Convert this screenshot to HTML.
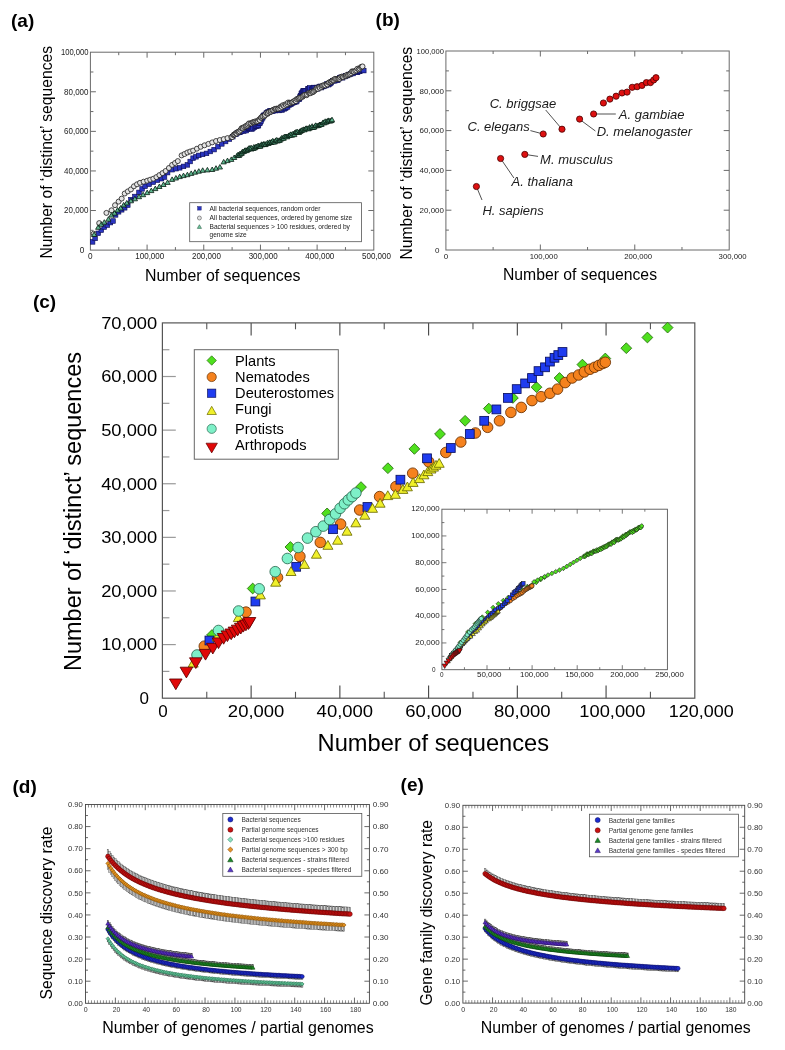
<!DOCTYPE html>
<html><head><meta charset="utf-8"><style>
html,body{margin:0;padding:0;background:#fff;}
body{width:785px;height:1050px;overflow:hidden;}
svg{display:block;font-family:"Liberation Sans",sans-serif;will-change:transform;}
</style></head><body>
<svg width="785" height="1050" viewBox="0 0 785 1050">
<rect x="0" y="0" width="785" height="1050" fill="#fff"/>
<text x="11" y="26.9" font-size="19" font-weight="bold">(a)</text>
<text x="375.6" y="25.7" font-size="19" font-weight="bold">(b)</text>
<text x="32.9" y="307.5" font-size="19" font-weight="bold">(c)</text>
<text x="12.5" y="792.6" font-size="19" font-weight="bold">(d)</text>
<text x="400.6" y="791.4" font-size="19" font-weight="bold">(e)</text>
<rect x="90.4" y="52.2" width="283.4" height="197.9" fill="none" stroke="#6a6a6a" stroke-width="1"/>
<line x1="147.08" y1="250.1" x2="147.08" y2="244.6" stroke="#6a6a6a" stroke-width="1"/>
<line x1="147.08" y1="52.2" x2="147.08" y2="57.7" stroke="#6a6a6a" stroke-width="1"/>
<line x1="203.76" y1="250.1" x2="203.76" y2="244.6" stroke="#6a6a6a" stroke-width="1"/>
<line x1="203.76" y1="52.2" x2="203.76" y2="57.7" stroke="#6a6a6a" stroke-width="1"/>
<line x1="260.44" y1="250.1" x2="260.44" y2="244.6" stroke="#6a6a6a" stroke-width="1"/>
<line x1="260.44" y1="52.2" x2="260.44" y2="57.7" stroke="#6a6a6a" stroke-width="1"/>
<line x1="317.12" y1="250.1" x2="317.12" y2="244.6" stroke="#6a6a6a" stroke-width="1"/>
<line x1="317.12" y1="52.2" x2="317.12" y2="57.7" stroke="#6a6a6a" stroke-width="1"/>
<line x1="118.74" y1="250.1" x2="118.74" y2="247.1" stroke="#6a6a6a" stroke-width="1"/>
<line x1="118.74" y1="52.2" x2="118.74" y2="55.2" stroke="#6a6a6a" stroke-width="1"/>
<line x1="175.42" y1="250.1" x2="175.42" y2="247.1" stroke="#6a6a6a" stroke-width="1"/>
<line x1="175.42" y1="52.2" x2="175.42" y2="55.2" stroke="#6a6a6a" stroke-width="1"/>
<line x1="232.1" y1="250.1" x2="232.1" y2="247.1" stroke="#6a6a6a" stroke-width="1"/>
<line x1="232.1" y1="52.2" x2="232.1" y2="55.2" stroke="#6a6a6a" stroke-width="1"/>
<line x1="288.78" y1="250.1" x2="288.78" y2="247.1" stroke="#6a6a6a" stroke-width="1"/>
<line x1="288.78" y1="52.2" x2="288.78" y2="55.2" stroke="#6a6a6a" stroke-width="1"/>
<line x1="345.46" y1="250.1" x2="345.46" y2="247.1" stroke="#6a6a6a" stroke-width="1"/>
<line x1="345.46" y1="52.2" x2="345.46" y2="55.2" stroke="#6a6a6a" stroke-width="1"/>
<line x1="90.4" y1="210.52" x2="95.9" y2="210.52" stroke="#6a6a6a" stroke-width="1"/>
<line x1="373.8" y1="210.52" x2="368.3" y2="210.52" stroke="#6a6a6a" stroke-width="1"/>
<line x1="90.4" y1="170.94" x2="95.9" y2="170.94" stroke="#6a6a6a" stroke-width="1"/>
<line x1="373.8" y1="170.94" x2="368.3" y2="170.94" stroke="#6a6a6a" stroke-width="1"/>
<line x1="90.4" y1="131.36" x2="95.9" y2="131.36" stroke="#6a6a6a" stroke-width="1"/>
<line x1="373.8" y1="131.36" x2="368.3" y2="131.36" stroke="#6a6a6a" stroke-width="1"/>
<line x1="90.4" y1="91.78" x2="95.9" y2="91.78" stroke="#6a6a6a" stroke-width="1"/>
<line x1="373.8" y1="91.78" x2="368.3" y2="91.78" stroke="#6a6a6a" stroke-width="1"/>
<line x1="90.4" y1="230.31" x2="93.4" y2="230.31" stroke="#6a6a6a" stroke-width="1"/>
<line x1="373.8" y1="230.31" x2="370.8" y2="230.31" stroke="#6a6a6a" stroke-width="1"/>
<line x1="90.4" y1="190.73" x2="93.4" y2="190.73" stroke="#6a6a6a" stroke-width="1"/>
<line x1="373.8" y1="190.73" x2="370.8" y2="190.73" stroke="#6a6a6a" stroke-width="1"/>
<line x1="90.4" y1="151.15" x2="93.4" y2="151.15" stroke="#6a6a6a" stroke-width="1"/>
<line x1="373.8" y1="151.15" x2="370.8" y2="151.15" stroke="#6a6a6a" stroke-width="1"/>
<line x1="90.4" y1="111.57" x2="93.4" y2="111.57" stroke="#6a6a6a" stroke-width="1"/>
<line x1="373.8" y1="111.57" x2="370.8" y2="111.57" stroke="#6a6a6a" stroke-width="1"/>
<line x1="90.4" y1="71.99" x2="93.4" y2="71.99" stroke="#6a6a6a" stroke-width="1"/>
<line x1="373.8" y1="71.99" x2="370.8" y2="71.99" stroke="#6a6a6a" stroke-width="1"/>
<text x="88.5" y="213.32" font-size="8.2" text-anchor="end" textLength="24.4" lengthAdjust="spacingAndGlyphs" fill="#222">20,000</text>
<text x="88.5" y="173.74" font-size="8.2" text-anchor="end" textLength="24.4" lengthAdjust="spacingAndGlyphs" fill="#222">40,000</text>
<text x="88.5" y="134.16" font-size="8.2" text-anchor="end" textLength="24.4" lengthAdjust="spacingAndGlyphs" fill="#222">60,000</text>
<text x="88.5" y="94.58" font-size="8.2" text-anchor="end" textLength="24.4" lengthAdjust="spacingAndGlyphs" fill="#222">80,000</text>
<text x="88.5" y="55" font-size="8.2" text-anchor="end" textLength="27.6" lengthAdjust="spacingAndGlyphs" fill="#222">100,000</text>
<text x="84.2" y="252.9" font-size="8.2" text-anchor="end" fill="#222">0</text>
<text x="90.4" y="259.4" font-size="8.2" text-anchor="middle" fill="#222">0</text>
<text x="149.78" y="259.4" font-size="8.2" text-anchor="middle" textLength="29" lengthAdjust="spacingAndGlyphs" fill="#222">100,000</text>
<text x="206.46" y="259.4" font-size="8.2" text-anchor="middle" textLength="29" lengthAdjust="spacingAndGlyphs" fill="#222">200,000</text>
<text x="263.14" y="259.4" font-size="8.2" text-anchor="middle" textLength="29" lengthAdjust="spacingAndGlyphs" fill="#222">300,000</text>
<text x="319.82" y="259.4" font-size="8.2" text-anchor="middle" textLength="29" lengthAdjust="spacingAndGlyphs" fill="#222">400,000</text>
<text x="376.5" y="259.4" font-size="8.2" text-anchor="middle" textLength="29" lengthAdjust="spacingAndGlyphs" fill="#222">500,000</text>
<text x="145" y="280.8" font-size="16" textLength="155.5" lengthAdjust="spacingAndGlyphs">Number of sequences</text>
<text x="52" y="258.6" font-size="15.8" textLength="212.6" lengthAdjust="spacingAndGlyphs" transform="rotate(-90 52 258.6)">Number of ‘distinct’ sequences</text>
<rect x="189.7" y="202.7" width="171.8" height="39" fill="#fff" stroke="#555" stroke-width="0.8"/>
<text x="209.5" y="210.6" font-size="6.6" textLength="110.9" lengthAdjust="spacingAndGlyphs" fill="#222">All bacterial sequences, random order</text>
<text x="209.5" y="220.3" font-size="6.6" textLength="142.8" lengthAdjust="spacingAndGlyphs" fill="#222">All bacterial sequences, ordered by genome size</text>
<text x="209.5" y="228.8" font-size="6.6" textLength="140.4" lengthAdjust="spacingAndGlyphs" fill="#222">Bacterial sequences &gt; 100 residues, ordered by</text>
<text x="209.5" y="236.5" font-size="6.6" textLength="37.1" lengthAdjust="spacingAndGlyphs" fill="#222">genome size</text>
<rect x="445.9" y="51" width="283.3" height="199" fill="none" stroke="#6a6a6a" stroke-width="1"/>
<line x1="540.33" y1="250" x2="540.33" y2="244.5" stroke="#6a6a6a" stroke-width="1"/>
<line x1="540.33" y1="51" x2="540.33" y2="56.5" stroke="#6a6a6a" stroke-width="1"/>
<line x1="634.77" y1="250" x2="634.77" y2="244.5" stroke="#6a6a6a" stroke-width="1"/>
<line x1="634.77" y1="51" x2="634.77" y2="56.5" stroke="#6a6a6a" stroke-width="1"/>
<line x1="493.12" y1="250" x2="493.12" y2="247" stroke="#6a6a6a" stroke-width="1"/>
<line x1="493.12" y1="51" x2="493.12" y2="54" stroke="#6a6a6a" stroke-width="1"/>
<line x1="587.55" y1="250" x2="587.55" y2="247" stroke="#6a6a6a" stroke-width="1"/>
<line x1="587.55" y1="51" x2="587.55" y2="54" stroke="#6a6a6a" stroke-width="1"/>
<line x1="681.98" y1="250" x2="681.98" y2="247" stroke="#6a6a6a" stroke-width="1"/>
<line x1="681.98" y1="51" x2="681.98" y2="54" stroke="#6a6a6a" stroke-width="1"/>
<line x1="445.9" y1="210.2" x2="451.4" y2="210.2" stroke="#6a6a6a" stroke-width="1"/>
<line x1="729.2" y1="210.2" x2="723.7" y2="210.2" stroke="#6a6a6a" stroke-width="1"/>
<line x1="445.9" y1="170.4" x2="451.4" y2="170.4" stroke="#6a6a6a" stroke-width="1"/>
<line x1="729.2" y1="170.4" x2="723.7" y2="170.4" stroke="#6a6a6a" stroke-width="1"/>
<line x1="445.9" y1="130.6" x2="451.4" y2="130.6" stroke="#6a6a6a" stroke-width="1"/>
<line x1="729.2" y1="130.6" x2="723.7" y2="130.6" stroke="#6a6a6a" stroke-width="1"/>
<line x1="445.9" y1="90.8" x2="451.4" y2="90.8" stroke="#6a6a6a" stroke-width="1"/>
<line x1="729.2" y1="90.8" x2="723.7" y2="90.8" stroke="#6a6a6a" stroke-width="1"/>
<line x1="445.9" y1="230.1" x2="448.9" y2="230.1" stroke="#6a6a6a" stroke-width="1"/>
<line x1="729.2" y1="230.1" x2="726.2" y2="230.1" stroke="#6a6a6a" stroke-width="1"/>
<line x1="445.9" y1="190.3" x2="448.9" y2="190.3" stroke="#6a6a6a" stroke-width="1"/>
<line x1="729.2" y1="190.3" x2="726.2" y2="190.3" stroke="#6a6a6a" stroke-width="1"/>
<line x1="445.9" y1="150.5" x2="448.9" y2="150.5" stroke="#6a6a6a" stroke-width="1"/>
<line x1="729.2" y1="150.5" x2="726.2" y2="150.5" stroke="#6a6a6a" stroke-width="1"/>
<line x1="445.9" y1="110.7" x2="448.9" y2="110.7" stroke="#6a6a6a" stroke-width="1"/>
<line x1="729.2" y1="110.7" x2="726.2" y2="110.7" stroke="#6a6a6a" stroke-width="1"/>
<line x1="445.9" y1="70.9" x2="448.9" y2="70.9" stroke="#6a6a6a" stroke-width="1"/>
<line x1="729.2" y1="70.9" x2="726.2" y2="70.9" stroke="#6a6a6a" stroke-width="1"/>
<text x="443.9" y="213" font-size="8" text-anchor="end" textLength="24.3" lengthAdjust="spacingAndGlyphs" fill="#222">20,000</text>
<text x="443.9" y="173.2" font-size="8" text-anchor="end" textLength="24.3" lengthAdjust="spacingAndGlyphs" fill="#222">40,000</text>
<text x="443.9" y="133.4" font-size="8" text-anchor="end" textLength="24.3" lengthAdjust="spacingAndGlyphs" fill="#222">60,000</text>
<text x="443.9" y="93.6" font-size="8" text-anchor="end" textLength="24.3" lengthAdjust="spacingAndGlyphs" fill="#222">80,000</text>
<text x="443.9" y="53.8" font-size="8" text-anchor="end" textLength="27.3" lengthAdjust="spacingAndGlyphs" fill="#222">100,000</text>
<text x="439.5" y="252.8" font-size="8" text-anchor="end" fill="#222">0</text>
<text x="445.9" y="259" font-size="8" text-anchor="middle" fill="#222">0</text>
<text x="543.73" y="259" font-size="8" text-anchor="middle" textLength="28" lengthAdjust="spacingAndGlyphs" fill="#222">100,000</text>
<text x="638.17" y="259" font-size="8" text-anchor="middle" textLength="28" lengthAdjust="spacingAndGlyphs" fill="#222">200,000</text>
<text x="732.6" y="259" font-size="8" text-anchor="middle" textLength="28" lengthAdjust="spacingAndGlyphs" fill="#222">300,000</text>
<text x="503" y="280.3" font-size="16" textLength="154" lengthAdjust="spacingAndGlyphs">Number of sequences</text>
<text x="411.8" y="259.6" font-size="15.8" textLength="212.8" lengthAdjust="spacingAndGlyphs" transform="rotate(-90 411.8 259.6)">Number of ‘distinct’ sequences</text>
<line x1="251.13" y1="698.2" x2="251.13" y2="685.5" stroke="#444" stroke-width="1.1"/>
<line x1="251.13" y1="322.9" x2="251.13" y2="335.6" stroke="#444" stroke-width="1.1"/>
<line x1="339.87" y1="698.2" x2="339.87" y2="685.5" stroke="#444" stroke-width="1.1"/>
<line x1="339.87" y1="322.9" x2="339.87" y2="335.6" stroke="#444" stroke-width="1.1"/>
<line x1="428.6" y1="698.2" x2="428.6" y2="685.5" stroke="#444" stroke-width="1.1"/>
<line x1="428.6" y1="322.9" x2="428.6" y2="335.6" stroke="#444" stroke-width="1.1"/>
<line x1="517.33" y1="698.2" x2="517.33" y2="685.5" stroke="#444" stroke-width="1.1"/>
<line x1="517.33" y1="322.9" x2="517.33" y2="335.6" stroke="#444" stroke-width="1.1"/>
<line x1="606.07" y1="698.2" x2="606.07" y2="685.5" stroke="#444" stroke-width="1.1"/>
<line x1="606.07" y1="322.9" x2="606.07" y2="335.6" stroke="#444" stroke-width="1.1"/>
<line x1="206.77" y1="698.2" x2="206.77" y2="691.8" stroke="#555" stroke-width="1.1"/>
<line x1="206.77" y1="322.9" x2="206.77" y2="329.3" stroke="#555" stroke-width="1.1"/>
<line x1="295.5" y1="698.2" x2="295.5" y2="691.8" stroke="#555" stroke-width="1.1"/>
<line x1="295.5" y1="322.9" x2="295.5" y2="329.3" stroke="#555" stroke-width="1.1"/>
<line x1="384.23" y1="698.2" x2="384.23" y2="691.8" stroke="#555" stroke-width="1.1"/>
<line x1="384.23" y1="322.9" x2="384.23" y2="329.3" stroke="#555" stroke-width="1.1"/>
<line x1="472.97" y1="698.2" x2="472.97" y2="691.8" stroke="#555" stroke-width="1.1"/>
<line x1="472.97" y1="322.9" x2="472.97" y2="329.3" stroke="#555" stroke-width="1.1"/>
<line x1="561.7" y1="698.2" x2="561.7" y2="691.8" stroke="#555" stroke-width="1.1"/>
<line x1="561.7" y1="322.9" x2="561.7" y2="329.3" stroke="#555" stroke-width="1.1"/>
<line x1="650.43" y1="698.2" x2="650.43" y2="691.8" stroke="#555" stroke-width="1.1"/>
<line x1="650.43" y1="322.9" x2="650.43" y2="329.3" stroke="#555" stroke-width="1.1"/>
<line x1="162.4" y1="644.59" x2="175.8" y2="644.59" stroke="#999" stroke-width="1.2"/>
<line x1="162.4" y1="590.97" x2="175.8" y2="590.97" stroke="#999" stroke-width="1.2"/>
<line x1="162.4" y1="537.36" x2="175.8" y2="537.36" stroke="#999" stroke-width="1.2"/>
<line x1="162.4" y1="483.74" x2="175.8" y2="483.74" stroke="#999" stroke-width="1.2"/>
<line x1="162.4" y1="430.13" x2="175.8" y2="430.13" stroke="#999" stroke-width="1.2"/>
<line x1="162.4" y1="376.51" x2="175.8" y2="376.51" stroke="#999" stroke-width="1.2"/>
<line x1="162.4" y1="671.39" x2="169.4" y2="671.39" stroke="#999" stroke-width="1.2"/>
<line x1="162.4" y1="617.78" x2="169.4" y2="617.78" stroke="#999" stroke-width="1.2"/>
<line x1="162.4" y1="564.16" x2="169.4" y2="564.16" stroke="#999" stroke-width="1.2"/>
<line x1="162.4" y1="510.55" x2="169.4" y2="510.55" stroke="#999" stroke-width="1.2"/>
<line x1="162.4" y1="456.94" x2="169.4" y2="456.94" stroke="#999" stroke-width="1.2"/>
<line x1="162.4" y1="403.32" x2="169.4" y2="403.32" stroke="#999" stroke-width="1.2"/>
<line x1="162.4" y1="349.71" x2="169.4" y2="349.71" stroke="#999" stroke-width="1.2"/>
<rect x="162.4" y="322.9" width="532.4" height="375.3" fill="none" stroke="#555" stroke-width="1.2"/>
<text x="157.2" y="650.49" font-size="17" text-anchor="end" textLength="56" lengthAdjust="spacingAndGlyphs">10,000</text>
<text x="157.2" y="596.87" font-size="17" text-anchor="end" textLength="56" lengthAdjust="spacingAndGlyphs">20,000</text>
<text x="157.2" y="543.26" font-size="17" text-anchor="end" textLength="56" lengthAdjust="spacingAndGlyphs">30,000</text>
<text x="157.2" y="489.64" font-size="17" text-anchor="end" textLength="56" lengthAdjust="spacingAndGlyphs">40,000</text>
<text x="157.2" y="436.03" font-size="17" text-anchor="end" textLength="56" lengthAdjust="spacingAndGlyphs">50,000</text>
<text x="157.2" y="382.41" font-size="17" text-anchor="end" textLength="56" lengthAdjust="spacingAndGlyphs">60,000</text>
<text x="157.2" y="328.8" font-size="17" text-anchor="end" textLength="56" lengthAdjust="spacingAndGlyphs">70,000</text>
<text x="148.9" y="704.1" font-size="17" text-anchor="end">0</text>
<text x="163" y="716.8" font-size="17" text-anchor="middle">0</text>
<text x="256.13" y="716.8" font-size="17" text-anchor="middle" textLength="56.5" lengthAdjust="spacingAndGlyphs">20,000</text>
<text x="344.87" y="716.8" font-size="17" text-anchor="middle" textLength="56.5" lengthAdjust="spacingAndGlyphs">40,000</text>
<text x="433.6" y="716.8" font-size="17" text-anchor="middle" textLength="56.5" lengthAdjust="spacingAndGlyphs">60,000</text>
<text x="522.33" y="716.8" font-size="17" text-anchor="middle" textLength="56.5" lengthAdjust="spacingAndGlyphs">80,000</text>
<text x="612.37" y="716.8" font-size="17" text-anchor="middle" textLength="66" lengthAdjust="spacingAndGlyphs">100,000</text>
<text x="701.3" y="716.8" font-size="17" text-anchor="middle" textLength="65" lengthAdjust="spacingAndGlyphs">120,000</text>
<text x="317.6" y="751" font-size="23.8" textLength="231.5" lengthAdjust="spacingAndGlyphs">Number of sequences</text>
<text x="81.2" y="671" font-size="23.5" textLength="319" lengthAdjust="spacingAndGlyphs" transform="rotate(-90 81.2 671)">Number of ‘distinct’ sequences</text>
<rect x="194.3" y="349.7" width="144" height="109.5" fill="#fff" stroke="#666" stroke-width="1"/>
<text x="235.1" y="366" font-size="14.6">Plants</text>
<text x="235.1" y="382" font-size="14.6">Nematodes</text>
<text x="235.1" y="398.1" font-size="14.6">Deuterostomes</text>
<text x="235.1" y="414.4" font-size="14.6">Fungi</text>
<text x="235.1" y="433.8" font-size="14.6">Protists</text>
<text x="235.1" y="450" font-size="14.6">Arthropods</text>
<rect x="85.5" y="804.5" width="283.9" height="198.8" fill="none" stroke="#444" stroke-width="0.9"/>
<line x1="115.38" y1="1003.3" x2="115.38" y2="997.6" stroke="#444" stroke-width="0.8"/>
<line x1="115.38" y1="804.5" x2="115.38" y2="810.2" stroke="#444" stroke-width="0.8"/>
<line x1="145.27" y1="1003.3" x2="145.27" y2="997.6" stroke="#444" stroke-width="0.8"/>
<line x1="145.27" y1="804.5" x2="145.27" y2="810.2" stroke="#444" stroke-width="0.8"/>
<line x1="175.15" y1="1003.3" x2="175.15" y2="997.6" stroke="#444" stroke-width="0.8"/>
<line x1="175.15" y1="804.5" x2="175.15" y2="810.2" stroke="#444" stroke-width="0.8"/>
<line x1="205.04" y1="1003.3" x2="205.04" y2="997.6" stroke="#444" stroke-width="0.8"/>
<line x1="205.04" y1="804.5" x2="205.04" y2="810.2" stroke="#444" stroke-width="0.8"/>
<line x1="234.92" y1="1003.3" x2="234.92" y2="997.6" stroke="#444" stroke-width="0.8"/>
<line x1="234.92" y1="804.5" x2="234.92" y2="810.2" stroke="#444" stroke-width="0.8"/>
<line x1="264.81" y1="1003.3" x2="264.81" y2="997.6" stroke="#444" stroke-width="0.8"/>
<line x1="264.81" y1="804.5" x2="264.81" y2="810.2" stroke="#444" stroke-width="0.8"/>
<line x1="294.69" y1="1003.3" x2="294.69" y2="997.6" stroke="#444" stroke-width="0.8"/>
<line x1="294.69" y1="804.5" x2="294.69" y2="810.2" stroke="#444" stroke-width="0.8"/>
<line x1="324.57" y1="1003.3" x2="324.57" y2="997.6" stroke="#444" stroke-width="0.8"/>
<line x1="324.57" y1="804.5" x2="324.57" y2="810.2" stroke="#444" stroke-width="0.8"/>
<line x1="354.46" y1="1003.3" x2="354.46" y2="997.6" stroke="#444" stroke-width="0.8"/>
<line x1="354.46" y1="804.5" x2="354.46" y2="810.2" stroke="#444" stroke-width="0.8"/>
<line x1="88.49" y1="1003.3" x2="88.49" y2="1000.3" stroke="#444" stroke-width="0.6"/>
<line x1="88.49" y1="804.5" x2="88.49" y2="807.5" stroke="#444" stroke-width="0.6"/>
<line x1="91.48" y1="1003.3" x2="91.48" y2="1000.3" stroke="#444" stroke-width="0.6"/>
<line x1="91.48" y1="804.5" x2="91.48" y2="807.5" stroke="#444" stroke-width="0.6"/>
<line x1="94.47" y1="1003.3" x2="94.47" y2="1000.3" stroke="#444" stroke-width="0.6"/>
<line x1="94.47" y1="804.5" x2="94.47" y2="807.5" stroke="#444" stroke-width="0.6"/>
<line x1="97.45" y1="1003.3" x2="97.45" y2="1000.3" stroke="#444" stroke-width="0.6"/>
<line x1="97.45" y1="804.5" x2="97.45" y2="807.5" stroke="#444" stroke-width="0.6"/>
<line x1="100.44" y1="1003.3" x2="100.44" y2="1000.3" stroke="#444" stroke-width="0.6"/>
<line x1="100.44" y1="804.5" x2="100.44" y2="807.5" stroke="#444" stroke-width="0.6"/>
<line x1="103.43" y1="1003.3" x2="103.43" y2="1000.3" stroke="#444" stroke-width="0.6"/>
<line x1="103.43" y1="804.5" x2="103.43" y2="807.5" stroke="#444" stroke-width="0.6"/>
<line x1="106.42" y1="1003.3" x2="106.42" y2="1000.3" stroke="#444" stroke-width="0.6"/>
<line x1="106.42" y1="804.5" x2="106.42" y2="807.5" stroke="#444" stroke-width="0.6"/>
<line x1="109.41" y1="1003.3" x2="109.41" y2="1000.3" stroke="#444" stroke-width="0.6"/>
<line x1="109.41" y1="804.5" x2="109.41" y2="807.5" stroke="#444" stroke-width="0.6"/>
<line x1="112.4" y1="1003.3" x2="112.4" y2="1000.3" stroke="#444" stroke-width="0.6"/>
<line x1="112.4" y1="804.5" x2="112.4" y2="807.5" stroke="#444" stroke-width="0.6"/>
<line x1="118.37" y1="1003.3" x2="118.37" y2="1000.3" stroke="#444" stroke-width="0.6"/>
<line x1="118.37" y1="804.5" x2="118.37" y2="807.5" stroke="#444" stroke-width="0.6"/>
<line x1="121.36" y1="1003.3" x2="121.36" y2="1000.3" stroke="#444" stroke-width="0.6"/>
<line x1="121.36" y1="804.5" x2="121.36" y2="807.5" stroke="#444" stroke-width="0.6"/>
<line x1="124.35" y1="1003.3" x2="124.35" y2="1000.3" stroke="#444" stroke-width="0.6"/>
<line x1="124.35" y1="804.5" x2="124.35" y2="807.5" stroke="#444" stroke-width="0.6"/>
<line x1="127.34" y1="1003.3" x2="127.34" y2="1000.3" stroke="#444" stroke-width="0.6"/>
<line x1="127.34" y1="804.5" x2="127.34" y2="807.5" stroke="#444" stroke-width="0.6"/>
<line x1="130.33" y1="1003.3" x2="130.33" y2="1000.3" stroke="#444" stroke-width="0.6"/>
<line x1="130.33" y1="804.5" x2="130.33" y2="807.5" stroke="#444" stroke-width="0.6"/>
<line x1="133.31" y1="1003.3" x2="133.31" y2="1000.3" stroke="#444" stroke-width="0.6"/>
<line x1="133.31" y1="804.5" x2="133.31" y2="807.5" stroke="#444" stroke-width="0.6"/>
<line x1="136.3" y1="1003.3" x2="136.3" y2="1000.3" stroke="#444" stroke-width="0.6"/>
<line x1="136.3" y1="804.5" x2="136.3" y2="807.5" stroke="#444" stroke-width="0.6"/>
<line x1="139.29" y1="1003.3" x2="139.29" y2="1000.3" stroke="#444" stroke-width="0.6"/>
<line x1="139.29" y1="804.5" x2="139.29" y2="807.5" stroke="#444" stroke-width="0.6"/>
<line x1="142.28" y1="1003.3" x2="142.28" y2="1000.3" stroke="#444" stroke-width="0.6"/>
<line x1="142.28" y1="804.5" x2="142.28" y2="807.5" stroke="#444" stroke-width="0.6"/>
<line x1="148.26" y1="1003.3" x2="148.26" y2="1000.3" stroke="#444" stroke-width="0.6"/>
<line x1="148.26" y1="804.5" x2="148.26" y2="807.5" stroke="#444" stroke-width="0.6"/>
<line x1="151.25" y1="1003.3" x2="151.25" y2="1000.3" stroke="#444" stroke-width="0.6"/>
<line x1="151.25" y1="804.5" x2="151.25" y2="807.5" stroke="#444" stroke-width="0.6"/>
<line x1="154.23" y1="1003.3" x2="154.23" y2="1000.3" stroke="#444" stroke-width="0.6"/>
<line x1="154.23" y1="804.5" x2="154.23" y2="807.5" stroke="#444" stroke-width="0.6"/>
<line x1="157.22" y1="1003.3" x2="157.22" y2="1000.3" stroke="#444" stroke-width="0.6"/>
<line x1="157.22" y1="804.5" x2="157.22" y2="807.5" stroke="#444" stroke-width="0.6"/>
<line x1="160.21" y1="1003.3" x2="160.21" y2="1000.3" stroke="#444" stroke-width="0.6"/>
<line x1="160.21" y1="804.5" x2="160.21" y2="807.5" stroke="#444" stroke-width="0.6"/>
<line x1="163.2" y1="1003.3" x2="163.2" y2="1000.3" stroke="#444" stroke-width="0.6"/>
<line x1="163.2" y1="804.5" x2="163.2" y2="807.5" stroke="#444" stroke-width="0.6"/>
<line x1="166.19" y1="1003.3" x2="166.19" y2="1000.3" stroke="#444" stroke-width="0.6"/>
<line x1="166.19" y1="804.5" x2="166.19" y2="807.5" stroke="#444" stroke-width="0.6"/>
<line x1="169.18" y1="1003.3" x2="169.18" y2="1000.3" stroke="#444" stroke-width="0.6"/>
<line x1="169.18" y1="804.5" x2="169.18" y2="807.5" stroke="#444" stroke-width="0.6"/>
<line x1="172.16" y1="1003.3" x2="172.16" y2="1000.3" stroke="#444" stroke-width="0.6"/>
<line x1="172.16" y1="804.5" x2="172.16" y2="807.5" stroke="#444" stroke-width="0.6"/>
<line x1="178.14" y1="1003.3" x2="178.14" y2="1000.3" stroke="#444" stroke-width="0.6"/>
<line x1="178.14" y1="804.5" x2="178.14" y2="807.5" stroke="#444" stroke-width="0.6"/>
<line x1="181.13" y1="1003.3" x2="181.13" y2="1000.3" stroke="#444" stroke-width="0.6"/>
<line x1="181.13" y1="804.5" x2="181.13" y2="807.5" stroke="#444" stroke-width="0.6"/>
<line x1="184.12" y1="1003.3" x2="184.12" y2="1000.3" stroke="#444" stroke-width="0.6"/>
<line x1="184.12" y1="804.5" x2="184.12" y2="807.5" stroke="#444" stroke-width="0.6"/>
<line x1="187.11" y1="1003.3" x2="187.11" y2="1000.3" stroke="#444" stroke-width="0.6"/>
<line x1="187.11" y1="804.5" x2="187.11" y2="807.5" stroke="#444" stroke-width="0.6"/>
<line x1="190.09" y1="1003.3" x2="190.09" y2="1000.3" stroke="#444" stroke-width="0.6"/>
<line x1="190.09" y1="804.5" x2="190.09" y2="807.5" stroke="#444" stroke-width="0.6"/>
<line x1="193.08" y1="1003.3" x2="193.08" y2="1000.3" stroke="#444" stroke-width="0.6"/>
<line x1="193.08" y1="804.5" x2="193.08" y2="807.5" stroke="#444" stroke-width="0.6"/>
<line x1="196.07" y1="1003.3" x2="196.07" y2="1000.3" stroke="#444" stroke-width="0.6"/>
<line x1="196.07" y1="804.5" x2="196.07" y2="807.5" stroke="#444" stroke-width="0.6"/>
<line x1="199.06" y1="1003.3" x2="199.06" y2="1000.3" stroke="#444" stroke-width="0.6"/>
<line x1="199.06" y1="804.5" x2="199.06" y2="807.5" stroke="#444" stroke-width="0.6"/>
<line x1="202.05" y1="1003.3" x2="202.05" y2="1000.3" stroke="#444" stroke-width="0.6"/>
<line x1="202.05" y1="804.5" x2="202.05" y2="807.5" stroke="#444" stroke-width="0.6"/>
<line x1="208.03" y1="1003.3" x2="208.03" y2="1000.3" stroke="#444" stroke-width="0.6"/>
<line x1="208.03" y1="804.5" x2="208.03" y2="807.5" stroke="#444" stroke-width="0.6"/>
<line x1="211.01" y1="1003.3" x2="211.01" y2="1000.3" stroke="#444" stroke-width="0.6"/>
<line x1="211.01" y1="804.5" x2="211.01" y2="807.5" stroke="#444" stroke-width="0.6"/>
<line x1="214" y1="1003.3" x2="214" y2="1000.3" stroke="#444" stroke-width="0.6"/>
<line x1="214" y1="804.5" x2="214" y2="807.5" stroke="#444" stroke-width="0.6"/>
<line x1="216.99" y1="1003.3" x2="216.99" y2="1000.3" stroke="#444" stroke-width="0.6"/>
<line x1="216.99" y1="804.5" x2="216.99" y2="807.5" stroke="#444" stroke-width="0.6"/>
<line x1="219.98" y1="1003.3" x2="219.98" y2="1000.3" stroke="#444" stroke-width="0.6"/>
<line x1="219.98" y1="804.5" x2="219.98" y2="807.5" stroke="#444" stroke-width="0.6"/>
<line x1="222.97" y1="1003.3" x2="222.97" y2="1000.3" stroke="#444" stroke-width="0.6"/>
<line x1="222.97" y1="804.5" x2="222.97" y2="807.5" stroke="#444" stroke-width="0.6"/>
<line x1="225.96" y1="1003.3" x2="225.96" y2="1000.3" stroke="#444" stroke-width="0.6"/>
<line x1="225.96" y1="804.5" x2="225.96" y2="807.5" stroke="#444" stroke-width="0.6"/>
<line x1="228.94" y1="1003.3" x2="228.94" y2="1000.3" stroke="#444" stroke-width="0.6"/>
<line x1="228.94" y1="804.5" x2="228.94" y2="807.5" stroke="#444" stroke-width="0.6"/>
<line x1="231.93" y1="1003.3" x2="231.93" y2="1000.3" stroke="#444" stroke-width="0.6"/>
<line x1="231.93" y1="804.5" x2="231.93" y2="807.5" stroke="#444" stroke-width="0.6"/>
<line x1="237.91" y1="1003.3" x2="237.91" y2="1000.3" stroke="#444" stroke-width="0.6"/>
<line x1="237.91" y1="804.5" x2="237.91" y2="807.5" stroke="#444" stroke-width="0.6"/>
<line x1="240.9" y1="1003.3" x2="240.9" y2="1000.3" stroke="#444" stroke-width="0.6"/>
<line x1="240.9" y1="804.5" x2="240.9" y2="807.5" stroke="#444" stroke-width="0.6"/>
<line x1="243.89" y1="1003.3" x2="243.89" y2="1000.3" stroke="#444" stroke-width="0.6"/>
<line x1="243.89" y1="804.5" x2="243.89" y2="807.5" stroke="#444" stroke-width="0.6"/>
<line x1="246.87" y1="1003.3" x2="246.87" y2="1000.3" stroke="#444" stroke-width="0.6"/>
<line x1="246.87" y1="804.5" x2="246.87" y2="807.5" stroke="#444" stroke-width="0.6"/>
<line x1="249.86" y1="1003.3" x2="249.86" y2="1000.3" stroke="#444" stroke-width="0.6"/>
<line x1="249.86" y1="804.5" x2="249.86" y2="807.5" stroke="#444" stroke-width="0.6"/>
<line x1="252.85" y1="1003.3" x2="252.85" y2="1000.3" stroke="#444" stroke-width="0.6"/>
<line x1="252.85" y1="804.5" x2="252.85" y2="807.5" stroke="#444" stroke-width="0.6"/>
<line x1="255.84" y1="1003.3" x2="255.84" y2="1000.3" stroke="#444" stroke-width="0.6"/>
<line x1="255.84" y1="804.5" x2="255.84" y2="807.5" stroke="#444" stroke-width="0.6"/>
<line x1="258.83" y1="1003.3" x2="258.83" y2="1000.3" stroke="#444" stroke-width="0.6"/>
<line x1="258.83" y1="804.5" x2="258.83" y2="807.5" stroke="#444" stroke-width="0.6"/>
<line x1="261.82" y1="1003.3" x2="261.82" y2="1000.3" stroke="#444" stroke-width="0.6"/>
<line x1="261.82" y1="804.5" x2="261.82" y2="807.5" stroke="#444" stroke-width="0.6"/>
<line x1="267.79" y1="1003.3" x2="267.79" y2="1000.3" stroke="#444" stroke-width="0.6"/>
<line x1="267.79" y1="804.5" x2="267.79" y2="807.5" stroke="#444" stroke-width="0.6"/>
<line x1="270.78" y1="1003.3" x2="270.78" y2="1000.3" stroke="#444" stroke-width="0.6"/>
<line x1="270.78" y1="804.5" x2="270.78" y2="807.5" stroke="#444" stroke-width="0.6"/>
<line x1="273.77" y1="1003.3" x2="273.77" y2="1000.3" stroke="#444" stroke-width="0.6"/>
<line x1="273.77" y1="804.5" x2="273.77" y2="807.5" stroke="#444" stroke-width="0.6"/>
<line x1="276.76" y1="1003.3" x2="276.76" y2="1000.3" stroke="#444" stroke-width="0.6"/>
<line x1="276.76" y1="804.5" x2="276.76" y2="807.5" stroke="#444" stroke-width="0.6"/>
<line x1="279.75" y1="1003.3" x2="279.75" y2="1000.3" stroke="#444" stroke-width="0.6"/>
<line x1="279.75" y1="804.5" x2="279.75" y2="807.5" stroke="#444" stroke-width="0.6"/>
<line x1="282.74" y1="1003.3" x2="282.74" y2="1000.3" stroke="#444" stroke-width="0.6"/>
<line x1="282.74" y1="804.5" x2="282.74" y2="807.5" stroke="#444" stroke-width="0.6"/>
<line x1="285.72" y1="1003.3" x2="285.72" y2="1000.3" stroke="#444" stroke-width="0.6"/>
<line x1="285.72" y1="804.5" x2="285.72" y2="807.5" stroke="#444" stroke-width="0.6"/>
<line x1="288.71" y1="1003.3" x2="288.71" y2="1000.3" stroke="#444" stroke-width="0.6"/>
<line x1="288.71" y1="804.5" x2="288.71" y2="807.5" stroke="#444" stroke-width="0.6"/>
<line x1="291.7" y1="1003.3" x2="291.7" y2="1000.3" stroke="#444" stroke-width="0.6"/>
<line x1="291.7" y1="804.5" x2="291.7" y2="807.5" stroke="#444" stroke-width="0.6"/>
<line x1="297.68" y1="1003.3" x2="297.68" y2="1000.3" stroke="#444" stroke-width="0.6"/>
<line x1="297.68" y1="804.5" x2="297.68" y2="807.5" stroke="#444" stroke-width="0.6"/>
<line x1="300.67" y1="1003.3" x2="300.67" y2="1000.3" stroke="#444" stroke-width="0.6"/>
<line x1="300.67" y1="804.5" x2="300.67" y2="807.5" stroke="#444" stroke-width="0.6"/>
<line x1="303.65" y1="1003.3" x2="303.65" y2="1000.3" stroke="#444" stroke-width="0.6"/>
<line x1="303.65" y1="804.5" x2="303.65" y2="807.5" stroke="#444" stroke-width="0.6"/>
<line x1="306.64" y1="1003.3" x2="306.64" y2="1000.3" stroke="#444" stroke-width="0.6"/>
<line x1="306.64" y1="804.5" x2="306.64" y2="807.5" stroke="#444" stroke-width="0.6"/>
<line x1="309.63" y1="1003.3" x2="309.63" y2="1000.3" stroke="#444" stroke-width="0.6"/>
<line x1="309.63" y1="804.5" x2="309.63" y2="807.5" stroke="#444" stroke-width="0.6"/>
<line x1="312.62" y1="1003.3" x2="312.62" y2="1000.3" stroke="#444" stroke-width="0.6"/>
<line x1="312.62" y1="804.5" x2="312.62" y2="807.5" stroke="#444" stroke-width="0.6"/>
<line x1="315.61" y1="1003.3" x2="315.61" y2="1000.3" stroke="#444" stroke-width="0.6"/>
<line x1="315.61" y1="804.5" x2="315.61" y2="807.5" stroke="#444" stroke-width="0.6"/>
<line x1="318.6" y1="1003.3" x2="318.6" y2="1000.3" stroke="#444" stroke-width="0.6"/>
<line x1="318.6" y1="804.5" x2="318.6" y2="807.5" stroke="#444" stroke-width="0.6"/>
<line x1="321.59" y1="1003.3" x2="321.59" y2="1000.3" stroke="#444" stroke-width="0.6"/>
<line x1="321.59" y1="804.5" x2="321.59" y2="807.5" stroke="#444" stroke-width="0.6"/>
<line x1="327.56" y1="1003.3" x2="327.56" y2="1000.3" stroke="#444" stroke-width="0.6"/>
<line x1="327.56" y1="804.5" x2="327.56" y2="807.5" stroke="#444" stroke-width="0.6"/>
<line x1="330.55" y1="1003.3" x2="330.55" y2="1000.3" stroke="#444" stroke-width="0.6"/>
<line x1="330.55" y1="804.5" x2="330.55" y2="807.5" stroke="#444" stroke-width="0.6"/>
<line x1="333.54" y1="1003.3" x2="333.54" y2="1000.3" stroke="#444" stroke-width="0.6"/>
<line x1="333.54" y1="804.5" x2="333.54" y2="807.5" stroke="#444" stroke-width="0.6"/>
<line x1="336.53" y1="1003.3" x2="336.53" y2="1000.3" stroke="#444" stroke-width="0.6"/>
<line x1="336.53" y1="804.5" x2="336.53" y2="807.5" stroke="#444" stroke-width="0.6"/>
<line x1="339.52" y1="1003.3" x2="339.52" y2="1000.3" stroke="#444" stroke-width="0.6"/>
<line x1="339.52" y1="804.5" x2="339.52" y2="807.5" stroke="#444" stroke-width="0.6"/>
<line x1="342.5" y1="1003.3" x2="342.5" y2="1000.3" stroke="#444" stroke-width="0.6"/>
<line x1="342.5" y1="804.5" x2="342.5" y2="807.5" stroke="#444" stroke-width="0.6"/>
<line x1="345.49" y1="1003.3" x2="345.49" y2="1000.3" stroke="#444" stroke-width="0.6"/>
<line x1="345.49" y1="804.5" x2="345.49" y2="807.5" stroke="#444" stroke-width="0.6"/>
<line x1="348.48" y1="1003.3" x2="348.48" y2="1000.3" stroke="#444" stroke-width="0.6"/>
<line x1="348.48" y1="804.5" x2="348.48" y2="807.5" stroke="#444" stroke-width="0.6"/>
<line x1="351.47" y1="1003.3" x2="351.47" y2="1000.3" stroke="#444" stroke-width="0.6"/>
<line x1="351.47" y1="804.5" x2="351.47" y2="807.5" stroke="#444" stroke-width="0.6"/>
<line x1="357.45" y1="1003.3" x2="357.45" y2="1000.3" stroke="#444" stroke-width="0.6"/>
<line x1="357.45" y1="804.5" x2="357.45" y2="807.5" stroke="#444" stroke-width="0.6"/>
<line x1="360.43" y1="1003.3" x2="360.43" y2="1000.3" stroke="#444" stroke-width="0.6"/>
<line x1="360.43" y1="804.5" x2="360.43" y2="807.5" stroke="#444" stroke-width="0.6"/>
<line x1="363.42" y1="1003.3" x2="363.42" y2="1000.3" stroke="#444" stroke-width="0.6"/>
<line x1="363.42" y1="804.5" x2="363.42" y2="807.5" stroke="#444" stroke-width="0.6"/>
<line x1="366.41" y1="1003.3" x2="366.41" y2="1000.3" stroke="#444" stroke-width="0.6"/>
<line x1="366.41" y1="804.5" x2="366.41" y2="807.5" stroke="#444" stroke-width="0.6"/>
<line x1="85.5" y1="981.21" x2="90.5" y2="981.21" stroke="#444" stroke-width="0.8"/>
<line x1="369.4" y1="981.21" x2="364.4" y2="981.21" stroke="#444" stroke-width="0.8"/>
<line x1="85.5" y1="959.12" x2="90.5" y2="959.12" stroke="#444" stroke-width="0.8"/>
<line x1="369.4" y1="959.12" x2="364.4" y2="959.12" stroke="#444" stroke-width="0.8"/>
<line x1="85.5" y1="937.03" x2="90.5" y2="937.03" stroke="#444" stroke-width="0.8"/>
<line x1="369.4" y1="937.03" x2="364.4" y2="937.03" stroke="#444" stroke-width="0.8"/>
<line x1="85.5" y1="914.94" x2="90.5" y2="914.94" stroke="#444" stroke-width="0.8"/>
<line x1="369.4" y1="914.94" x2="364.4" y2="914.94" stroke="#444" stroke-width="0.8"/>
<line x1="85.5" y1="892.86" x2="90.5" y2="892.86" stroke="#444" stroke-width="0.8"/>
<line x1="369.4" y1="892.86" x2="364.4" y2="892.86" stroke="#444" stroke-width="0.8"/>
<line x1="85.5" y1="870.77" x2="90.5" y2="870.77" stroke="#444" stroke-width="0.8"/>
<line x1="369.4" y1="870.77" x2="364.4" y2="870.77" stroke="#444" stroke-width="0.8"/>
<line x1="85.5" y1="848.68" x2="90.5" y2="848.68" stroke="#444" stroke-width="0.8"/>
<line x1="369.4" y1="848.68" x2="364.4" y2="848.68" stroke="#444" stroke-width="0.8"/>
<line x1="85.5" y1="826.59" x2="90.5" y2="826.59" stroke="#444" stroke-width="0.8"/>
<line x1="369.4" y1="826.59" x2="364.4" y2="826.59" stroke="#444" stroke-width="0.8"/>
<line x1="85.5" y1="992.26" x2="88" y2="992.26" stroke="#444" stroke-width="0.8"/>
<line x1="369.4" y1="992.26" x2="366.9" y2="992.26" stroke="#444" stroke-width="0.8"/>
<line x1="85.5" y1="970.17" x2="88" y2="970.17" stroke="#444" stroke-width="0.8"/>
<line x1="369.4" y1="970.17" x2="366.9" y2="970.17" stroke="#444" stroke-width="0.8"/>
<line x1="85.5" y1="948.08" x2="88" y2="948.08" stroke="#444" stroke-width="0.8"/>
<line x1="369.4" y1="948.08" x2="366.9" y2="948.08" stroke="#444" stroke-width="0.8"/>
<line x1="85.5" y1="925.99" x2="88" y2="925.99" stroke="#444" stroke-width="0.8"/>
<line x1="369.4" y1="925.99" x2="366.9" y2="925.99" stroke="#444" stroke-width="0.8"/>
<line x1="85.5" y1="903.9" x2="88" y2="903.9" stroke="#444" stroke-width="0.8"/>
<line x1="369.4" y1="903.9" x2="366.9" y2="903.9" stroke="#444" stroke-width="0.8"/>
<line x1="85.5" y1="881.81" x2="88" y2="881.81" stroke="#444" stroke-width="0.8"/>
<line x1="369.4" y1="881.81" x2="366.9" y2="881.81" stroke="#444" stroke-width="0.8"/>
<line x1="85.5" y1="859.72" x2="88" y2="859.72" stroke="#444" stroke-width="0.8"/>
<line x1="369.4" y1="859.72" x2="366.9" y2="859.72" stroke="#444" stroke-width="0.8"/>
<line x1="85.5" y1="837.63" x2="88" y2="837.63" stroke="#444" stroke-width="0.8"/>
<line x1="369.4" y1="837.63" x2="366.9" y2="837.63" stroke="#444" stroke-width="0.8"/>
<line x1="85.5" y1="815.54" x2="88" y2="815.54" stroke="#444" stroke-width="0.8"/>
<line x1="369.4" y1="815.54" x2="366.9" y2="815.54" stroke="#444" stroke-width="0.8"/>
<text x="82.9" y="1006" font-size="7.5" text-anchor="end" textLength="15" lengthAdjust="spacingAndGlyphs" fill="#333">0.00</text>
<text x="372.7" y="1006.2" font-size="8" textLength="15.8" lengthAdjust="spacingAndGlyphs" fill="#333">0.00</text>
<text x="82.9" y="983.91" font-size="7.5" text-anchor="end" textLength="15" lengthAdjust="spacingAndGlyphs" fill="#333">0.10</text>
<text x="372.7" y="984.11" font-size="8" textLength="15.8" lengthAdjust="spacingAndGlyphs" fill="#333">0.10</text>
<text x="82.9" y="961.82" font-size="7.5" text-anchor="end" textLength="15" lengthAdjust="spacingAndGlyphs" fill="#333">0.20</text>
<text x="372.7" y="962.02" font-size="8" textLength="15.8" lengthAdjust="spacingAndGlyphs" fill="#333">0.20</text>
<text x="82.9" y="939.73" font-size="7.5" text-anchor="end" textLength="15" lengthAdjust="spacingAndGlyphs" fill="#333">0.30</text>
<text x="372.7" y="939.93" font-size="8" textLength="15.8" lengthAdjust="spacingAndGlyphs" fill="#333">0.30</text>
<text x="82.9" y="917.64" font-size="7.5" text-anchor="end" textLength="15" lengthAdjust="spacingAndGlyphs" fill="#333">0.40</text>
<text x="372.7" y="917.84" font-size="8" textLength="15.8" lengthAdjust="spacingAndGlyphs" fill="#333">0.40</text>
<text x="82.9" y="895.56" font-size="7.5" text-anchor="end" textLength="15" lengthAdjust="spacingAndGlyphs" fill="#333">0.50</text>
<text x="372.7" y="895.76" font-size="8" textLength="15.8" lengthAdjust="spacingAndGlyphs" fill="#333">0.50</text>
<text x="82.9" y="873.47" font-size="7.5" text-anchor="end" textLength="15" lengthAdjust="spacingAndGlyphs" fill="#333">0.60</text>
<text x="372.7" y="873.67" font-size="8" textLength="15.8" lengthAdjust="spacingAndGlyphs" fill="#333">0.60</text>
<text x="82.9" y="851.38" font-size="7.5" text-anchor="end" textLength="15" lengthAdjust="spacingAndGlyphs" fill="#333">0.70</text>
<text x="372.7" y="851.58" font-size="8" textLength="15.8" lengthAdjust="spacingAndGlyphs" fill="#333">0.70</text>
<text x="82.9" y="829.29" font-size="7.5" text-anchor="end" textLength="15" lengthAdjust="spacingAndGlyphs" fill="#333">0.80</text>
<text x="372.7" y="829.49" font-size="8" textLength="15.8" lengthAdjust="spacingAndGlyphs" fill="#333">0.80</text>
<text x="82.9" y="807.2" font-size="7.5" text-anchor="end" textLength="15" lengthAdjust="spacingAndGlyphs" fill="#333">0.90</text>
<text x="372.7" y="807.4" font-size="8" textLength="15.8" lengthAdjust="spacingAndGlyphs" fill="#333">0.90</text>
<text x="85.8" y="1012.3" font-size="7.4" text-anchor="middle" textLength="3.9" lengthAdjust="spacingAndGlyphs" fill="#333">0</text>
<text x="116.48" y="1012.3" font-size="7.4" text-anchor="middle" textLength="7.6" lengthAdjust="spacingAndGlyphs" fill="#333">20</text>
<text x="146.37" y="1012.3" font-size="7.4" text-anchor="middle" textLength="7.6" lengthAdjust="spacingAndGlyphs" fill="#333">40</text>
<text x="176.25" y="1012.3" font-size="7.4" text-anchor="middle" textLength="7.6" lengthAdjust="spacingAndGlyphs" fill="#333">60</text>
<text x="206.14" y="1012.3" font-size="7.4" text-anchor="middle" textLength="7.6" lengthAdjust="spacingAndGlyphs" fill="#333">80</text>
<text x="236.02" y="1012.3" font-size="7.4" text-anchor="middle" textLength="11.2" lengthAdjust="spacingAndGlyphs" fill="#333">100</text>
<text x="265.91" y="1012.3" font-size="7.4" text-anchor="middle" textLength="11.2" lengthAdjust="spacingAndGlyphs" fill="#333">120</text>
<text x="295.79" y="1012.3" font-size="7.4" text-anchor="middle" textLength="11.2" lengthAdjust="spacingAndGlyphs" fill="#333">140</text>
<text x="325.67" y="1012.3" font-size="7.4" text-anchor="middle" textLength="11.2" lengthAdjust="spacingAndGlyphs" fill="#333">160</text>
<text x="355.56" y="1012.3" font-size="7.4" text-anchor="middle" textLength="11.2" lengthAdjust="spacingAndGlyphs" fill="#333">180</text>
<text x="102.2" y="1033.4" font-size="15.8" textLength="271.5" lengthAdjust="spacingAndGlyphs">Number of genomes / partial genomes</text>
<text x="52" y="999.5" font-size="15.6" textLength="173" lengthAdjust="spacingAndGlyphs" transform="rotate(-90 52 999.5)">Sequence discovery rate</text>
<rect x="462.9" y="805.3" width="281.8" height="197.8" fill="none" stroke="#444" stroke-width="0.9"/>
<line x1="492.56" y1="1003.1" x2="492.56" y2="997.4" stroke="#444" stroke-width="0.8"/>
<line x1="492.56" y1="805.3" x2="492.56" y2="811" stroke="#444" stroke-width="0.8"/>
<line x1="522.23" y1="1003.1" x2="522.23" y2="997.4" stroke="#444" stroke-width="0.8"/>
<line x1="522.23" y1="805.3" x2="522.23" y2="811" stroke="#444" stroke-width="0.8"/>
<line x1="551.89" y1="1003.1" x2="551.89" y2="997.4" stroke="#444" stroke-width="0.8"/>
<line x1="551.89" y1="805.3" x2="551.89" y2="811" stroke="#444" stroke-width="0.8"/>
<line x1="581.55" y1="1003.1" x2="581.55" y2="997.4" stroke="#444" stroke-width="0.8"/>
<line x1="581.55" y1="805.3" x2="581.55" y2="811" stroke="#444" stroke-width="0.8"/>
<line x1="611.22" y1="1003.1" x2="611.22" y2="997.4" stroke="#444" stroke-width="0.8"/>
<line x1="611.22" y1="805.3" x2="611.22" y2="811" stroke="#444" stroke-width="0.8"/>
<line x1="640.88" y1="1003.1" x2="640.88" y2="997.4" stroke="#444" stroke-width="0.8"/>
<line x1="640.88" y1="805.3" x2="640.88" y2="811" stroke="#444" stroke-width="0.8"/>
<line x1="670.54" y1="1003.1" x2="670.54" y2="997.4" stroke="#444" stroke-width="0.8"/>
<line x1="670.54" y1="805.3" x2="670.54" y2="811" stroke="#444" stroke-width="0.8"/>
<line x1="700.21" y1="1003.1" x2="700.21" y2="997.4" stroke="#444" stroke-width="0.8"/>
<line x1="700.21" y1="805.3" x2="700.21" y2="811" stroke="#444" stroke-width="0.8"/>
<line x1="729.87" y1="1003.1" x2="729.87" y2="997.4" stroke="#444" stroke-width="0.8"/>
<line x1="729.87" y1="805.3" x2="729.87" y2="811" stroke="#444" stroke-width="0.8"/>
<line x1="465.87" y1="1003.1" x2="465.87" y2="1000.1" stroke="#444" stroke-width="0.6"/>
<line x1="465.87" y1="805.3" x2="465.87" y2="808.3" stroke="#444" stroke-width="0.6"/>
<line x1="468.83" y1="1003.1" x2="468.83" y2="1000.1" stroke="#444" stroke-width="0.6"/>
<line x1="468.83" y1="805.3" x2="468.83" y2="808.3" stroke="#444" stroke-width="0.6"/>
<line x1="471.8" y1="1003.1" x2="471.8" y2="1000.1" stroke="#444" stroke-width="0.6"/>
<line x1="471.8" y1="805.3" x2="471.8" y2="808.3" stroke="#444" stroke-width="0.6"/>
<line x1="474.77" y1="1003.1" x2="474.77" y2="1000.1" stroke="#444" stroke-width="0.6"/>
<line x1="474.77" y1="805.3" x2="474.77" y2="808.3" stroke="#444" stroke-width="0.6"/>
<line x1="477.73" y1="1003.1" x2="477.73" y2="1000.1" stroke="#444" stroke-width="0.6"/>
<line x1="477.73" y1="805.3" x2="477.73" y2="808.3" stroke="#444" stroke-width="0.6"/>
<line x1="480.7" y1="1003.1" x2="480.7" y2="1000.1" stroke="#444" stroke-width="0.6"/>
<line x1="480.7" y1="805.3" x2="480.7" y2="808.3" stroke="#444" stroke-width="0.6"/>
<line x1="483.66" y1="1003.1" x2="483.66" y2="1000.1" stroke="#444" stroke-width="0.6"/>
<line x1="483.66" y1="805.3" x2="483.66" y2="808.3" stroke="#444" stroke-width="0.6"/>
<line x1="486.63" y1="1003.1" x2="486.63" y2="1000.1" stroke="#444" stroke-width="0.6"/>
<line x1="486.63" y1="805.3" x2="486.63" y2="808.3" stroke="#444" stroke-width="0.6"/>
<line x1="489.6" y1="1003.1" x2="489.6" y2="1000.1" stroke="#444" stroke-width="0.6"/>
<line x1="489.6" y1="805.3" x2="489.6" y2="808.3" stroke="#444" stroke-width="0.6"/>
<line x1="495.53" y1="1003.1" x2="495.53" y2="1000.1" stroke="#444" stroke-width="0.6"/>
<line x1="495.53" y1="805.3" x2="495.53" y2="808.3" stroke="#444" stroke-width="0.6"/>
<line x1="498.5" y1="1003.1" x2="498.5" y2="1000.1" stroke="#444" stroke-width="0.6"/>
<line x1="498.5" y1="805.3" x2="498.5" y2="808.3" stroke="#444" stroke-width="0.6"/>
<line x1="501.46" y1="1003.1" x2="501.46" y2="1000.1" stroke="#444" stroke-width="0.6"/>
<line x1="501.46" y1="805.3" x2="501.46" y2="808.3" stroke="#444" stroke-width="0.6"/>
<line x1="504.43" y1="1003.1" x2="504.43" y2="1000.1" stroke="#444" stroke-width="0.6"/>
<line x1="504.43" y1="805.3" x2="504.43" y2="808.3" stroke="#444" stroke-width="0.6"/>
<line x1="507.39" y1="1003.1" x2="507.39" y2="1000.1" stroke="#444" stroke-width="0.6"/>
<line x1="507.39" y1="805.3" x2="507.39" y2="808.3" stroke="#444" stroke-width="0.6"/>
<line x1="510.36" y1="1003.1" x2="510.36" y2="1000.1" stroke="#444" stroke-width="0.6"/>
<line x1="510.36" y1="805.3" x2="510.36" y2="808.3" stroke="#444" stroke-width="0.6"/>
<line x1="513.33" y1="1003.1" x2="513.33" y2="1000.1" stroke="#444" stroke-width="0.6"/>
<line x1="513.33" y1="805.3" x2="513.33" y2="808.3" stroke="#444" stroke-width="0.6"/>
<line x1="516.29" y1="1003.1" x2="516.29" y2="1000.1" stroke="#444" stroke-width="0.6"/>
<line x1="516.29" y1="805.3" x2="516.29" y2="808.3" stroke="#444" stroke-width="0.6"/>
<line x1="519.26" y1="1003.1" x2="519.26" y2="1000.1" stroke="#444" stroke-width="0.6"/>
<line x1="519.26" y1="805.3" x2="519.26" y2="808.3" stroke="#444" stroke-width="0.6"/>
<line x1="525.19" y1="1003.1" x2="525.19" y2="1000.1" stroke="#444" stroke-width="0.6"/>
<line x1="525.19" y1="805.3" x2="525.19" y2="808.3" stroke="#444" stroke-width="0.6"/>
<line x1="528.16" y1="1003.1" x2="528.16" y2="1000.1" stroke="#444" stroke-width="0.6"/>
<line x1="528.16" y1="805.3" x2="528.16" y2="808.3" stroke="#444" stroke-width="0.6"/>
<line x1="531.13" y1="1003.1" x2="531.13" y2="1000.1" stroke="#444" stroke-width="0.6"/>
<line x1="531.13" y1="805.3" x2="531.13" y2="808.3" stroke="#444" stroke-width="0.6"/>
<line x1="534.09" y1="1003.1" x2="534.09" y2="1000.1" stroke="#444" stroke-width="0.6"/>
<line x1="534.09" y1="805.3" x2="534.09" y2="808.3" stroke="#444" stroke-width="0.6"/>
<line x1="537.06" y1="1003.1" x2="537.06" y2="1000.1" stroke="#444" stroke-width="0.6"/>
<line x1="537.06" y1="805.3" x2="537.06" y2="808.3" stroke="#444" stroke-width="0.6"/>
<line x1="540.02" y1="1003.1" x2="540.02" y2="1000.1" stroke="#444" stroke-width="0.6"/>
<line x1="540.02" y1="805.3" x2="540.02" y2="808.3" stroke="#444" stroke-width="0.6"/>
<line x1="542.99" y1="1003.1" x2="542.99" y2="1000.1" stroke="#444" stroke-width="0.6"/>
<line x1="542.99" y1="805.3" x2="542.99" y2="808.3" stroke="#444" stroke-width="0.6"/>
<line x1="545.96" y1="1003.1" x2="545.96" y2="1000.1" stroke="#444" stroke-width="0.6"/>
<line x1="545.96" y1="805.3" x2="545.96" y2="808.3" stroke="#444" stroke-width="0.6"/>
<line x1="548.92" y1="1003.1" x2="548.92" y2="1000.1" stroke="#444" stroke-width="0.6"/>
<line x1="548.92" y1="805.3" x2="548.92" y2="808.3" stroke="#444" stroke-width="0.6"/>
<line x1="554.86" y1="1003.1" x2="554.86" y2="1000.1" stroke="#444" stroke-width="0.6"/>
<line x1="554.86" y1="805.3" x2="554.86" y2="808.3" stroke="#444" stroke-width="0.6"/>
<line x1="557.82" y1="1003.1" x2="557.82" y2="1000.1" stroke="#444" stroke-width="0.6"/>
<line x1="557.82" y1="805.3" x2="557.82" y2="808.3" stroke="#444" stroke-width="0.6"/>
<line x1="560.79" y1="1003.1" x2="560.79" y2="1000.1" stroke="#444" stroke-width="0.6"/>
<line x1="560.79" y1="805.3" x2="560.79" y2="808.3" stroke="#444" stroke-width="0.6"/>
<line x1="563.75" y1="1003.1" x2="563.75" y2="1000.1" stroke="#444" stroke-width="0.6"/>
<line x1="563.75" y1="805.3" x2="563.75" y2="808.3" stroke="#444" stroke-width="0.6"/>
<line x1="566.72" y1="1003.1" x2="566.72" y2="1000.1" stroke="#444" stroke-width="0.6"/>
<line x1="566.72" y1="805.3" x2="566.72" y2="808.3" stroke="#444" stroke-width="0.6"/>
<line x1="569.69" y1="1003.1" x2="569.69" y2="1000.1" stroke="#444" stroke-width="0.6"/>
<line x1="569.69" y1="805.3" x2="569.69" y2="808.3" stroke="#444" stroke-width="0.6"/>
<line x1="572.65" y1="1003.1" x2="572.65" y2="1000.1" stroke="#444" stroke-width="0.6"/>
<line x1="572.65" y1="805.3" x2="572.65" y2="808.3" stroke="#444" stroke-width="0.6"/>
<line x1="575.62" y1="1003.1" x2="575.62" y2="1000.1" stroke="#444" stroke-width="0.6"/>
<line x1="575.62" y1="805.3" x2="575.62" y2="808.3" stroke="#444" stroke-width="0.6"/>
<line x1="578.59" y1="1003.1" x2="578.59" y2="1000.1" stroke="#444" stroke-width="0.6"/>
<line x1="578.59" y1="805.3" x2="578.59" y2="808.3" stroke="#444" stroke-width="0.6"/>
<line x1="584.52" y1="1003.1" x2="584.52" y2="1000.1" stroke="#444" stroke-width="0.6"/>
<line x1="584.52" y1="805.3" x2="584.52" y2="808.3" stroke="#444" stroke-width="0.6"/>
<line x1="587.49" y1="1003.1" x2="587.49" y2="1000.1" stroke="#444" stroke-width="0.6"/>
<line x1="587.49" y1="805.3" x2="587.49" y2="808.3" stroke="#444" stroke-width="0.6"/>
<line x1="590.45" y1="1003.1" x2="590.45" y2="1000.1" stroke="#444" stroke-width="0.6"/>
<line x1="590.45" y1="805.3" x2="590.45" y2="808.3" stroke="#444" stroke-width="0.6"/>
<line x1="593.42" y1="1003.1" x2="593.42" y2="1000.1" stroke="#444" stroke-width="0.6"/>
<line x1="593.42" y1="805.3" x2="593.42" y2="808.3" stroke="#444" stroke-width="0.6"/>
<line x1="596.38" y1="1003.1" x2="596.38" y2="1000.1" stroke="#444" stroke-width="0.6"/>
<line x1="596.38" y1="805.3" x2="596.38" y2="808.3" stroke="#444" stroke-width="0.6"/>
<line x1="599.35" y1="1003.1" x2="599.35" y2="1000.1" stroke="#444" stroke-width="0.6"/>
<line x1="599.35" y1="805.3" x2="599.35" y2="808.3" stroke="#444" stroke-width="0.6"/>
<line x1="602.32" y1="1003.1" x2="602.32" y2="1000.1" stroke="#444" stroke-width="0.6"/>
<line x1="602.32" y1="805.3" x2="602.32" y2="808.3" stroke="#444" stroke-width="0.6"/>
<line x1="605.28" y1="1003.1" x2="605.28" y2="1000.1" stroke="#444" stroke-width="0.6"/>
<line x1="605.28" y1="805.3" x2="605.28" y2="808.3" stroke="#444" stroke-width="0.6"/>
<line x1="608.25" y1="1003.1" x2="608.25" y2="1000.1" stroke="#444" stroke-width="0.6"/>
<line x1="608.25" y1="805.3" x2="608.25" y2="808.3" stroke="#444" stroke-width="0.6"/>
<line x1="614.18" y1="1003.1" x2="614.18" y2="1000.1" stroke="#444" stroke-width="0.6"/>
<line x1="614.18" y1="805.3" x2="614.18" y2="808.3" stroke="#444" stroke-width="0.6"/>
<line x1="617.15" y1="1003.1" x2="617.15" y2="1000.1" stroke="#444" stroke-width="0.6"/>
<line x1="617.15" y1="805.3" x2="617.15" y2="808.3" stroke="#444" stroke-width="0.6"/>
<line x1="620.11" y1="1003.1" x2="620.11" y2="1000.1" stroke="#444" stroke-width="0.6"/>
<line x1="620.11" y1="805.3" x2="620.11" y2="808.3" stroke="#444" stroke-width="0.6"/>
<line x1="623.08" y1="1003.1" x2="623.08" y2="1000.1" stroke="#444" stroke-width="0.6"/>
<line x1="623.08" y1="805.3" x2="623.08" y2="808.3" stroke="#444" stroke-width="0.6"/>
<line x1="626.05" y1="1003.1" x2="626.05" y2="1000.1" stroke="#444" stroke-width="0.6"/>
<line x1="626.05" y1="805.3" x2="626.05" y2="808.3" stroke="#444" stroke-width="0.6"/>
<line x1="629.01" y1="1003.1" x2="629.01" y2="1000.1" stroke="#444" stroke-width="0.6"/>
<line x1="629.01" y1="805.3" x2="629.01" y2="808.3" stroke="#444" stroke-width="0.6"/>
<line x1="631.98" y1="1003.1" x2="631.98" y2="1000.1" stroke="#444" stroke-width="0.6"/>
<line x1="631.98" y1="805.3" x2="631.98" y2="808.3" stroke="#444" stroke-width="0.6"/>
<line x1="634.95" y1="1003.1" x2="634.95" y2="1000.1" stroke="#444" stroke-width="0.6"/>
<line x1="634.95" y1="805.3" x2="634.95" y2="808.3" stroke="#444" stroke-width="0.6"/>
<line x1="637.91" y1="1003.1" x2="637.91" y2="1000.1" stroke="#444" stroke-width="0.6"/>
<line x1="637.91" y1="805.3" x2="637.91" y2="808.3" stroke="#444" stroke-width="0.6"/>
<line x1="643.85" y1="1003.1" x2="643.85" y2="1000.1" stroke="#444" stroke-width="0.6"/>
<line x1="643.85" y1="805.3" x2="643.85" y2="808.3" stroke="#444" stroke-width="0.6"/>
<line x1="646.81" y1="1003.1" x2="646.81" y2="1000.1" stroke="#444" stroke-width="0.6"/>
<line x1="646.81" y1="805.3" x2="646.81" y2="808.3" stroke="#444" stroke-width="0.6"/>
<line x1="649.78" y1="1003.1" x2="649.78" y2="1000.1" stroke="#444" stroke-width="0.6"/>
<line x1="649.78" y1="805.3" x2="649.78" y2="808.3" stroke="#444" stroke-width="0.6"/>
<line x1="652.74" y1="1003.1" x2="652.74" y2="1000.1" stroke="#444" stroke-width="0.6"/>
<line x1="652.74" y1="805.3" x2="652.74" y2="808.3" stroke="#444" stroke-width="0.6"/>
<line x1="655.71" y1="1003.1" x2="655.71" y2="1000.1" stroke="#444" stroke-width="0.6"/>
<line x1="655.71" y1="805.3" x2="655.71" y2="808.3" stroke="#444" stroke-width="0.6"/>
<line x1="658.68" y1="1003.1" x2="658.68" y2="1000.1" stroke="#444" stroke-width="0.6"/>
<line x1="658.68" y1="805.3" x2="658.68" y2="808.3" stroke="#444" stroke-width="0.6"/>
<line x1="661.64" y1="1003.1" x2="661.64" y2="1000.1" stroke="#444" stroke-width="0.6"/>
<line x1="661.64" y1="805.3" x2="661.64" y2="808.3" stroke="#444" stroke-width="0.6"/>
<line x1="664.61" y1="1003.1" x2="664.61" y2="1000.1" stroke="#444" stroke-width="0.6"/>
<line x1="664.61" y1="805.3" x2="664.61" y2="808.3" stroke="#444" stroke-width="0.6"/>
<line x1="667.58" y1="1003.1" x2="667.58" y2="1000.1" stroke="#444" stroke-width="0.6"/>
<line x1="667.58" y1="805.3" x2="667.58" y2="808.3" stroke="#444" stroke-width="0.6"/>
<line x1="673.51" y1="1003.1" x2="673.51" y2="1000.1" stroke="#444" stroke-width="0.6"/>
<line x1="673.51" y1="805.3" x2="673.51" y2="808.3" stroke="#444" stroke-width="0.6"/>
<line x1="676.47" y1="1003.1" x2="676.47" y2="1000.1" stroke="#444" stroke-width="0.6"/>
<line x1="676.47" y1="805.3" x2="676.47" y2="808.3" stroke="#444" stroke-width="0.6"/>
<line x1="679.44" y1="1003.1" x2="679.44" y2="1000.1" stroke="#444" stroke-width="0.6"/>
<line x1="679.44" y1="805.3" x2="679.44" y2="808.3" stroke="#444" stroke-width="0.6"/>
<line x1="682.41" y1="1003.1" x2="682.41" y2="1000.1" stroke="#444" stroke-width="0.6"/>
<line x1="682.41" y1="805.3" x2="682.41" y2="808.3" stroke="#444" stroke-width="0.6"/>
<line x1="685.37" y1="1003.1" x2="685.37" y2="1000.1" stroke="#444" stroke-width="0.6"/>
<line x1="685.37" y1="805.3" x2="685.37" y2="808.3" stroke="#444" stroke-width="0.6"/>
<line x1="688.34" y1="1003.1" x2="688.34" y2="1000.1" stroke="#444" stroke-width="0.6"/>
<line x1="688.34" y1="805.3" x2="688.34" y2="808.3" stroke="#444" stroke-width="0.6"/>
<line x1="691.31" y1="1003.1" x2="691.31" y2="1000.1" stroke="#444" stroke-width="0.6"/>
<line x1="691.31" y1="805.3" x2="691.31" y2="808.3" stroke="#444" stroke-width="0.6"/>
<line x1="694.27" y1="1003.1" x2="694.27" y2="1000.1" stroke="#444" stroke-width="0.6"/>
<line x1="694.27" y1="805.3" x2="694.27" y2="808.3" stroke="#444" stroke-width="0.6"/>
<line x1="697.24" y1="1003.1" x2="697.24" y2="1000.1" stroke="#444" stroke-width="0.6"/>
<line x1="697.24" y1="805.3" x2="697.24" y2="808.3" stroke="#444" stroke-width="0.6"/>
<line x1="703.17" y1="1003.1" x2="703.17" y2="1000.1" stroke="#444" stroke-width="0.6"/>
<line x1="703.17" y1="805.3" x2="703.17" y2="808.3" stroke="#444" stroke-width="0.6"/>
<line x1="706.14" y1="1003.1" x2="706.14" y2="1000.1" stroke="#444" stroke-width="0.6"/>
<line x1="706.14" y1="805.3" x2="706.14" y2="808.3" stroke="#444" stroke-width="0.6"/>
<line x1="709.1" y1="1003.1" x2="709.1" y2="1000.1" stroke="#444" stroke-width="0.6"/>
<line x1="709.1" y1="805.3" x2="709.1" y2="808.3" stroke="#444" stroke-width="0.6"/>
<line x1="712.07" y1="1003.1" x2="712.07" y2="1000.1" stroke="#444" stroke-width="0.6"/>
<line x1="712.07" y1="805.3" x2="712.07" y2="808.3" stroke="#444" stroke-width="0.6"/>
<line x1="715.04" y1="1003.1" x2="715.04" y2="1000.1" stroke="#444" stroke-width="0.6"/>
<line x1="715.04" y1="805.3" x2="715.04" y2="808.3" stroke="#444" stroke-width="0.6"/>
<line x1="718" y1="1003.1" x2="718" y2="1000.1" stroke="#444" stroke-width="0.6"/>
<line x1="718" y1="805.3" x2="718" y2="808.3" stroke="#444" stroke-width="0.6"/>
<line x1="720.97" y1="1003.1" x2="720.97" y2="1000.1" stroke="#444" stroke-width="0.6"/>
<line x1="720.97" y1="805.3" x2="720.97" y2="808.3" stroke="#444" stroke-width="0.6"/>
<line x1="723.94" y1="1003.1" x2="723.94" y2="1000.1" stroke="#444" stroke-width="0.6"/>
<line x1="723.94" y1="805.3" x2="723.94" y2="808.3" stroke="#444" stroke-width="0.6"/>
<line x1="726.9" y1="1003.1" x2="726.9" y2="1000.1" stroke="#444" stroke-width="0.6"/>
<line x1="726.9" y1="805.3" x2="726.9" y2="808.3" stroke="#444" stroke-width="0.6"/>
<line x1="732.83" y1="1003.1" x2="732.83" y2="1000.1" stroke="#444" stroke-width="0.6"/>
<line x1="732.83" y1="805.3" x2="732.83" y2="808.3" stroke="#444" stroke-width="0.6"/>
<line x1="735.8" y1="1003.1" x2="735.8" y2="1000.1" stroke="#444" stroke-width="0.6"/>
<line x1="735.8" y1="805.3" x2="735.8" y2="808.3" stroke="#444" stroke-width="0.6"/>
<line x1="738.77" y1="1003.1" x2="738.77" y2="1000.1" stroke="#444" stroke-width="0.6"/>
<line x1="738.77" y1="805.3" x2="738.77" y2="808.3" stroke="#444" stroke-width="0.6"/>
<line x1="741.73" y1="1003.1" x2="741.73" y2="1000.1" stroke="#444" stroke-width="0.6"/>
<line x1="741.73" y1="805.3" x2="741.73" y2="808.3" stroke="#444" stroke-width="0.6"/>
<line x1="462.9" y1="981.12" x2="467.9" y2="981.12" stroke="#444" stroke-width="0.8"/>
<line x1="744.7" y1="981.12" x2="739.7" y2="981.12" stroke="#444" stroke-width="0.8"/>
<line x1="462.9" y1="959.14" x2="467.9" y2="959.14" stroke="#444" stroke-width="0.8"/>
<line x1="744.7" y1="959.14" x2="739.7" y2="959.14" stroke="#444" stroke-width="0.8"/>
<line x1="462.9" y1="937.17" x2="467.9" y2="937.17" stroke="#444" stroke-width="0.8"/>
<line x1="744.7" y1="937.17" x2="739.7" y2="937.17" stroke="#444" stroke-width="0.8"/>
<line x1="462.9" y1="915.19" x2="467.9" y2="915.19" stroke="#444" stroke-width="0.8"/>
<line x1="744.7" y1="915.19" x2="739.7" y2="915.19" stroke="#444" stroke-width="0.8"/>
<line x1="462.9" y1="893.21" x2="467.9" y2="893.21" stroke="#444" stroke-width="0.8"/>
<line x1="744.7" y1="893.21" x2="739.7" y2="893.21" stroke="#444" stroke-width="0.8"/>
<line x1="462.9" y1="871.23" x2="467.9" y2="871.23" stroke="#444" stroke-width="0.8"/>
<line x1="744.7" y1="871.23" x2="739.7" y2="871.23" stroke="#444" stroke-width="0.8"/>
<line x1="462.9" y1="849.26" x2="467.9" y2="849.26" stroke="#444" stroke-width="0.8"/>
<line x1="744.7" y1="849.26" x2="739.7" y2="849.26" stroke="#444" stroke-width="0.8"/>
<line x1="462.9" y1="827.28" x2="467.9" y2="827.28" stroke="#444" stroke-width="0.8"/>
<line x1="744.7" y1="827.28" x2="739.7" y2="827.28" stroke="#444" stroke-width="0.8"/>
<line x1="462.9" y1="992.11" x2="465.4" y2="992.11" stroke="#444" stroke-width="0.8"/>
<line x1="744.7" y1="992.11" x2="742.2" y2="992.11" stroke="#444" stroke-width="0.8"/>
<line x1="462.9" y1="970.13" x2="465.4" y2="970.13" stroke="#444" stroke-width="0.8"/>
<line x1="744.7" y1="970.13" x2="742.2" y2="970.13" stroke="#444" stroke-width="0.8"/>
<line x1="462.9" y1="948.16" x2="465.4" y2="948.16" stroke="#444" stroke-width="0.8"/>
<line x1="744.7" y1="948.16" x2="742.2" y2="948.16" stroke="#444" stroke-width="0.8"/>
<line x1="462.9" y1="926.18" x2="465.4" y2="926.18" stroke="#444" stroke-width="0.8"/>
<line x1="744.7" y1="926.18" x2="742.2" y2="926.18" stroke="#444" stroke-width="0.8"/>
<line x1="462.9" y1="904.2" x2="465.4" y2="904.2" stroke="#444" stroke-width="0.8"/>
<line x1="744.7" y1="904.2" x2="742.2" y2="904.2" stroke="#444" stroke-width="0.8"/>
<line x1="462.9" y1="882.22" x2="465.4" y2="882.22" stroke="#444" stroke-width="0.8"/>
<line x1="744.7" y1="882.22" x2="742.2" y2="882.22" stroke="#444" stroke-width="0.8"/>
<line x1="462.9" y1="860.24" x2="465.4" y2="860.24" stroke="#444" stroke-width="0.8"/>
<line x1="744.7" y1="860.24" x2="742.2" y2="860.24" stroke="#444" stroke-width="0.8"/>
<line x1="462.9" y1="838.27" x2="465.4" y2="838.27" stroke="#444" stroke-width="0.8"/>
<line x1="744.7" y1="838.27" x2="742.2" y2="838.27" stroke="#444" stroke-width="0.8"/>
<line x1="462.9" y1="816.29" x2="465.4" y2="816.29" stroke="#444" stroke-width="0.8"/>
<line x1="744.7" y1="816.29" x2="742.2" y2="816.29" stroke="#444" stroke-width="0.8"/>
<text x="460.1" y="1005.8" font-size="7.5" text-anchor="end" textLength="15.3" lengthAdjust="spacingAndGlyphs" fill="#333">0.00</text>
<text x="747.3" y="1006" font-size="8" textLength="15.5" lengthAdjust="spacingAndGlyphs" fill="#333">0.00</text>
<text x="460.1" y="983.82" font-size="7.5" text-anchor="end" textLength="15.3" lengthAdjust="spacingAndGlyphs" fill="#333">0.10</text>
<text x="747.3" y="984.02" font-size="8" textLength="15.5" lengthAdjust="spacingAndGlyphs" fill="#333">0.10</text>
<text x="460.1" y="961.84" font-size="7.5" text-anchor="end" textLength="15.3" lengthAdjust="spacingAndGlyphs" fill="#333">0.20</text>
<text x="747.3" y="962.04" font-size="8" textLength="15.5" lengthAdjust="spacingAndGlyphs" fill="#333">0.20</text>
<text x="460.1" y="939.87" font-size="7.5" text-anchor="end" textLength="15.3" lengthAdjust="spacingAndGlyphs" fill="#333">0.30</text>
<text x="747.3" y="940.07" font-size="8" textLength="15.5" lengthAdjust="spacingAndGlyphs" fill="#333">0.30</text>
<text x="460.1" y="917.89" font-size="7.5" text-anchor="end" textLength="15.3" lengthAdjust="spacingAndGlyphs" fill="#333">0.40</text>
<text x="747.3" y="918.09" font-size="8" textLength="15.5" lengthAdjust="spacingAndGlyphs" fill="#333">0.40</text>
<text x="460.1" y="895.91" font-size="7.5" text-anchor="end" textLength="15.3" lengthAdjust="spacingAndGlyphs" fill="#333">0.50</text>
<text x="747.3" y="896.11" font-size="8" textLength="15.5" lengthAdjust="spacingAndGlyphs" fill="#333">0.50</text>
<text x="460.1" y="873.93" font-size="7.5" text-anchor="end" textLength="15.3" lengthAdjust="spacingAndGlyphs" fill="#333">0.60</text>
<text x="747.3" y="874.13" font-size="8" textLength="15.5" lengthAdjust="spacingAndGlyphs" fill="#333">0.60</text>
<text x="460.1" y="851.96" font-size="7.5" text-anchor="end" textLength="15.3" lengthAdjust="spacingAndGlyphs" fill="#333">0.70</text>
<text x="747.3" y="852.16" font-size="8" textLength="15.5" lengthAdjust="spacingAndGlyphs" fill="#333">0.70</text>
<text x="460.1" y="829.98" font-size="7.5" text-anchor="end" textLength="15.3" lengthAdjust="spacingAndGlyphs" fill="#333">0.80</text>
<text x="747.3" y="830.18" font-size="8" textLength="15.5" lengthAdjust="spacingAndGlyphs" fill="#333">0.80</text>
<text x="460.1" y="808" font-size="7.5" text-anchor="end" textLength="15.3" lengthAdjust="spacingAndGlyphs" fill="#333">0.90</text>
<text x="747.3" y="808.2" font-size="8" textLength="15.5" lengthAdjust="spacingAndGlyphs" fill="#333">0.90</text>
<text x="463.2" y="1012.1" font-size="7.4" text-anchor="middle" textLength="3.9" lengthAdjust="spacingAndGlyphs" fill="#333">0</text>
<text x="493.66" y="1012.1" font-size="7.4" text-anchor="middle" textLength="7.6" lengthAdjust="spacingAndGlyphs" fill="#333">20</text>
<text x="523.33" y="1012.1" font-size="7.4" text-anchor="middle" textLength="7.6" lengthAdjust="spacingAndGlyphs" fill="#333">40</text>
<text x="552.99" y="1012.1" font-size="7.4" text-anchor="middle" textLength="7.6" lengthAdjust="spacingAndGlyphs" fill="#333">60</text>
<text x="582.65" y="1012.1" font-size="7.4" text-anchor="middle" textLength="7.6" lengthAdjust="spacingAndGlyphs" fill="#333">80</text>
<text x="612.32" y="1012.1" font-size="7.4" text-anchor="middle" textLength="11.2" lengthAdjust="spacingAndGlyphs" fill="#333">100</text>
<text x="641.98" y="1012.1" font-size="7.4" text-anchor="middle" textLength="11.2" lengthAdjust="spacingAndGlyphs" fill="#333">120</text>
<text x="671.64" y="1012.1" font-size="7.4" text-anchor="middle" textLength="11.2" lengthAdjust="spacingAndGlyphs" fill="#333">140</text>
<text x="701.31" y="1012.1" font-size="7.4" text-anchor="middle" textLength="11.2" lengthAdjust="spacingAndGlyphs" fill="#333">160</text>
<text x="730.97" y="1012.1" font-size="7.4" text-anchor="middle" textLength="11.2" lengthAdjust="spacingAndGlyphs" fill="#333">180</text>
<text x="480.8" y="1033.4" font-size="15.8" textLength="270" lengthAdjust="spacingAndGlyphs">Number of genomes / partial genomes</text>
<text x="432.2" y="1005.6" font-size="15.6" textLength="185.6" lengthAdjust="spacingAndGlyphs" transform="rotate(-90 432.2 1005.6)">Gene family discovery rate</text>
<g fill="#2a35c0" stroke="#0c0c50" stroke-width="0.6">
<rect x="90.3" y="239.6" width="4.6" height="4.6"/>
<rect x="92.8" y="236.1" width="4.6" height="4.6"/>
<rect x="95.9" y="231" width="4.6" height="4.6"/>
<rect x="99" y="227.9" width="4.6" height="4.6"/>
<rect x="102" y="224.8" width="4.6" height="4.6"/>
<rect x="105.1" y="222.8" width="4.6" height="4.6"/>
<rect x="108.1" y="220.3" width="4.6" height="4.6"/>
<rect x="110.7" y="218.7" width="4.6" height="4.6"/>
<rect x="113.3" y="212.6" width="4.6" height="4.6"/>
<rect x="116.3" y="209.5" width="4.6" height="4.6"/>
<rect x="119.4" y="207.5" width="4.6" height="4.6"/>
<rect x="122.4" y="205.5" width="4.6" height="4.6"/>
<rect x="125.5" y="202.9" width="4.6" height="4.6"/>
<rect x="128.6" y="197.3" width="4.6" height="4.6"/>
<rect x="132.6" y="194.2" width="4.6" height="4.6"/>
<rect x="136.7" y="190.1" width="4.6" height="4.6"/>
<rect x="139.8" y="186.6" width="4.6" height="4.6"/>
<rect x="142.8" y="184" width="4.6" height="4.6"/>
<rect x="146.9" y="182" width="4.6" height="4.6"/>
<rect x="151" y="179.9" width="4.6" height="4.6"/>
<rect x="155.1" y="177.9" width="4.6" height="4.6"/>
<rect x="159.2" y="176.4" width="4.6" height="4.6"/>
<rect x="162.2" y="174.8" width="4.6" height="4.6"/>
<rect x="165.3" y="170.3" width="4.6" height="4.6"/>
<rect x="169.8" y="167.4" width="4.6" height="4.6"/>
<rect x="173.7" y="166.4" width="4.6" height="4.6"/>
<rect x="177.4" y="165.5" width="4.6" height="4.6"/>
<rect x="181.2" y="164.1" width="4.6" height="4.6"/>
<rect x="185.1" y="162.6" width="4.6" height="4.6"/>
<rect x="187.9" y="159.2" width="4.6" height="4.6"/>
<rect x="190.8" y="155.9" width="4.6" height="4.6"/>
<rect x="193.7" y="154.5" width="4.6" height="4.6"/>
<rect x="196.5" y="153.1" width="4.6" height="4.6"/>
<rect x="200.3" y="152.1" width="4.6" height="4.6"/>
<rect x="204.2" y="151.1" width="4.6" height="4.6"/>
<rect x="208" y="149.2" width="4.6" height="4.6"/>
<rect x="211.8" y="147.3" width="4.6" height="4.6"/>
<rect x="215.7" y="144.4" width="4.6" height="4.6"/>
<rect x="219.5" y="141.6" width="4.6" height="4.6"/>
<rect x="223.3" y="139.2" width="4.6" height="4.6"/>
<rect x="227.1" y="136.8" width="4.6" height="4.6"/>
<rect x="230.5" y="134.4" width="4.6" height="4.6"/>
<rect x="233.8" y="132" width="4.6" height="4.6"/>
<rect x="234.8" y="130.8" width="4.6" height="4.6"/>
<rect x="236.1" y="130.2" width="4.6" height="4.6"/>
<rect x="237.2" y="130.1" width="4.6" height="4.6"/>
<rect x="237.9" y="129.9" width="4.6" height="4.6"/>
<rect x="239" y="129.2" width="4.6" height="4.6"/>
<rect x="240.2" y="128" width="4.6" height="4.6"/>
<rect x="241.5" y="128.8" width="4.6" height="4.6"/>
<rect x="242.4" y="127.2" width="4.6" height="4.6"/>
<rect x="244" y="128.3" width="4.6" height="4.6"/>
<rect x="245.1" y="127" width="4.6" height="4.6"/>
<rect x="246.5" y="126.1" width="4.6" height="4.6"/>
<rect x="247.6" y="126.3" width="4.6" height="4.6"/>
<rect x="248.3" y="125.8" width="4.6" height="4.6"/>
<rect x="249.6" y="126.8" width="4.6" height="4.6"/>
<rect x="250.7" y="125.8" width="4.6" height="4.6"/>
<rect x="252.2" y="125" width="4.6" height="4.6"/>
<rect x="253.3" y="123.9" width="4.6" height="4.6"/>
<rect x="254.2" y="123.7" width="4.6" height="4.6"/>
<rect x="255.8" y="123.6" width="4.6" height="4.6"/>
<rect x="256.2" y="122.8" width="4.6" height="4.6"/>
<rect x="256.9" y="121.1" width="4.6" height="4.6"/>
<rect x="257.7" y="120.8" width="4.6" height="4.6"/>
<rect x="257.9" y="119.4" width="4.6" height="4.6"/>
<rect x="258.7" y="118.9" width="4.6" height="4.6"/>
<rect x="259.5" y="116.7" width="4.6" height="4.6"/>
<rect x="260.2" y="115.3" width="4.6" height="4.6"/>
<rect x="260.4" y="115.4" width="4.6" height="4.6"/>
<rect x="260.8" y="113.8" width="4.6" height="4.6"/>
<rect x="261.4" y="113" width="4.6" height="4.6"/>
<rect x="262.9" y="112.1" width="4.6" height="4.6"/>
<rect x="264" y="110.9" width="4.6" height="4.6"/>
<rect x="264.8" y="110.6" width="4.6" height="4.6"/>
<rect x="265.8" y="109.6" width="4.6" height="4.6"/>
<rect x="266.9" y="109.8" width="4.6" height="4.6"/>
<rect x="267.7" y="108.5" width="4.6" height="4.6"/>
<rect x="268.8" y="108.5" width="4.6" height="4.6"/>
<rect x="270.6" y="109" width="4.6" height="4.6"/>
<rect x="272.1" y="107.6" width="4.6" height="4.6"/>
<rect x="273.1" y="108.3" width="4.6" height="4.6"/>
<rect x="274.2" y="107.8" width="4.6" height="4.6"/>
<rect x="275.7" y="107.1" width="4.6" height="4.6"/>
<rect x="277" y="108.2" width="4.6" height="4.6"/>
<rect x="278.4" y="107.2" width="4.6" height="4.6"/>
<rect x="279.7" y="107.7" width="4.6" height="4.6"/>
<rect x="280.6" y="106.4" width="4.6" height="4.6"/>
<rect x="282.1" y="106.5" width="4.6" height="4.6"/>
<rect x="283.4" y="105.9" width="4.6" height="4.6"/>
<rect x="284.2" y="104.4" width="4.6" height="4.6"/>
<rect x="285.3" y="104.6" width="4.6" height="4.6"/>
<rect x="286.9" y="102.7" width="4.6" height="4.6"/>
<rect x="287.5" y="102.2" width="4.6" height="4.6"/>
<rect x="288.7" y="102" width="4.6" height="4.6"/>
<rect x="290" y="100.8" width="4.6" height="4.6"/>
<rect x="290.8" y="100.4" width="4.6" height="4.6"/>
<rect x="292.2" y="100" width="4.6" height="4.6"/>
<rect x="293.7" y="99.5" width="4.6" height="4.6"/>
<rect x="294.6" y="98.6" width="4.6" height="4.6"/>
<rect x="295.8" y="96.9" width="4.6" height="4.6"/>
<rect x="296.7" y="97.1" width="4.6" height="4.6"/>
<rect x="297.4" y="96" width="4.6" height="4.6"/>
<rect x="297.8" y="94.1" width="4.6" height="4.6"/>
<rect x="298.3" y="93.4" width="4.6" height="4.6"/>
<rect x="299" y="91.2" width="4.6" height="4.6"/>
<rect x="299.8" y="90.2" width="4.6" height="4.6"/>
<rect x="300.6" y="88.9" width="4.6" height="4.6"/>
<rect x="301.5" y="88.5" width="4.6" height="4.6"/>
<rect x="302.7" y="88.3" width="4.6" height="4.6"/>
<rect x="303.9" y="88.6" width="4.6" height="4.6"/>
<rect x="305.4" y="86.7" width="4.6" height="4.6"/>
<rect x="306.4" y="86.5" width="4.6" height="4.6"/>
<rect x="307.6" y="85.5" width="4.6" height="4.6"/>
<rect x="309.3" y="87" width="4.6" height="4.6"/>
<rect x="310.3" y="86" width="4.6" height="4.6"/>
<rect x="311.4" y="85.2" width="4.6" height="4.6"/>
<rect x="312.9" y="85.4" width="4.6" height="4.6"/>
<rect x="314.6" y="85.2" width="4.6" height="4.6"/>
<rect x="315.4" y="86.5" width="4.6" height="4.6"/>
<rect x="316.9" y="84.6" width="4.6" height="4.6"/>
<rect x="318" y="84" width="4.6" height="4.6"/>
<rect x="319.1" y="85.3" width="4.6" height="4.6"/>
<rect x="320.5" y="84.3" width="4.6" height="4.6"/>
<rect x="321.2" y="83.3" width="4.6" height="4.6"/>
<rect x="322.3" y="83.6" width="4.6" height="4.6"/>
<rect x="323.7" y="83.2" width="4.6" height="4.6"/>
<rect x="324.7" y="81.6" width="4.6" height="4.6"/>
<rect x="326.2" y="82.4" width="4.6" height="4.6"/>
<rect x="327.3" y="81.6" width="4.6" height="4.6"/>
<rect x="328.4" y="80.9" width="4.6" height="4.6"/>
<rect x="329.1" y="79.9" width="4.6" height="4.6"/>
<rect x="330.3" y="78.5" width="4.6" height="4.6"/>
<rect x="331.2" y="78.4" width="4.6" height="4.6"/>
<rect x="332.5" y="78.5" width="4.6" height="4.6"/>
<rect x="334.3" y="77.5" width="4.6" height="4.6"/>
<rect x="335.5" y="78" width="4.6" height="4.6"/>
<rect x="336.8" y="76.3" width="4.6" height="4.6"/>
<rect x="337.5" y="75.5" width="4.6" height="4.6"/>
<rect x="338.7" y="74.9" width="4.6" height="4.6"/>
<rect x="340.3" y="75.5" width="4.6" height="4.6"/>
<rect x="341.7" y="74.2" width="4.6" height="4.6"/>
<rect x="342.8" y="74.2" width="4.6" height="4.6"/>
<rect x="343.6" y="73.5" width="4.6" height="4.6"/>
<rect x="345.3" y="73.2" width="4.6" height="4.6"/>
<rect x="346.4" y="72.2" width="4.6" height="4.6"/>
<rect x="347.1" y="72.2" width="4.6" height="4.6"/>
<rect x="348.4" y="71.7" width="4.6" height="4.6"/>
<rect x="350" y="70.5" width="4.6" height="4.6"/>
<rect x="350.8" y="71.2" width="4.6" height="4.6"/>
<rect x="352.3" y="69.5" width="4.6" height="4.6"/>
<rect x="353" y="69.2" width="4.6" height="4.6"/>
<rect x="354.8" y="70.1" width="4.6" height="4.6"/>
<rect x="355.4" y="69.8" width="4.6" height="4.6"/>
<rect x="357.2" y="69.1" width="4.6" height="4.6"/>
<rect x="357.9" y="68.6" width="4.6" height="4.6"/>
<rect x="358.9" y="67.3" width="4.6" height="4.6"/>
<rect x="360.7" y="68.1" width="4.6" height="4.6"/>
<rect x="361.5" y="68.3" width="4.6" height="4.6"/>
</g>
<g fill="#e4e4e4" stroke="#111" stroke-width="0.75">
<circle cx="93.7" cy="233.7" r="2.5"/>
<circle cx="99.2" cy="223.1" r="2.5"/>
<circle cx="106.4" cy="212.9" r="2.5"/>
<circle cx="111.5" cy="210.3" r="2.5"/>
<circle cx="115" cy="205.2" r="2.5"/>
<circle cx="118.6" cy="201.6" r="2.5"/>
<circle cx="121.7" cy="198.6" r="2.5"/>
<circle cx="124.7" cy="193.5" r="2.5"/>
<circle cx="127.8" cy="191.4" r="2.5"/>
<circle cx="130.9" cy="189.4" r="2.5"/>
<circle cx="133.9" cy="186.3" r="2.5"/>
<circle cx="137" cy="184.3" r="2.5"/>
<circle cx="140" cy="182.8" r="2.5"/>
<circle cx="143.6" cy="181.7" r="2.5"/>
<circle cx="147.2" cy="180.7" r="2.5"/>
<circle cx="150.2" cy="179.7" r="2.5"/>
<circle cx="153.3" cy="178.7" r="2.5"/>
<circle cx="156.4" cy="177.1" r="2.5"/>
<circle cx="159.4" cy="175.1" r="2.5"/>
<circle cx="162.5" cy="173.1" r="2.5"/>
<circle cx="165.6" cy="171" r="2.5"/>
<circle cx="168.9" cy="168" r="2.5"/>
<circle cx="172.1" cy="164.9" r="2.5"/>
<circle cx="175" cy="163" r="2.5"/>
<circle cx="177.8" cy="161.1" r="2.5"/>
<circle cx="181.6" cy="155.4" r="2.5"/>
<circle cx="184.5" cy="154" r="2.5"/>
<circle cx="187.4" cy="152.5" r="2.5"/>
<circle cx="190.2" cy="151.5" r="2.5"/>
<circle cx="193.1" cy="150.6" r="2.5"/>
<circle cx="196.9" cy="148.7" r="2.5"/>
<circle cx="200.7" cy="146.8" r="2.5"/>
<circle cx="204.5" cy="145.3" r="2.5"/>
<circle cx="208.4" cy="143.9" r="2.5"/>
<circle cx="212.2" cy="142.4" r="2.5"/>
<circle cx="216" cy="141" r="2.5"/>
<circle cx="219.8" cy="140" r="2.5"/>
<circle cx="223.7" cy="139.1" r="2.5"/>
<circle cx="227.5" cy="138.1" r="2.5"/>
<circle cx="231.3" cy="137.2" r="2.5"/>
<circle cx="232.2" cy="137.1" r="2.5"/>
<circle cx="233.4" cy="135.2" r="2.5"/>
<circle cx="233.9" cy="134.6" r="2.5"/>
<circle cx="234.8" cy="134.4" r="2.5"/>
<circle cx="235.7" cy="133.3" r="2.5"/>
<circle cx="236.6" cy="133.5" r="2.5"/>
<circle cx="237.7" cy="131.9" r="2.5"/>
<circle cx="238.7" cy="132" r="2.5"/>
<circle cx="239.5" cy="131.3" r="2.5"/>
<circle cx="240.6" cy="129.9" r="2.5"/>
<circle cx="241.5" cy="128.3" r="2.5"/>
<circle cx="242.4" cy="127.9" r="2.5"/>
<circle cx="243" cy="128.4" r="2.5"/>
<circle cx="244.1" cy="127.1" r="2.5"/>
<circle cx="245.5" cy="126.6" r="2.5"/>
<circle cx="246.1" cy="125.8" r="2.5"/>
<circle cx="247.2" cy="125.7" r="2.5"/>
<circle cx="247.9" cy="124.6" r="2.5"/>
<circle cx="248.9" cy="123.4" r="2.5"/>
<circle cx="250.4" cy="123.4" r="2.5"/>
<circle cx="251.3" cy="123.4" r="2.5"/>
<circle cx="252.6" cy="122.4" r="2.5"/>
<circle cx="253.4" cy="122.1" r="2.5"/>
<circle cx="254.4" cy="122" r="2.5"/>
<circle cx="255.5" cy="121.3" r="2.5"/>
<circle cx="256.6" cy="121.6" r="2.5"/>
<circle cx="257.8" cy="121.1" r="2.5"/>
<circle cx="259" cy="119.6" r="2.5"/>
<circle cx="259.7" cy="120" r="2.5"/>
<circle cx="260.8" cy="117.8" r="2.5"/>
<circle cx="261.3" cy="117.6" r="2.5"/>
<circle cx="262.2" cy="116.5" r="2.5"/>
<circle cx="263.1" cy="116.5" r="2.5"/>
<circle cx="264.6" cy="116.1" r="2.5"/>
<circle cx="265.1" cy="115" r="2.5"/>
<circle cx="266.4" cy="113.2" r="2.5"/>
<circle cx="267.5" cy="113.9" r="2.5"/>
<circle cx="268" cy="113.1" r="2.5"/>
<circle cx="269.2" cy="111.9" r="2.5"/>
<circle cx="270.7" cy="112.1" r="2.5"/>
<circle cx="271.2" cy="110.9" r="2.5"/>
<circle cx="272.5" cy="110.3" r="2.5"/>
<circle cx="273.3" cy="109.9" r="2.5"/>
<circle cx="274.8" cy="108.9" r="2.5"/>
<circle cx="275.7" cy="109.2" r="2.5"/>
<circle cx="276.4" cy="108.6" r="2.5"/>
<circle cx="277.9" cy="108.5" r="2.5"/>
<circle cx="278.5" cy="108.8" r="2.5"/>
<circle cx="280.1" cy="108.3" r="2.5"/>
<circle cx="280.7" cy="106.5" r="2.5"/>
<circle cx="281.7" cy="106.9" r="2.5"/>
<circle cx="282.9" cy="105.2" r="2.5"/>
<circle cx="284.1" cy="106" r="2.5"/>
<circle cx="285.4" cy="104.3" r="2.5"/>
<circle cx="286" cy="105" r="2.5"/>
<circle cx="287.4" cy="104.1" r="2.5"/>
<circle cx="288.1" cy="102.5" r="2.5"/>
<circle cx="289.6" cy="102.7" r="2.5"/>
<circle cx="290.2" cy="103.2" r="2.5"/>
<circle cx="291.7" cy="102.6" r="2.5"/>
<circle cx="292.3" cy="102.2" r="2.5"/>
<circle cx="293.4" cy="101.8" r="2.5"/>
<circle cx="294.7" cy="100.5" r="2.5"/>
<circle cx="295.9" cy="101.1" r="2.5"/>
<circle cx="296.7" cy="99.2" r="2.5"/>
<circle cx="298" cy="98.9" r="2.5"/>
<circle cx="298.7" cy="98.2" r="2.5"/>
<circle cx="299.7" cy="97.8" r="2.5"/>
<circle cx="301" cy="97.4" r="2.5"/>
<circle cx="302.4" cy="96.9" r="2.5"/>
<circle cx="303.2" cy="96.1" r="2.5"/>
<circle cx="304.2" cy="95.3" r="2.5"/>
<circle cx="305.2" cy="94.8" r="2.5"/>
<circle cx="306.6" cy="95.2" r="2.5"/>
<circle cx="307.2" cy="94.4" r="2.5"/>
<circle cx="308.8" cy="93.1" r="2.5"/>
<circle cx="309.8" cy="93.1" r="2.5"/>
<circle cx="310.7" cy="93.2" r="2.5"/>
<circle cx="311.7" cy="91.9" r="2.5"/>
<circle cx="312.9" cy="92.2" r="2.5"/>
<circle cx="313.8" cy="91.3" r="2.5"/>
<circle cx="315.1" cy="90.3" r="2.5"/>
<circle cx="315.9" cy="89.1" r="2.5"/>
<circle cx="316.7" cy="88.2" r="2.5"/>
<circle cx="317.8" cy="88.8" r="2.5"/>
<circle cx="319" cy="87.2" r="2.5"/>
<circle cx="319.9" cy="87.9" r="2.5"/>
<circle cx="321.5" cy="87" r="2.5"/>
<circle cx="322.2" cy="85.7" r="2.5"/>
<circle cx="323.2" cy="85.6" r="2.5"/>
<circle cx="324.2" cy="85" r="2.5"/>
<circle cx="325.3" cy="85.4" r="2.5"/>
<circle cx="326.9" cy="84.2" r="2.5"/>
<circle cx="327.4" cy="84.4" r="2.5"/>
<circle cx="328.6" cy="82.7" r="2.5"/>
<circle cx="329.4" cy="82.3" r="2.5"/>
<circle cx="330.8" cy="81.9" r="2.5"/>
<circle cx="331.7" cy="81.4" r="2.5"/>
<circle cx="332.6" cy="80.4" r="2.5"/>
<circle cx="333.7" cy="80.2" r="2.5"/>
<circle cx="334.8" cy="78.9" r="2.5"/>
<circle cx="336" cy="78.9" r="2.5"/>
<circle cx="337.3" cy="79" r="2.5"/>
<circle cx="338.5" cy="78.8" r="2.5"/>
<circle cx="339.5" cy="78.8" r="2.5"/>
<circle cx="340.4" cy="77.4" r="2.5"/>
<circle cx="341.8" cy="76.6" r="2.5"/>
<circle cx="342.7" cy="77.1" r="2.5"/>
<circle cx="343.3" cy="77" r="2.5"/>
<circle cx="345" cy="76.2" r="2.5"/>
<circle cx="345.9" cy="76" r="2.5"/>
<circle cx="346.6" cy="75" r="2.5"/>
<circle cx="347.9" cy="75" r="2.5"/>
<circle cx="349.1" cy="74.5" r="2.5"/>
<circle cx="350" cy="74" r="2.5"/>
<circle cx="351.2" cy="73.1" r="2.5"/>
<circle cx="351.9" cy="71.4" r="2.5"/>
<circle cx="352.9" cy="71.5" r="2.5"/>
<circle cx="353.9" cy="71.8" r="2.5"/>
<circle cx="355.3" cy="70.9" r="2.5"/>
<circle cx="356.4" cy="70.4" r="2.5"/>
<circle cx="357.4" cy="68.7" r="2.5"/>
<circle cx="358.7" cy="69.4" r="2.5"/>
<circle cx="359.6" cy="68.5" r="2.5"/>
<circle cx="360.8" cy="67.1" r="2.5"/>
<circle cx="361.9" cy="66.9" r="2.5"/>
<circle cx="362.5" cy="66.4" r="2.5"/>
</g>
<g fill="#5fb890" stroke="#061a10" stroke-width="0.8">
<path d="M94.1 232l2.6 4.5 -5.2 0z"/>
<path d="M98.2 224.8l2.6 4.5 -5.2 0z"/>
<path d="M101.3 221.8l2.6 4.5 -5.2 0z"/>
<path d="M104.3 219.7l2.6 4.5 -5.2 0z"/>
<path d="M108.4 216.7l2.6 4.5 -5.2 0z"/>
<path d="M111.5 212.6l2.6 4.5 -5.2 0z"/>
<path d="M114.5 210.6l2.6 4.5 -5.2 0z"/>
<path d="M117.6 207.5l2.6 4.5 -5.2 0z"/>
<path d="M120.7 205.5l2.6 4.5 -5.2 0z"/>
<path d="M123.7 202.4l2.6 4.5 -5.2 0z"/>
<path d="M126.8 200.4l2.6 4.5 -5.2 0z"/>
<path d="M130.9 198.3l2.6 4.5 -5.2 0z"/>
<path d="M134.9 196.3l2.6 4.5 -5.2 0z"/>
<path d="M139 194.2l2.6 4.5 -5.2 0z"/>
<path d="M143.1 192.2l2.6 4.5 -5.2 0z"/>
<path d="M147.2 190.1l2.6 4.5 -5.2 0z"/>
<path d="M151.3 188.1l2.6 4.5 -5.2 0z"/>
<path d="M155.3 186.1l2.6 4.5 -5.2 0z"/>
<path d="M159.4 184l2.6 4.5 -5.2 0z"/>
<path d="M163.5 182l2.6 4.5 -5.2 0z"/>
<path d="M167.6 179.9l2.6 4.5 -5.2 0z"/>
<path d="M172.1 176.9l2.6 4.5 -5.2 0z"/>
<path d="M175.9 175.5l2.6 4.5 -5.2 0z"/>
<path d="M179.7 174.1l2.6 4.5 -5.2 0z"/>
<path d="M183.5 173.1l2.6 4.5 -5.2 0z"/>
<path d="M187.4 172.2l2.6 4.5 -5.2 0z"/>
<path d="M191.2 170.9l2.6 4.5 -5.2 0z"/>
<path d="M195 169.7l2.6 4.5 -5.2 0z"/>
<path d="M198.8 168.7l2.6 4.5 -5.2 0z"/>
<path d="M202.7 167.8l2.6 4.5 -5.2 0z"/>
<path d="M207.4 167.4l2.6 4.5 -5.2 0z"/>
<path d="M212.2 167l2.6 4.5 -5.2 0z"/>
<path d="M216 165.7l2.6 4.5 -5.2 0z"/>
<path d="M219.9 164.5l2.6 4.5 -5.2 0z"/>
<path d="M223.7 159.4l2.6 4.5 -5.2 0z"/>
<path d="M227.5 158.1l2.6 4.5 -5.2 0z"/>
<path d="M231.3 156.9l2.6 4.5 -5.2 0z"/>
<path d="M234.2 155l2.6 4.5 -5.2 0z"/>
<path d="M237.1 153.1l2.6 4.5 -5.2 0z"/>
<path d="M238.1 152.1l2.6 4.5 -5.2 0z"/>
<path d="M239 153l2.6 4.5 -5.2 0z"/>
<path d="M239.7 151.4l2.6 4.5 -5.2 0z"/>
<path d="M240.5 151.5l2.6 4.5 -5.2 0z"/>
<path d="M241.6 150.9l2.6 4.5 -5.2 0z"/>
<path d="M242.3 149.4l2.6 4.5 -5.2 0z"/>
<path d="M242.8 149.3l2.6 4.5 -5.2 0z"/>
<path d="M244.1 148.9l2.6 4.5 -5.2 0z"/>
<path d="M244.9 147.9l2.6 4.5 -5.2 0z"/>
<path d="M245.4 147.8l2.6 4.5 -5.2 0z"/>
<path d="M246.7 148.1l2.6 4.5 -5.2 0z"/>
<path d="M247.5 146.9l2.6 4.5 -5.2 0z"/>
<path d="M248.3 146.7l2.6 4.5 -5.2 0z"/>
<path d="M249.1 145.6l2.6 4.5 -5.2 0z"/>
<path d="M250.3 145.5l2.6 4.5 -5.2 0z"/>
<path d="M251.4 146.5l2.6 4.5 -5.2 0z"/>
<path d="M251.6 145.4l2.6 4.5 -5.2 0z"/>
<path d="M253.2 146l2.6 4.5 -5.2 0z"/>
<path d="M253.9 144.5l2.6 4.5 -5.2 0z"/>
<path d="M254.7 145.4l2.6 4.5 -5.2 0z"/>
<path d="M255.6 144.5l2.6 4.5 -5.2 0z"/>
<path d="M256.5 144.1l2.6 4.5 -5.2 0z"/>
<path d="M258.1 143.1l2.6 4.5 -5.2 0z"/>
<path d="M258.9 143.5l2.6 4.5 -5.2 0z"/>
<path d="M259.9 143.6l2.6 4.5 -5.2 0z"/>
<path d="M260.4 143.6l2.6 4.5 -5.2 0z"/>
<path d="M261.5 141.8l2.6 4.5 -5.2 0z"/>
<path d="M262.1 142.3l2.6 4.5 -5.2 0z"/>
<path d="M263.4 141.7l2.6 4.5 -5.2 0z"/>
<path d="M264.1 141.5l2.6 4.5 -5.2 0z"/>
<path d="M265.2 142.1l2.6 4.5 -5.2 0z"/>
<path d="M265.9 141.6l2.6 4.5 -5.2 0z"/>
<path d="M267.5 140.2l2.6 4.5 -5.2 0z"/>
<path d="M268.5 141l2.6 4.5 -5.2 0z"/>
<path d="M269.4 139.9l2.6 4.5 -5.2 0z"/>
<path d="M270 139.8l2.6 4.5 -5.2 0z"/>
<path d="M271.4 139.9l2.6 4.5 -5.2 0z"/>
<path d="M271.9 139.3l2.6 4.5 -5.2 0z"/>
<path d="M272.8 138.3l2.6 4.5 -5.2 0z"/>
<path d="M273.7 139.5l2.6 4.5 -5.2 0z"/>
<path d="M274.8 139.4l2.6 4.5 -5.2 0z"/>
<path d="M275.7 137.9l2.6 4.5 -5.2 0z"/>
<path d="M276.8 137.4l2.6 4.5 -5.2 0z"/>
<path d="M277.7 138.5l2.6 4.5 -5.2 0z"/>
<path d="M279 137.9l2.6 4.5 -5.2 0z"/>
<path d="M279.8 137.7l2.6 4.5 -5.2 0z"/>
<path d="M281 136.6l2.6 4.5 -5.2 0z"/>
<path d="M281.8 135.4l2.6 4.5 -5.2 0z"/>
<path d="M282.7 135.7l2.6 4.5 -5.2 0z"/>
<path d="M283.7 135.7l2.6 4.5 -5.2 0z"/>
<path d="M284.3 134.2l2.6 4.5 -5.2 0z"/>
<path d="M285.7 134l2.6 4.5 -5.2 0z"/>
<path d="M286.3 134l2.6 4.5 -5.2 0z"/>
<path d="M287.2 134.3l2.6 4.5 -5.2 0z"/>
<path d="M288.6 133.1l2.6 4.5 -5.2 0z"/>
<path d="M289.3 132.8l2.6 4.5 -5.2 0z"/>
<path d="M290.2 132.6l2.6 4.5 -5.2 0z"/>
<path d="M290.9 131.8l2.6 4.5 -5.2 0z"/>
<path d="M291.9 132.7l2.6 4.5 -5.2 0z"/>
<path d="M293.1 131.1l2.6 4.5 -5.2 0z"/>
<path d="M294.3 132.1l2.6 4.5 -5.2 0z"/>
<path d="M294.9 130.2l2.6 4.5 -5.2 0z"/>
<path d="M295.7 129.7l2.6 4.5 -5.2 0z"/>
<path d="M296.8 129.4l2.6 4.5 -5.2 0z"/>
<path d="M297.7 129.3l2.6 4.5 -5.2 0z"/>
<path d="M298.9 130l2.6 4.5 -5.2 0z"/>
<path d="M299.9 128.8l2.6 4.5 -5.2 0z"/>
<path d="M300.6 128.6l2.6 4.5 -5.2 0z"/>
<path d="M301.6 127.9l2.6 4.5 -5.2 0z"/>
<path d="M302.3 127.4l2.6 4.5 -5.2 0z"/>
<path d="M303.9 126.8l2.6 4.5 -5.2 0z"/>
<path d="M304.5 127.3l2.6 4.5 -5.2 0z"/>
<path d="M305.7 126.2l2.6 4.5 -5.2 0z"/>
<path d="M306.2 125.8l2.6 4.5 -5.2 0z"/>
<path d="M307.3 125.9l2.6 4.5 -5.2 0z"/>
<path d="M308.6 126.3l2.6 4.5 -5.2 0z"/>
<path d="M309.5 124.6l2.6 4.5 -5.2 0z"/>
<path d="M309.9 125.5l2.6 4.5 -5.2 0z"/>
<path d="M311.5 124.8l2.6 4.5 -5.2 0z"/>
<path d="M312.2 123.7l2.6 4.5 -5.2 0z"/>
<path d="M313 125l2.6 4.5 -5.2 0z"/>
<path d="M314.3 124.6l2.6 4.5 -5.2 0z"/>
<path d="M315.4 123.2l2.6 4.5 -5.2 0z"/>
<path d="M315.7 122.8l2.6 4.5 -5.2 0z"/>
<path d="M317 123.3l2.6 4.5 -5.2 0z"/>
<path d="M318.2 123l2.6 4.5 -5.2 0z"/>
<path d="M319 122.7l2.6 4.5 -5.2 0z"/>
<path d="M319.8 122l2.6 4.5 -5.2 0z"/>
<path d="M320.4 122l2.6 4.5 -5.2 0z"/>
<path d="M321.5 121.9l2.6 4.5 -5.2 0z"/>
<path d="M322.8 120.4l2.6 4.5 -5.2 0z"/>
<path d="M323.3 119.9l2.6 4.5 -5.2 0z"/>
<path d="M324.6 120.3l2.6 4.5 -5.2 0z"/>
<path d="M325.2 118.8l2.6 4.5 -5.2 0z"/>
<path d="M326.5 119.5l2.6 4.5 -5.2 0z"/>
<path d="M327.3 118.6l2.6 4.5 -5.2 0z"/>
<path d="M328.4 117.9l2.6 4.5 -5.2 0z"/>
<path d="M329.2 118.4l2.6 4.5 -5.2 0z"/>
<path d="M330.6 118.5l2.6 4.5 -5.2 0z"/>
<path d="M331.5 117.9l2.6 4.5 -5.2 0z"/>
<path d="M332 117.2l2.6 4.5 -5.2 0z"/>
</g>
<rect x="197.6" y="206.5" width="3.6" height="3.6" fill="#2a35c0" stroke="#10105a" stroke-width="0.4"/>
<circle cx="199.4" cy="218" r="2" fill="#e2e2e2" stroke="#333" stroke-width="0.5"/>
<path d="M199.4 224.7l2.1 3.7 -4.2 0z" fill="#6fc7a0" stroke="#1d4d35" stroke-width="0.5"/>
<line x1="545.7" y1="110" x2="562" y2="129.2" stroke="#333" stroke-width="0.85"/>
<line x1="530.4" y1="130.6" x2="543.2" y2="134" stroke="#333" stroke-width="0.85"/>
<line x1="579.4" y1="119.2" x2="595.4" y2="131" stroke="#333" stroke-width="0.85"/>
<line x1="593.6" y1="114" x2="615.8" y2="114" stroke="#333" stroke-width="0.85"/>
<line x1="524.8" y1="154.4" x2="538" y2="156.4" stroke="#333" stroke-width="0.85"/>
<line x1="500.6" y1="158.5" x2="513.9" y2="178" stroke="#333" stroke-width="0.85"/>
<line x1="476.4" y1="186.5" x2="482" y2="200" stroke="#333" stroke-width="0.85"/>
<circle cx="543.2" cy="134" r="3.1" fill="#dd1010" stroke="#4a0000" stroke-width="0.8"/>
<circle cx="562" cy="129.2" r="3.1" fill="#dd1010" stroke="#4a0000" stroke-width="0.8"/>
<circle cx="579.6" cy="119.1" r="3.1" fill="#dd1010" stroke="#4a0000" stroke-width="0.8"/>
<circle cx="593.6" cy="114" r="3.1" fill="#dd1010" stroke="#4a0000" stroke-width="0.8"/>
<circle cx="524.8" cy="154.4" r="3.1" fill="#dd1010" stroke="#4a0000" stroke-width="0.8"/>
<circle cx="500.6" cy="158.5" r="3.1" fill="#dd1010" stroke="#4a0000" stroke-width="0.8"/>
<circle cx="476.4" cy="186.5" r="3.1" fill="#dd1010" stroke="#4a0000" stroke-width="0.8"/>
<circle cx="603.4" cy="103" r="3.1" fill="#dd1010" stroke="#4a0000" stroke-width="0.8"/>
<circle cx="609.9" cy="99.1" r="3.1" fill="#dd1010" stroke="#4a0000" stroke-width="0.8"/>
<circle cx="616.1" cy="96.2" r="3.1" fill="#dd1010" stroke="#4a0000" stroke-width="0.8"/>
<circle cx="622" cy="93" r="3.1" fill="#dd1010" stroke="#4a0000" stroke-width="0.8"/>
<circle cx="627.1" cy="92.1" r="3.1" fill="#dd1010" stroke="#4a0000" stroke-width="0.8"/>
<circle cx="632.2" cy="87.3" r="3.1" fill="#dd1010" stroke="#4a0000" stroke-width="0.8"/>
<circle cx="637.1" cy="86.7" r="3.1" fill="#dd1010" stroke="#4a0000" stroke-width="0.8"/>
<circle cx="642" cy="85.4" r="3.1" fill="#dd1010" stroke="#4a0000" stroke-width="0.8"/>
<circle cx="646.4" cy="82.6" r="3.1" fill="#dd1010" stroke="#4a0000" stroke-width="0.8"/>
<circle cx="650.5" cy="82.6" r="3.1" fill="#dd1010" stroke="#4a0000" stroke-width="0.8"/>
<circle cx="653.7" cy="80" r="3.1" fill="#dd1010" stroke="#4a0000" stroke-width="0.8"/>
<circle cx="656" cy="77.7" r="3.1" fill="#dd1010" stroke="#4a0000" stroke-width="0.8"/>
<text x="489.7" y="108" font-size="13" font-style="italic" fill="#1a1a1a">C. briggsae</text>
<text x="467.5" y="131" font-size="13" font-style="italic" fill="#1a1a1a">C. elegans</text>
<text x="540.1" y="163.6" font-size="13" font-style="italic" fill="#1a1a1a">M. musculus</text>
<text x="511.6" y="185.7" font-size="13" font-style="italic" fill="#1a1a1a">A. thaliana</text>
<text x="596.7" y="136" font-size="13" font-style="italic" fill="#1a1a1a">D. melanogaster</text>
<text x="618.8" y="118.6" font-size="13" font-style="italic" fill="#1a1a1a">A. gambiae</text>
<text x="482.4" y="214.8" font-size="13" font-style="italic" fill="#1a1a1a">H. sapiens</text>
<g fill="#4fe01e" stroke="#2a6a10" stroke-width="0.85">
<path d="M212 629.6l5.4 5.4 -5.4 5.4 -5.4 -5.4z"/>
<path d="M252.7 583.1l5.4 5.4 -5.4 5.4 -5.4 -5.4z"/>
<path d="M290.4 541.6l5.4 5.4 -5.4 5.4 -5.4 -5.4z"/>
<path d="M327.1 508l5.4 5.4 -5.4 5.4 -5.4 -5.4z"/>
<path d="M361 481.7l5.4 5.4 -5.4 5.4 -5.4 -5.4z"/>
<path d="M387.9 462.8l5.4 5.4 -5.4 5.4 -5.4 -5.4z"/>
<path d="M414.4 443.5l5.4 5.4 -5.4 5.4 -5.4 -5.4z"/>
<path d="M440 428.6l5.4 5.4 -5.4 5.4 -5.4 -5.4z"/>
<path d="M465.1 415.4l5.4 5.4 -5.4 5.4 -5.4 -5.4z"/>
<path d="M488.8 403.2l5.4 5.4 -5.4 5.4 -5.4 -5.4z"/>
<path d="M512.9 392.5l5.4 5.4 -5.4 5.4 -5.4 -5.4z"/>
<path d="M536.5 381.8l5.4 5.4 -5.4 5.4 -5.4 -5.4z"/>
<path d="M559.5 372.6l5.4 5.4 -5.4 5.4 -5.4 -5.4z"/>
<path d="M582.4 359.2l5.4 5.4 -5.4 5.4 -5.4 -5.4z"/>
<path d="M605.3 353.1l5.4 5.4 -5.4 5.4 -5.4 -5.4z"/>
<path d="M626.3 342.8l5.4 5.4 -5.4 5.4 -5.4 -5.4z"/>
<path d="M647.4 332.1l5.4 5.4 -5.4 5.4 -5.4 -5.4z"/>
<path d="M667.6 322.2l5.4 5.4 -5.4 5.4 -5.4 -5.4z"/>
</g>
<g fill="#f5821e" stroke="#6a3000" stroke-width="0.85">
<circle cx="204.3" cy="646.2" r="5.3"/>
<circle cx="246" cy="612.1" r="5.3"/>
<circle cx="277.5" cy="577.5" r="5.3"/>
<circle cx="299.9" cy="556.4" r="5.3"/>
<circle cx="320.3" cy="542.4" r="5.3"/>
<circle cx="340.6" cy="524.1" r="5.3"/>
<circle cx="359.7" cy="510" r="5.3"/>
<circle cx="379.6" cy="496.6" r="5.3"/>
<circle cx="395.9" cy="486.6" r="5.3"/>
<circle cx="412.7" cy="473.2" r="5.3"/>
<circle cx="428.8" cy="461.8" r="5.3"/>
<circle cx="445.8" cy="452.5" r="5.3"/>
<circle cx="460.8" cy="442" r="5.3"/>
<circle cx="475.4" cy="433" r="5.3"/>
<circle cx="487.6" cy="427.3" r="5.3"/>
<circle cx="499.5" cy="420.8" r="5.3"/>
<circle cx="510.9" cy="412.4" r="5.3"/>
<circle cx="521.3" cy="407.4" r="5.3"/>
<circle cx="532" cy="400.6" r="5.3"/>
<circle cx="541.1" cy="396.7" r="5.3"/>
<circle cx="549.9" cy="393.3" r="5.3"/>
<circle cx="557.6" cy="389.1" r="5.3"/>
<circle cx="565.2" cy="382.6" r="5.3"/>
<circle cx="572.1" cy="378" r="5.3"/>
<circle cx="578.6" cy="375" r="5.3"/>
<circle cx="584.3" cy="371.9" r="5.3"/>
<circle cx="590" cy="369.2" r="5.3"/>
<circle cx="594.6" cy="367.3" r="5.3"/>
<circle cx="598.8" cy="365.4" r="5.3"/>
<circle cx="602.7" cy="363.5" r="5.3"/>
<circle cx="605.3" cy="362.3" r="5.3"/>
</g>
<g fill="#1f3cf0" stroke="#0a1060" stroke-width="0.85">
<rect x="205" y="636.1" width="8.8" height="8.8"/>
<rect x="251" y="597.1" width="8.8" height="8.8"/>
<rect x="291.8" y="562.4" width="8.8" height="8.8"/>
<rect x="328.6" y="524.8" width="8.8" height="8.8"/>
<rect x="363" y="502.6" width="8.8" height="8.8"/>
<rect x="396" y="475.3" width="8.8" height="8.8"/>
<rect x="422.6" y="453.9" width="8.8" height="8.8"/>
<rect x="446.4" y="443.6" width="8.8" height="8.8"/>
<rect x="465.4" y="429.6" width="8.8" height="8.8"/>
<rect x="479.8" y="416.4" width="8.8" height="8.8"/>
<rect x="492" y="405" width="8.8" height="8.8"/>
<rect x="503.5" y="393.5" width="8.8" height="8.8"/>
<rect x="512.3" y="384.7" width="8.8" height="8.8"/>
<rect x="520.7" y="379" width="8.8" height="8.8"/>
<rect x="527.6" y="373.6" width="8.8" height="8.8"/>
<rect x="534.1" y="366.7" width="8.8" height="8.8"/>
<rect x="540.6" y="362.9" width="8.8" height="8.8"/>
<rect x="545.5" y="357.2" width="8.8" height="8.8"/>
<rect x="550.1" y="353.4" width="8.8" height="8.8"/>
<rect x="553.9" y="350.7" width="8.8" height="8.8"/>
<rect x="558.1" y="347.6" width="8.8" height="8.8"/>
</g>
<g fill="#f0f02a" stroke="#6a6a00" stroke-width="0.85">
<path d="M193.2 658.3l5 8.8 -10 0z"/>
<path d="M217.2 632.3l5 8.8 -10 0z"/>
<path d="M238.3 612.8l5 8.8 -10 0z"/>
<path d="M260.4 590.1l5 8.8 -10 0z"/>
<path d="M275.7 577.4l5 8.8 -10 0z"/>
<path d="M291 566.7l5 8.8 -10 0z"/>
<path d="M304.5 559.6l5 8.8 -10 0z"/>
<path d="M316.4 549.4l5 8.8 -10 0z"/>
<path d="M327.9 540.5l5 8.8 -10 0z"/>
<path d="M337.6 535.4l5 8.8 -10 0z"/>
<path d="M347 526.4l5 8.8 -10 0z"/>
<path d="M355.9 518l5 8.8 -10 0z"/>
<path d="M364.8 510.4l5 8.8 -10 0z"/>
<path d="M372.5 503.5l5 8.8 -10 0z"/>
<path d="M380.1 498.4l5 8.8 -10 0z"/>
<path d="M387.8 490.8l5 8.8 -10 0z"/>
<path d="M395.4 489.5l5 8.8 -10 0z"/>
<path d="M402.9 484.6l5 8.8 -10 0z"/>
<path d="M407.4 482l5 8.8 -10 0z"/>
<path d="M413.1 477.6l5 8.8 -10 0z"/>
<path d="M419.5 473.8l5 8.8 -10 0z"/>
<path d="M423.9 470l5 8.8 -10 0z"/>
<path d="M427.8 466.8l5 8.8 -10 0z"/>
<path d="M431 464.2l5 8.8 -10 0z"/>
<path d="M433.5 462.3l5 8.8 -10 0z"/>
<path d="M436 460.4l5 8.8 -10 0z"/>
<path d="M439.2 458.5l5 8.8 -10 0z"/>
</g>
<g fill="#7ef0c8" stroke="#2a6a50" stroke-width="0.85">
<circle cx="197" cy="655" r="5.3"/>
<circle cx="218.5" cy="630.5" r="5.3"/>
<circle cx="238.6" cy="611" r="5.3"/>
<circle cx="259.2" cy="588.8" r="5.3"/>
<circle cx="275.2" cy="571.7" r="5.3"/>
<circle cx="287.4" cy="558.5" r="5.3"/>
<circle cx="298.1" cy="547.5" r="5.3"/>
<circle cx="307.5" cy="538.1" r="5.3"/>
<circle cx="315.9" cy="531.7" r="5.3"/>
<circle cx="323.3" cy="526.1" r="5.3"/>
<circle cx="329.7" cy="519.5" r="5.3"/>
<circle cx="335.5" cy="513.9" r="5.3"/>
<circle cx="340.1" cy="508.3" r="5.3"/>
<circle cx="344.5" cy="503.7" r="5.3"/>
<circle cx="348.3" cy="499.9" r="5.3"/>
<circle cx="352.1" cy="496.6" r="5.3"/>
<circle cx="355.9" cy="493" r="5.3"/>
</g>
<g fill="#e00808" stroke="#600000" stroke-width="0.85">
<path d="M169.5 679h12.6l-6.3 10.7z"/>
<path d="M180.1 667.2h12.6l-6.3 10.7z"/>
<path d="M189.5 657.8h12.6l-6.3 10.7z"/>
<path d="M199.2 649.4h12.6l-6.3 10.7z"/>
<path d="M206.5 643.3h12.6l-6.3 10.7z"/>
<path d="M212.2 637.9h12.6l-6.3 10.7z"/>
<path d="M217.3 633.5h12.6l-6.3 10.7z"/>
<path d="M221.1 630.9h12.6l-6.3 10.7z"/>
<path d="M224.9 629h12.6l-6.3 10.7z"/>
<path d="M228.1 627.1h12.6l-6.3 10.7z"/>
<path d="M231.3 625.2h12.6l-6.3 10.7z"/>
<path d="M234.5 623.3h12.6l-6.3 10.7z"/>
<path d="M237 621.4h12.6l-6.3 10.7z"/>
<path d="M239.6 620.1h12.6l-6.3 10.7z"/>
<path d="M242.1 618.8h12.6l-6.3 10.7z"/>
<path d="M243.2 617.5h12.6l-6.3 10.7z"/>
</g>
<path d="M211.7 355.8l4.7 4.7 -4.7 4.7 -4.7 -4.7z" fill="#4fe01e" stroke="#2a6a10" stroke-width="0.7"/>
<circle cx="211.7" cy="377" r="4.6" fill="#f5821e" stroke="#6a3000" stroke-width="0.7"/>
<rect x="207.6" y="389.1" width="8.2" height="8.2" fill="#1f3cf0" stroke="#0a1060" stroke-width="0.7"/>
<path d="M211.7 406.3l4.7 8.2 -9.4 0z" fill="#f0f02a" stroke="#6a6a00" stroke-width="0.7"/>
<circle cx="211.7" cy="428.8" r="4.6" fill="#7ef0c8" stroke="#2a6a50" stroke-width="0.7"/>
<path d="M206 443.2h11.4l-5.7 9.7z" fill="#e00808" stroke="#600000" stroke-width="0.7"/>
<rect x="441.9" y="509.2" width="225.5" height="160.5" fill="none" stroke="#555" stroke-width="0.9"/>
<line x1="487" y1="669.7" x2="487" y2="665.2" stroke="#555" stroke-width="0.8"/>
<line x1="487" y1="509.2" x2="487" y2="513.7" stroke="#555" stroke-width="0.8"/>
<line x1="532.1" y1="669.7" x2="532.1" y2="665.2" stroke="#555" stroke-width="0.8"/>
<line x1="532.1" y1="509.2" x2="532.1" y2="513.7" stroke="#555" stroke-width="0.8"/>
<line x1="577.2" y1="669.7" x2="577.2" y2="665.2" stroke="#555" stroke-width="0.8"/>
<line x1="577.2" y1="509.2" x2="577.2" y2="513.7" stroke="#555" stroke-width="0.8"/>
<line x1="622.3" y1="669.7" x2="622.3" y2="665.2" stroke="#555" stroke-width="0.8"/>
<line x1="622.3" y1="509.2" x2="622.3" y2="513.7" stroke="#555" stroke-width="0.8"/>
<line x1="464.45" y1="669.7" x2="464.45" y2="667.2" stroke="#555" stroke-width="0.8"/>
<line x1="464.45" y1="509.2" x2="464.45" y2="511.7" stroke="#555" stroke-width="0.8"/>
<line x1="509.55" y1="669.7" x2="509.55" y2="667.2" stroke="#555" stroke-width="0.8"/>
<line x1="509.55" y1="509.2" x2="509.55" y2="511.7" stroke="#555" stroke-width="0.8"/>
<line x1="554.65" y1="669.7" x2="554.65" y2="667.2" stroke="#555" stroke-width="0.8"/>
<line x1="554.65" y1="509.2" x2="554.65" y2="511.7" stroke="#555" stroke-width="0.8"/>
<line x1="599.75" y1="669.7" x2="599.75" y2="667.2" stroke="#555" stroke-width="0.8"/>
<line x1="599.75" y1="509.2" x2="599.75" y2="511.7" stroke="#555" stroke-width="0.8"/>
<line x1="644.85" y1="669.7" x2="644.85" y2="667.2" stroke="#555" stroke-width="0.8"/>
<line x1="644.85" y1="509.2" x2="644.85" y2="511.7" stroke="#555" stroke-width="0.8"/>
<line x1="441.9" y1="642.95" x2="446.4" y2="642.95" stroke="#555" stroke-width="0.8"/>
<line x1="441.9" y1="616.2" x2="446.4" y2="616.2" stroke="#555" stroke-width="0.8"/>
<line x1="441.9" y1="589.45" x2="446.4" y2="589.45" stroke="#555" stroke-width="0.8"/>
<line x1="441.9" y1="562.7" x2="446.4" y2="562.7" stroke="#555" stroke-width="0.8"/>
<line x1="441.9" y1="535.95" x2="446.4" y2="535.95" stroke="#555" stroke-width="0.8"/>
<line x1="441.9" y1="656.33" x2="444.4" y2="656.33" stroke="#555" stroke-width="0.8"/>
<line x1="441.9" y1="629.58" x2="444.4" y2="629.58" stroke="#555" stroke-width="0.8"/>
<line x1="441.9" y1="602.83" x2="444.4" y2="602.83" stroke="#555" stroke-width="0.8"/>
<line x1="441.9" y1="576.08" x2="444.4" y2="576.08" stroke="#555" stroke-width="0.8"/>
<line x1="441.9" y1="549.33" x2="444.4" y2="549.33" stroke="#555" stroke-width="0.8"/>
<line x1="441.9" y1="522.58" x2="444.4" y2="522.58" stroke="#555" stroke-width="0.8"/>
<text x="439.7" y="645.15" font-size="6.4" text-anchor="end" textLength="24.5" lengthAdjust="spacingAndGlyphs" fill="#222">20,000</text>
<text x="439.7" y="618.4" font-size="6.4" text-anchor="end" textLength="24.5" lengthAdjust="spacingAndGlyphs" fill="#222">40,000</text>
<text x="439.7" y="591.65" font-size="6.4" text-anchor="end" textLength="24.5" lengthAdjust="spacingAndGlyphs" fill="#222">60,000</text>
<text x="439.7" y="564.9" font-size="6.4" text-anchor="end" textLength="24.5" lengthAdjust="spacingAndGlyphs" fill="#222">80,000</text>
<text x="439.7" y="538.15" font-size="6.4" text-anchor="end" textLength="28.5" lengthAdjust="spacingAndGlyphs" fill="#222">100,000</text>
<text x="439.7" y="511.4" font-size="6.4" text-anchor="end" textLength="28.5" lengthAdjust="spacingAndGlyphs" fill="#222">120,000</text>
<text x="435.5" y="671.9" font-size="6.4" text-anchor="end" fill="#222">0</text>
<text x="441.9" y="676.6" font-size="6.4" text-anchor="middle" fill="#222">0</text>
<text x="489.2" y="676.6" font-size="6.4" text-anchor="middle" textLength="24.5" lengthAdjust="spacingAndGlyphs" fill="#222">50,000</text>
<text x="534.3" y="676.6" font-size="6.4" text-anchor="middle" textLength="28.5" lengthAdjust="spacingAndGlyphs" fill="#222">100,000</text>
<text x="579.4" y="676.6" font-size="6.4" text-anchor="middle" textLength="28.5" lengthAdjust="spacingAndGlyphs" fill="#222">150,000</text>
<text x="624.5" y="676.6" font-size="6.4" text-anchor="middle" textLength="28.5" lengthAdjust="spacingAndGlyphs" fill="#222">200,000</text>
<text x="669.6" y="676.6" font-size="6.4" text-anchor="middle" textLength="28.5" lengthAdjust="spacingAndGlyphs" fill="#222">250,000</text>
<g fill="#4fe01e" stroke="#1a1a1a" stroke-width="0.6">
<path d="M452 651.7l2.3 2.3 -2.3 2.3 -2.3 -2.3z"/>
<path d="M460.3 640.1l2.3 2.3 -2.3 2.3 -2.3 -2.3z"/>
<path d="M467.9 629.7l2.3 2.3 -2.3 2.3 -2.3 -2.3z"/>
<path d="M475.4 621.3l2.3 2.3 -2.3 2.3 -2.3 -2.3z"/>
<path d="M482.3 614.8l2.3 2.3 -2.3 2.3 -2.3 -2.3z"/>
<path d="M487.7 610.1l2.3 2.3 -2.3 2.3 -2.3 -2.3z"/>
<path d="M493.1 605.2l2.3 2.3 -2.3 2.3 -2.3 -2.3z"/>
<path d="M498.3 601.5l2.3 2.3 -2.3 2.3 -2.3 -2.3z"/>
<path d="M503.4 598.2l2.3 2.3 -2.3 2.3 -2.3 -2.3z"/>
<path d="M508.3 595.2l2.3 2.3 -2.3 2.3 -2.3 -2.3z"/>
<path d="M513.2 592.5l2.3 2.3 -2.3 2.3 -2.3 -2.3z"/>
<path d="M518 589.8l2.3 2.3 -2.3 2.3 -2.3 -2.3z"/>
<path d="M522.6 587.6l2.3 2.3 -2.3 2.3 -2.3 -2.3z"/>
<path d="M527.3 584.2l2.3 2.3 -2.3 2.3 -2.3 -2.3z"/>
<path d="M531.9 582.7l2.3 2.3 -2.3 2.3 -2.3 -2.3z"/>
<path d="M536.2 580.1l2.3 2.3 -2.3 2.3 -2.3 -2.3z"/>
<path d="M540.5 577.4l2.3 2.3 -2.3 2.3 -2.3 -2.3z"/>
<path d="M544.6 575l2.3 2.3 -2.3 2.3 -2.3 -2.3z"/>
<path d="M534.1 579.5l2.3 2.3 -2.3 2.3 -2.3 -2.3z"/>
<path d="M537.6 577.8l2.3 2.3 -2.3 2.3 -2.3 -2.3z"/>
<path d="M541 576.1l2.3 2.3 -2.3 2.3 -2.3 -2.3z"/>
<path d="M544.5 574.4l2.3 2.3 -2.3 2.3 -2.3 -2.3z"/>
<path d="M548 572.7l2.3 2.3 -2.3 2.3 -2.3 -2.3z"/>
<path d="M551.9 571.1l2.3 2.3 -2.3 2.3 -2.3 -2.3z"/>
<path d="M555.7 569.4l2.3 2.3 -2.3 2.3 -2.3 -2.3z"/>
<path d="M559.5 567.8l2.3 2.3 -2.3 2.3 -2.3 -2.3z"/>
<path d="M563.4 566.1l2.3 2.3 -2.3 2.3 -2.3 -2.3z"/>
<path d="M566.8 564.1l2.3 2.3 -2.3 2.3 -2.3 -2.3z"/>
<path d="M570.2 562.1l2.3 2.3 -2.3 2.3 -2.3 -2.3z"/>
<path d="M573.6 560l2.3 2.3 -2.3 2.3 -2.3 -2.3z"/>
<path d="M577 558l2.3 2.3 -2.3 2.3 -2.3 -2.3z"/>
<path d="M580.4 556l2.3 2.3 -2.3 2.3 -2.3 -2.3z"/>
<path d="M583.8 553.9l2.3 2.3 -2.3 2.3 -2.3 -2.3z"/>
<path d="M584.6 554.4l2.3 2.3 -2.3 2.3 -2.3 -2.3z"/>
<path d="M585.4 553.6l2.3 2.3 -2.3 2.3 -2.3 -2.3z"/>
<path d="M586.2 552.5l2.3 2.3 -2.3 2.3 -2.3 -2.3z"/>
<path d="M587.1 551.6l2.3 2.3 -2.3 2.3 -2.3 -2.3z"/>
<path d="M587.9 552.1l2.3 2.3 -2.3 2.3 -2.3 -2.3z"/>
<path d="M588.7 552.1l2.3 2.3 -2.3 2.3 -2.3 -2.3z"/>
<path d="M589.5 551.3l2.3 2.3 -2.3 2.3 -2.3 -2.3z"/>
<path d="M590.3 550.6l2.3 2.3 -2.3 2.3 -2.3 -2.3z"/>
<path d="M591.1 551l2.3 2.3 -2.3 2.3 -2.3 -2.3z"/>
<path d="M592 551.1l2.3 2.3 -2.3 2.3 -2.3 -2.3z"/>
<path d="M592.8 549.5l2.3 2.3 -2.3 2.3 -2.3 -2.3z"/>
<path d="M593.6 548.8l2.3 2.3 -2.3 2.3 -2.3 -2.3z"/>
<path d="M594.4 549l2.3 2.3 -2.3 2.3 -2.3 -2.3z"/>
<path d="M595.2 548.7l2.3 2.3 -2.3 2.3 -2.3 -2.3z"/>
<path d="M596 548.9l2.3 2.3 -2.3 2.3 -2.3 -2.3z"/>
<path d="M596.9 547.6l2.3 2.3 -2.3 2.3 -2.3 -2.3z"/>
<path d="M597.7 548.3l2.3 2.3 -2.3 2.3 -2.3 -2.3z"/>
<path d="M598.5 547.9l2.3 2.3 -2.3 2.3 -2.3 -2.3z"/>
<path d="M599.3 547.1l2.3 2.3 -2.3 2.3 -2.3 -2.3z"/>
<path d="M600.1 546.2l2.3 2.3 -2.3 2.3 -2.3 -2.3z"/>
<path d="M600.9 547.2l2.3 2.3 -2.3 2.3 -2.3 -2.3z"/>
<path d="M601.8 545.7l2.3 2.3 -2.3 2.3 -2.3 -2.3z"/>
<path d="M602.6 546.2l2.3 2.3 -2.3 2.3 -2.3 -2.3z"/>
<path d="M603.4 544.8l2.3 2.3 -2.3 2.3 -2.3 -2.3z"/>
<path d="M604.2 544.4l2.3 2.3 -2.3 2.3 -2.3 -2.3z"/>
<path d="M605 545l2.3 2.3 -2.3 2.3 -2.3 -2.3z"/>
<path d="M605.8 543.7l2.3 2.3 -2.3 2.3 -2.3 -2.3z"/>
<path d="M606.6 544.4l2.3 2.3 -2.3 2.3 -2.3 -2.3z"/>
<path d="M607.3 543.2l2.3 2.3 -2.3 2.3 -2.3 -2.3z"/>
<path d="M608.1 542.2l2.3 2.3 -2.3 2.3 -2.3 -2.3z"/>
<path d="M608.9 541.8l2.3 2.3 -2.3 2.3 -2.3 -2.3z"/>
<path d="M609.7 541.7l2.3 2.3 -2.3 2.3 -2.3 -2.3z"/>
<path d="M610.5 541.7l2.3 2.3 -2.3 2.3 -2.3 -2.3z"/>
<path d="M611.3 541.8l2.3 2.3 -2.3 2.3 -2.3 -2.3z"/>
<path d="M612 539.9l2.3 2.3 -2.3 2.3 -2.3 -2.3z"/>
<path d="M612.8 539.9l2.3 2.3 -2.3 2.3 -2.3 -2.3z"/>
<path d="M613.6 539.2l2.3 2.3 -2.3 2.3 -2.3 -2.3z"/>
<path d="M614.4 540.1l2.3 2.3 -2.3 2.3 -2.3 -2.3z"/>
<path d="M615.2 538.1l2.3 2.3 -2.3 2.3 -2.3 -2.3z"/>
<path d="M616 537.5l2.3 2.3 -2.3 2.3 -2.3 -2.3z"/>
<path d="M616.8 537.1l2.3 2.3 -2.3 2.3 -2.3 -2.3z"/>
<path d="M617.5 537.3l2.3 2.3 -2.3 2.3 -2.3 -2.3z"/>
<path d="M618.3 537.8l2.3 2.3 -2.3 2.3 -2.3 -2.3z"/>
<path d="M619.1 537.3l2.3 2.3 -2.3 2.3 -2.3 -2.3z"/>
<path d="M619.9 536.6l2.3 2.3 -2.3 2.3 -2.3 -2.3z"/>
<path d="M620.7 536.6l2.3 2.3 -2.3 2.3 -2.3 -2.3z"/>
<path d="M621.5 536.1l2.3 2.3 -2.3 2.3 -2.3 -2.3z"/>
<path d="M622.2 534.5l2.3 2.3 -2.3 2.3 -2.3 -2.3z"/>
<path d="M623 533.8l2.3 2.3 -2.3 2.3 -2.3 -2.3z"/>
<path d="M623.8 534.8l2.3 2.3 -2.3 2.3 -2.3 -2.3z"/>
<path d="M624.6 534l2.3 2.3 -2.3 2.3 -2.3 -2.3z"/>
<path d="M625.4 532.3l2.3 2.3 -2.3 2.3 -2.3 -2.3z"/>
<path d="M626.2 533l2.3 2.3 -2.3 2.3 -2.3 -2.3z"/>
<path d="M626.9 532l2.3 2.3 -2.3 2.3 -2.3 -2.3z"/>
<path d="M627.7 531.6l2.3 2.3 -2.3 2.3 -2.3 -2.3z"/>
<path d="M628.5 531.1l2.3 2.3 -2.3 2.3 -2.3 -2.3z"/>
<path d="M629.3 530.4l2.3 2.3 -2.3 2.3 -2.3 -2.3z"/>
<path d="M630 529.6l2.3 2.3 -2.3 2.3 -2.3 -2.3z"/>
<path d="M630.8 529.7l2.3 2.3 -2.3 2.3 -2.3 -2.3z"/>
<path d="M631.6 529.4l2.3 2.3 -2.3 2.3 -2.3 -2.3z"/>
<path d="M632.4 530.1l2.3 2.3 -2.3 2.3 -2.3 -2.3z"/>
<path d="M633.2 528.2l2.3 2.3 -2.3 2.3 -2.3 -2.3z"/>
<path d="M633.9 529.2l2.3 2.3 -2.3 2.3 -2.3 -2.3z"/>
<path d="M634.7 527.5l2.3 2.3 -2.3 2.3 -2.3 -2.3z"/>
<path d="M635.5 527.3l2.3 2.3 -2.3 2.3 -2.3 -2.3z"/>
<path d="M636.3 527.7l2.3 2.3 -2.3 2.3 -2.3 -2.3z"/>
<path d="M637 527.3l2.3 2.3 -2.3 2.3 -2.3 -2.3z"/>
<path d="M637.8 526.1l2.3 2.3 -2.3 2.3 -2.3 -2.3z"/>
<path d="M638.6 525l2.3 2.3 -2.3 2.3 -2.3 -2.3z"/>
<path d="M639.4 525.4l2.3 2.3 -2.3 2.3 -2.3 -2.3z"/>
<path d="M640.1 524.8l2.3 2.3 -2.3 2.3 -2.3 -2.3z"/>
<path d="M640.9 525.3l2.3 2.3 -2.3 2.3 -2.3 -2.3z"/>
<path d="M641.7 523.6l2.3 2.3 -2.3 2.3 -2.3 -2.3z"/>
</g>
<g fill="#f5821e" stroke="#1a1a1a" stroke-width="0.6">
<circle cx="450.4" cy="656.7" r="2.2"/>
<circle cx="452.1" cy="655" r="2.2"/>
<circle cx="453.8" cy="653.3" r="2.2"/>
<circle cx="455.5" cy="651.6" r="2.2"/>
<circle cx="457.2" cy="649.9" r="2.2"/>
<circle cx="458.9" cy="648.2" r="2.2"/>
<circle cx="460.5" cy="646.1" r="2.2"/>
<circle cx="462.1" cy="643.9" r="2.2"/>
<circle cx="463.7" cy="641.7" r="2.2"/>
<circle cx="465.3" cy="639.6" r="2.2"/>
<circle cx="466.8" cy="637.8" r="2.2"/>
<circle cx="468.3" cy="636.1" r="2.2"/>
<circle cx="469.9" cy="634.3" r="2.2"/>
<circle cx="471.9" cy="632.6" r="2.2"/>
<circle cx="474" cy="630.8" r="2.2"/>
<circle cx="476.1" cy="628.6" r="2.2"/>
<circle cx="478.1" cy="626.3" r="2.2"/>
<circle cx="480.1" cy="624.5" r="2.2"/>
<circle cx="482" cy="622.8" r="2.2"/>
<circle cx="484" cy="621.1" r="2.2"/>
<circle cx="486.1" cy="619.4" r="2.2"/>
<circle cx="487.7" cy="618.2" r="2.2"/>
<circle cx="489.4" cy="616.9" r="2.2"/>
<circle cx="491.1" cy="615.2" r="2.2"/>
<circle cx="492.8" cy="613.6" r="2.2"/>
<circle cx="494.4" cy="612.1" r="2.2"/>
<circle cx="496.1" cy="610.7" r="2.2"/>
<circle cx="497.8" cy="609.6" r="2.2"/>
<circle cx="499.5" cy="608.4" r="2.2"/>
<circle cx="501" cy="607.1" r="2.2"/>
<circle cx="502.6" cy="605.8" r="2.2"/>
<circle cx="505.5" cy="603.5" r="2.2"/>
<circle cx="508" cy="602.1" r="2.2"/>
<circle cx="510.4" cy="600.5" r="2.2"/>
<circle cx="512.8" cy="598.4" r="2.2"/>
<circle cx="514.9" cy="597.2" r="2.2"/>
<circle cx="517" cy="595.5" r="2.2"/>
<circle cx="518.9" cy="594.5" r="2.2"/>
<circle cx="520.7" cy="593.6" r="2.2"/>
<circle cx="522.2" cy="592.6" r="2.2"/>
<circle cx="523.8" cy="591" r="2.2"/>
<circle cx="525.2" cy="589.8" r="2.2"/>
<circle cx="526.5" cy="589.1" r="2.2"/>
<circle cx="527.7" cy="588.3" r="2.2"/>
<circle cx="528.8" cy="587.6" r="2.2"/>
<circle cx="529.8" cy="587.2" r="2.2"/>
<circle cx="530.6" cy="586.7" r="2.2"/>
<circle cx="531.4" cy="586.2" r="2.2"/>
<circle cx="531.9" cy="585.9" r="2.2"/>
</g>
<g fill="#1f3cf0" stroke="#1a1a1a" stroke-width="0.6">
<rect x="449.6" y="653.5" width="3.7" height="3.7"/>
<rect x="451.5" y="651.5" width="3.7" height="3.7"/>
<rect x="453.3" y="649.6" width="3.7" height="3.7"/>
<rect x="455.2" y="647.6" width="3.7" height="3.7"/>
<rect x="457.1" y="645.7" width="3.7" height="3.7"/>
<rect x="459" y="643.7" width="3.7" height="3.7"/>
<rect x="460.6" y="642" width="3.7" height="3.7"/>
<rect x="462.3" y="640.3" width="3.7" height="3.7"/>
<rect x="463.9" y="638.5" width="3.7" height="3.7"/>
<rect x="465.6" y="636.8" width="3.7" height="3.7"/>
<rect x="467.3" y="635.1" width="3.7" height="3.7"/>
<rect x="468.8" y="633.2" width="3.7" height="3.7"/>
<rect x="470.2" y="631.3" width="3.7" height="3.7"/>
<rect x="471.7" y="629.4" width="3.7" height="3.7"/>
<rect x="473.2" y="627.6" width="3.7" height="3.7"/>
<rect x="474.7" y="625.7" width="3.7" height="3.7"/>
<rect x="477.1" y="623.8" width="3.7" height="3.7"/>
<rect x="479.4" y="622" width="3.7" height="3.7"/>
<rect x="481.7" y="620.2" width="3.7" height="3.7"/>
<rect x="483.4" y="618.5" width="3.7" height="3.7"/>
<rect x="485.1" y="616.7" width="3.7" height="3.7"/>
<rect x="486.8" y="615" width="3.7" height="3.7"/>
<rect x="488.4" y="613.3" width="3.7" height="3.7"/>
<rect x="490.2" y="611.6" width="3.7" height="3.7"/>
<rect x="492" y="609.8" width="3.7" height="3.7"/>
<rect x="493.8" y="608" width="3.7" height="3.7"/>
<rect x="496.3" y="606.7" width="3.7" height="3.7"/>
<rect x="498.7" y="605.4" width="3.7" height="3.7"/>
<rect x="500.6" y="603.7" width="3.7" height="3.7"/>
<rect x="502.5" y="601.9" width="3.7" height="3.7"/>
<rect x="504" y="600.3" width="3.7" height="3.7"/>
<rect x="505.5" y="598.6" width="3.7" height="3.7"/>
<rect x="508" y="595.8" width="3.7" height="3.7"/>
<rect x="510.3" y="592.9" width="3.7" height="3.7"/>
<rect x="512.1" y="590.7" width="3.7" height="3.7"/>
<rect x="513.8" y="589.3" width="3.7" height="3.7"/>
<rect x="515.2" y="588" width="3.7" height="3.7"/>
<rect x="516.5" y="586.3" width="3.7" height="3.7"/>
<rect x="517.8" y="585.3" width="3.7" height="3.7"/>
<rect x="518.8" y="583.9" width="3.7" height="3.7"/>
<rect x="519.8" y="582.9" width="3.7" height="3.7"/>
<rect x="520.5" y="582.3" width="3.7" height="3.7"/>
<rect x="521.4" y="581.5" width="3.7" height="3.7"/>
</g>
<g fill="#f0f02a" stroke="#1a1a1a" stroke-width="0.6">
<path d="M448.2 659.1l2.1 3.7 -4.2 0z"/>
<path d="M449.8 656.9l2.1 3.7 -4.2 0z"/>
<path d="M451.4 654.7l2.1 3.7 -4.2 0z"/>
<path d="M453 652.6l2.1 3.7 -4.2 0z"/>
<path d="M455.2 650.1l2.1 3.7 -4.2 0z"/>
<path d="M457.3 647.7l2.1 3.7 -4.2 0z"/>
<path d="M458.8 645.8l2.1 3.7 -4.2 0z"/>
<path d="M460.3 643.9l2.1 3.7 -4.2 0z"/>
<path d="M461.8 642.1l2.1 3.7 -4.2 0z"/>
<path d="M463.4 640.5l2.1 3.7 -4.2 0z"/>
<path d="M464.9 638.9l2.1 3.7 -4.2 0z"/>
<path d="M466.5 637.5l2.1 3.7 -4.2 0z"/>
<path d="M468 636.2l2.1 3.7 -4.2 0z"/>
<path d="M470.8 634.4l2.1 3.7 -4.2 0z"/>
<path d="M473.2 631.9l2.1 3.7 -4.2 0z"/>
<path d="M475.5 629.7l2.1 3.7 -4.2 0z"/>
<path d="M477.5 628.4l2.1 3.7 -4.2 0z"/>
<path d="M479.4 626.2l2.1 3.7 -4.2 0z"/>
<path d="M481.2 624.1l2.1 3.7 -4.2 0z"/>
<path d="M483 622.2l2.1 3.7 -4.2 0z"/>
<path d="M484.6 620.4l2.1 3.7 -4.2 0z"/>
<path d="M486.2 619.2l2.1 3.7 -4.2 0z"/>
<path d="M487.7 617.3l2.1 3.7 -4.2 0z"/>
<path d="M489.3 617l2.1 3.7 -4.2 0z"/>
<path d="M490.8 615.7l2.1 3.7 -4.2 0z"/>
<path d="M491.7 615.1l2.1 3.7 -4.2 0z"/>
<path d="M492.9 614l2.1 3.7 -4.2 0z"/>
<path d="M494.2 613l2.1 3.7 -4.2 0z"/>
<path d="M495.1 612.1l2.1 3.7 -4.2 0z"/>
<path d="M495.9 611.3l2.1 3.7 -4.2 0z"/>
<path d="M496.5 610.6l2.1 3.7 -4.2 0z"/>
<path d="M497 610.2l2.1 3.7 -4.2 0z"/>
<path d="M497.5 609.7l2.1 3.7 -4.2 0z"/>
<path d="M498.2 609.2l2.1 3.7 -4.2 0z"/>
</g>
<g fill="#7ef0c8" stroke="#1a1a1a" stroke-width="0.6">
<circle cx="448.9" cy="658.9" r="2.2"/>
<circle cx="450.4" cy="656.9" r="2.2"/>
<circle cx="451.8" cy="654.8" r="2.2"/>
<circle cx="453.3" cy="652.8" r="2.2"/>
<circle cx="455.3" cy="650.4" r="2.2"/>
<circle cx="457.4" cy="647.9" r="2.2"/>
<circle cx="458.8" cy="646.1" r="2.2"/>
<circle cx="460.2" cy="644.3" r="2.2"/>
<circle cx="461.6" cy="642.4" r="2.2"/>
<circle cx="463.2" cy="640.3" r="2.2"/>
<circle cx="464.8" cy="638.1" r="2.2"/>
<circle cx="466.1" cy="636.5" r="2.2"/>
<circle cx="467.3" cy="634.8" r="2.2"/>
<circle cx="469.5" cy="632.1" r="2.2"/>
<circle cx="471.4" cy="629.8" r="2.2"/>
<circle cx="473.1" cy="628.2" r="2.2"/>
<circle cx="474.6" cy="626.8" r="2.2"/>
<circle cx="475.9" cy="625.1" r="2.2"/>
<circle cx="477.1" cy="623.7" r="2.2"/>
<circle cx="478" cy="622.3" r="2.2"/>
<circle cx="478.9" cy="621.2" r="2.2"/>
<circle cx="479.7" cy="620.2" r="2.2"/>
<circle cx="480.5" cy="619.4" r="2.2"/>
<circle cx="481.2" cy="618.5" r="2.2"/>
</g>
<g fill="#e00808" stroke="#1a1a1a" stroke-width="0.6">
<path d="M442 664h5.3l-2.6 4.5z"/>
<path d="M444.1 661.1h5.3l-2.6 4.5z"/>
<path d="M446 658.7h5.3l-2.6 4.5z"/>
<path d="M448 656.6h5.3l-2.6 4.5z"/>
<path d="M449.5 655.1h5.3l-2.6 4.5z"/>
<path d="M450.7 653.8h5.3l-2.6 4.5z"/>
<path d="M451.7 652.7h5.3l-2.6 4.5z"/>
<path d="M452.5 652h5.3l-2.6 4.5z"/>
<path d="M453.2 651.5h5.3l-2.6 4.5z"/>
<path d="M453.9 651.1h5.3l-2.6 4.5z"/>
<path d="M454.5 650.6h5.3l-2.6 4.5z"/>
<path d="M455.2 650.1h5.3l-2.6 4.5z"/>
<path d="M455.7 649.6h5.3l-2.6 4.5z"/>
<path d="M456.2 649.3h5.3l-2.6 4.5z"/>
<path d="M456.7 649h5.3l-2.6 4.5z"/>
<path d="M457 648.7h5.3l-2.6 4.5z"/>
</g>
<g fill="#d4d4d4" stroke="#555" stroke-width="0.45">
<rect x="107.2" y="849.5" width="1.5" height="6.9"/>
<rect x="108.7" y="851.6" width="1.5" height="6.9"/>
<rect x="110.2" y="853.6" width="1.5" height="6.9"/>
<rect x="111.6" y="855.4" width="1.5" height="6.9"/>
<rect x="113.1" y="857.1" width="1.5" height="6.9"/>
<rect x="114.6" y="858.7" width="1.5" height="6.9"/>
<rect x="116.1" y="860.1" width="1.5" height="6.9"/>
<rect x="117.6" y="861.5" width="1.5" height="6.9"/>
<rect x="119.1" y="862.8" width="1.5" height="6.9"/>
<rect x="120.6" y="864.1" width="1.5" height="6.9"/>
<rect x="122.1" y="865.2" width="1.5" height="6.9"/>
<rect x="123.6" y="866.3" width="1.5" height="6.9"/>
<rect x="125.1" y="867.4" width="1.5" height="6.9"/>
<rect x="126.6" y="868.4" width="1.5" height="6.9"/>
<rect x="128.1" y="869.4" width="1.5" height="6.9"/>
<rect x="129.6" y="870.3" width="1.5" height="6.9"/>
<rect x="131.1" y="871.2" width="1.5" height="6.9"/>
<rect x="132.6" y="872" width="1.5" height="6.9"/>
<rect x="134.1" y="872.8" width="1.5" height="6.9"/>
<rect x="135.6" y="873.6" width="1.5" height="6.9"/>
<rect x="137" y="874.3" width="1.5" height="6.9"/>
<rect x="138.5" y="875.1" width="1.5" height="6.9"/>
<rect x="140" y="875.8" width="1.5" height="6.9"/>
<rect x="141.5" y="876.4" width="1.5" height="6.9"/>
<rect x="143" y="877.1" width="1.5" height="6.9"/>
<rect x="144.5" y="877.7" width="1.5" height="6.9"/>
<rect x="146" y="878.3" width="1.5" height="6.9"/>
<rect x="147.5" y="878.9" width="1.5" height="6.9"/>
<rect x="149" y="879.5" width="1.5" height="6.9"/>
<rect x="150.5" y="880" width="1.5" height="6.9"/>
<rect x="152" y="880.6" width="1.5" height="6.9"/>
<rect x="153.5" y="881.1" width="1.5" height="6.9"/>
<rect x="155" y="881.6" width="1.5" height="6.9"/>
<rect x="156.5" y="882.1" width="1.5" height="6.9"/>
<rect x="158" y="882.6" width="1.5" height="6.9"/>
<rect x="159.5" y="883" width="1.5" height="6.9"/>
<rect x="161" y="883.5" width="1.5" height="6.9"/>
<rect x="162.4" y="883.9" width="1.5" height="6.9"/>
<rect x="163.9" y="884.4" width="1.5" height="6.9"/>
<rect x="165.4" y="884.8" width="1.5" height="6.9"/>
<rect x="166.9" y="885.2" width="1.5" height="6.9"/>
<rect x="168.4" y="885.6" width="1.5" height="6.9"/>
<rect x="169.9" y="886" width="1.5" height="6.9"/>
<rect x="171.4" y="886.4" width="1.5" height="6.9"/>
<rect x="172.9" y="886.8" width="1.5" height="6.9"/>
<rect x="174.4" y="887.1" width="1.5" height="6.9"/>
<rect x="175.9" y="887.5" width="1.5" height="6.9"/>
<rect x="177.4" y="887.8" width="1.5" height="6.9"/>
<rect x="178.9" y="888.2" width="1.5" height="6.9"/>
<rect x="180.4" y="888.5" width="1.5" height="6.9"/>
<rect x="181.9" y="888.8" width="1.5" height="6.9"/>
<rect x="183.4" y="889.2" width="1.5" height="6.9"/>
<rect x="184.9" y="889.5" width="1.5" height="6.9"/>
<rect x="186.4" y="889.8" width="1.5" height="6.9"/>
<rect x="187.9" y="890.1" width="1.5" height="6.9"/>
<rect x="189.3" y="890.4" width="1.5" height="6.9"/>
<rect x="190.8" y="890.7" width="1.5" height="6.9"/>
<rect x="192.3" y="891" width="1.5" height="6.9"/>
<rect x="193.8" y="891.3" width="1.5" height="6.9"/>
<rect x="195.3" y="891.6" width="1.5" height="6.9"/>
<rect x="196.8" y="891.8" width="1.5" height="6.9"/>
<rect x="198.3" y="892.1" width="1.5" height="6.9"/>
<rect x="199.8" y="892.4" width="1.5" height="6.9"/>
<rect x="201.3" y="892.6" width="1.5" height="6.9"/>
<rect x="202.8" y="892.9" width="1.5" height="6.9"/>
<rect x="204.3" y="893.1" width="1.5" height="6.9"/>
<rect x="205.8" y="893.4" width="1.5" height="6.9"/>
<rect x="207.3" y="893.6" width="1.5" height="6.9"/>
<rect x="208.8" y="893.9" width="1.5" height="6.9"/>
<rect x="210.3" y="894.1" width="1.5" height="6.9"/>
<rect x="211.8" y="894.3" width="1.5" height="6.9"/>
<rect x="213.3" y="894.6" width="1.5" height="6.9"/>
<rect x="214.7" y="894.8" width="1.5" height="6.9"/>
<rect x="216.2" y="895" width="1.5" height="6.9"/>
<rect x="217.7" y="895.2" width="1.5" height="6.9"/>
<rect x="219.2" y="895.4" width="1.5" height="6.9"/>
<rect x="220.7" y="895.7" width="1.5" height="6.9"/>
<rect x="222.2" y="895.9" width="1.5" height="6.9"/>
<rect x="223.7" y="896.1" width="1.5" height="6.9"/>
<rect x="225.2" y="896.3" width="1.5" height="6.9"/>
<rect x="226.7" y="896.5" width="1.5" height="6.9"/>
<rect x="228.2" y="896.7" width="1.5" height="6.9"/>
<rect x="229.7" y="896.9" width="1.5" height="6.9"/>
<rect x="231.2" y="897.1" width="1.5" height="6.9"/>
<rect x="232.7" y="897.3" width="1.5" height="6.9"/>
<rect x="234.2" y="897.4" width="1.5" height="6.9"/>
<rect x="235.7" y="897.6" width="1.5" height="6.9"/>
<rect x="237.2" y="897.8" width="1.5" height="6.9"/>
<rect x="238.7" y="898" width="1.5" height="6.9"/>
<rect x="240.1" y="898.2" width="1.5" height="6.9"/>
<rect x="241.6" y="898.3" width="1.5" height="6.9"/>
<rect x="243.1" y="898.5" width="1.5" height="6.9"/>
<rect x="244.6" y="898.7" width="1.5" height="6.9"/>
<rect x="246.1" y="898.9" width="1.5" height="6.9"/>
<rect x="247.6" y="899" width="1.5" height="6.9"/>
<rect x="249.1" y="899.2" width="1.5" height="6.9"/>
<rect x="250.6" y="899.4" width="1.5" height="6.9"/>
<rect x="252.1" y="899.5" width="1.5" height="6.9"/>
<rect x="253.6" y="899.7" width="1.5" height="6.9"/>
<rect x="255.1" y="899.8" width="1.5" height="6.9"/>
<rect x="256.6" y="900" width="1.5" height="6.9"/>
<rect x="258.1" y="900.1" width="1.5" height="6.9"/>
<rect x="259.6" y="900.3" width="1.5" height="6.9"/>
<rect x="261.1" y="900.5" width="1.5" height="6.9"/>
<rect x="262.6" y="900.6" width="1.5" height="6.9"/>
<rect x="264.1" y="900.7" width="1.5" height="6.9"/>
<rect x="265.5" y="900.9" width="1.5" height="6.9"/>
<rect x="267" y="901" width="1.5" height="6.9"/>
<rect x="268.5" y="901.2" width="1.5" height="6.9"/>
<rect x="270" y="901.3" width="1.5" height="6.9"/>
<rect x="271.5" y="901.5" width="1.5" height="6.9"/>
<rect x="273" y="901.6" width="1.5" height="6.9"/>
<rect x="274.5" y="901.7" width="1.5" height="6.9"/>
<rect x="276" y="901.9" width="1.5" height="6.9"/>
<rect x="277.5" y="902" width="1.5" height="6.9"/>
<rect x="279" y="902.1" width="1.5" height="6.9"/>
<rect x="280.5" y="902.3" width="1.5" height="6.9"/>
<rect x="282" y="902.4" width="1.5" height="6.9"/>
<rect x="283.5" y="902.5" width="1.5" height="6.9"/>
<rect x="285" y="902.7" width="1.5" height="6.9"/>
<rect x="286.5" y="902.8" width="1.5" height="6.9"/>
<rect x="288" y="902.9" width="1.5" height="6.9"/>
<rect x="289.5" y="903" width="1.5" height="6.9"/>
<rect x="291" y="903.2" width="1.5" height="6.9"/>
<rect x="292.4" y="903.3" width="1.5" height="6.9"/>
<rect x="293.9" y="903.4" width="1.5" height="6.9"/>
<rect x="295.4" y="903.5" width="1.5" height="6.9"/>
<rect x="296.9" y="903.6" width="1.5" height="6.9"/>
<rect x="298.4" y="903.8" width="1.5" height="6.9"/>
<rect x="299.9" y="903.9" width="1.5" height="6.9"/>
<rect x="301.4" y="904" width="1.5" height="6.9"/>
<rect x="302.9" y="904.1" width="1.5" height="6.9"/>
<rect x="304.4" y="904.2" width="1.5" height="6.9"/>
<rect x="305.9" y="904.3" width="1.5" height="6.9"/>
<rect x="307.4" y="904.4" width="1.5" height="6.9"/>
<rect x="308.9" y="904.6" width="1.5" height="6.9"/>
<rect x="310.4" y="904.7" width="1.5" height="6.9"/>
<rect x="311.9" y="904.8" width="1.5" height="6.9"/>
<rect x="313.4" y="904.9" width="1.5" height="6.9"/>
<rect x="314.9" y="905" width="1.5" height="6.9"/>
<rect x="316.4" y="905.1" width="1.5" height="6.9"/>
<rect x="317.8" y="905.2" width="1.5" height="6.9"/>
<rect x="319.3" y="905.3" width="1.5" height="6.9"/>
<rect x="320.8" y="905.4" width="1.5" height="6.9"/>
<rect x="322.3" y="905.5" width="1.5" height="6.9"/>
<rect x="323.8" y="905.6" width="1.5" height="6.9"/>
<rect x="325.3" y="905.7" width="1.5" height="6.9"/>
<rect x="326.8" y="905.8" width="1.5" height="6.9"/>
<rect x="328.3" y="905.9" width="1.5" height="6.9"/>
<rect x="329.8" y="906" width="1.5" height="6.9"/>
<rect x="331.3" y="906.1" width="1.5" height="6.9"/>
<rect x="332.8" y="906.2" width="1.5" height="6.9"/>
<rect x="334.3" y="906.3" width="1.5" height="6.9"/>
<rect x="335.8" y="906.4" width="1.5" height="6.9"/>
<rect x="337.3" y="906.5" width="1.5" height="6.9"/>
<rect x="338.8" y="906.6" width="1.5" height="6.9"/>
<rect x="340.3" y="906.7" width="1.5" height="6.9"/>
<rect x="341.8" y="906.8" width="1.5" height="6.9"/>
<rect x="343.2" y="906.9" width="1.5" height="6.9"/>
<rect x="344.7" y="906.9" width="1.5" height="6.9"/>
<rect x="346.2" y="907" width="1.5" height="6.9"/>
<rect x="347.7" y="907.1" width="1.5" height="6.9"/>
<rect x="349.2" y="907.2" width="1.5" height="6.9"/>
</g>
<g fill="#c81212" stroke="#5a0000" stroke-width="0.5">
<circle cx="107.9" cy="856.4" r="2.3"/>
<circle cx="109.4" cy="858.5" r="2.3"/>
<circle cx="110.9" cy="860.5" r="2.3"/>
<circle cx="112.4" cy="862.3" r="2.3"/>
<circle cx="113.9" cy="864" r="2.3"/>
<circle cx="115.4" cy="865.6" r="2.3"/>
<circle cx="116.9" cy="867" r="2.3"/>
<circle cx="118.4" cy="868.4" r="2.3"/>
<circle cx="119.9" cy="869.7" r="2.3"/>
<circle cx="121.4" cy="871" r="2.3"/>
<circle cx="122.9" cy="872.1" r="2.3"/>
<circle cx="124.3" cy="873.2" r="2.3"/>
<circle cx="125.8" cy="874.3" r="2.3"/>
<circle cx="127.3" cy="875.3" r="2.3"/>
<circle cx="128.8" cy="876.3" r="2.3"/>
<circle cx="130.3" cy="877.2" r="2.3"/>
<circle cx="131.8" cy="878.1" r="2.3"/>
<circle cx="133.3" cy="878.9" r="2.3"/>
<circle cx="134.8" cy="879.7" r="2.3"/>
<circle cx="136.3" cy="880.5" r="2.3"/>
<circle cx="137.8" cy="881.2" r="2.3"/>
<circle cx="139.3" cy="882" r="2.3"/>
<circle cx="140.8" cy="882.7" r="2.3"/>
<circle cx="142.3" cy="883.3" r="2.3"/>
<circle cx="143.8" cy="884" r="2.3"/>
<circle cx="145.3" cy="884.6" r="2.3"/>
<circle cx="146.8" cy="885.2" r="2.3"/>
<circle cx="148.3" cy="885.8" r="2.3"/>
<circle cx="149.8" cy="886.4" r="2.3"/>
<circle cx="151.2" cy="886.9" r="2.3"/>
<circle cx="152.7" cy="887.5" r="2.3"/>
<circle cx="154.2" cy="888" r="2.3"/>
<circle cx="155.7" cy="888.5" r="2.3"/>
<circle cx="157.2" cy="889" r="2.3"/>
<circle cx="158.7" cy="889.5" r="2.3"/>
<circle cx="160.2" cy="889.9" r="2.3"/>
<circle cx="161.7" cy="890.4" r="2.3"/>
<circle cx="163.2" cy="890.8" r="2.3"/>
<circle cx="164.7" cy="891.3" r="2.3"/>
<circle cx="166.2" cy="891.7" r="2.3"/>
<circle cx="167.7" cy="892.1" r="2.3"/>
<circle cx="169.2" cy="892.5" r="2.3"/>
<circle cx="170.7" cy="892.9" r="2.3"/>
<circle cx="172.2" cy="893.3" r="2.3"/>
<circle cx="173.7" cy="893.7" r="2.3"/>
<circle cx="175.2" cy="894" r="2.3"/>
<circle cx="176.6" cy="894.4" r="2.3"/>
<circle cx="178.1" cy="894.7" r="2.3"/>
<circle cx="179.6" cy="895.1" r="2.3"/>
<circle cx="181.1" cy="895.4" r="2.3"/>
<circle cx="182.6" cy="895.7" r="2.3"/>
<circle cx="184.1" cy="896.1" r="2.3"/>
<circle cx="185.6" cy="896.4" r="2.3"/>
<circle cx="187.1" cy="896.7" r="2.3"/>
<circle cx="188.6" cy="897" r="2.3"/>
<circle cx="190.1" cy="897.3" r="2.3"/>
<circle cx="191.6" cy="897.6" r="2.3"/>
<circle cx="193.1" cy="897.9" r="2.3"/>
<circle cx="194.6" cy="898.2" r="2.3"/>
<circle cx="196.1" cy="898.5" r="2.3"/>
<circle cx="197.6" cy="898.7" r="2.3"/>
<circle cx="199.1" cy="899" r="2.3"/>
<circle cx="200.6" cy="899.3" r="2.3"/>
<circle cx="202" cy="899.5" r="2.3"/>
<circle cx="203.5" cy="899.8" r="2.3"/>
<circle cx="205" cy="900" r="2.3"/>
<circle cx="206.5" cy="900.3" r="2.3"/>
<circle cx="208" cy="900.5" r="2.3"/>
<circle cx="209.5" cy="900.8" r="2.3"/>
<circle cx="211" cy="901" r="2.3"/>
<circle cx="212.5" cy="901.2" r="2.3"/>
<circle cx="214" cy="901.5" r="2.3"/>
<circle cx="215.5" cy="901.7" r="2.3"/>
<circle cx="217" cy="901.9" r="2.3"/>
<circle cx="218.5" cy="902.1" r="2.3"/>
<circle cx="220" cy="902.3" r="2.3"/>
<circle cx="221.5" cy="902.6" r="2.3"/>
<circle cx="223" cy="902.8" r="2.3"/>
<circle cx="224.5" cy="903" r="2.3"/>
<circle cx="226" cy="903.2" r="2.3"/>
<circle cx="227.4" cy="903.4" r="2.3"/>
<circle cx="228.9" cy="903.6" r="2.3"/>
<circle cx="230.4" cy="903.8" r="2.3"/>
<circle cx="231.9" cy="904" r="2.3"/>
<circle cx="233.4" cy="904.2" r="2.3"/>
<circle cx="234.9" cy="904.3" r="2.3"/>
<circle cx="236.4" cy="904.5" r="2.3"/>
<circle cx="237.9" cy="904.7" r="2.3"/>
<circle cx="239.4" cy="904.9" r="2.3"/>
<circle cx="240.9" cy="905.1" r="2.3"/>
<circle cx="242.4" cy="905.2" r="2.3"/>
<circle cx="243.9" cy="905.4" r="2.3"/>
<circle cx="245.4" cy="905.6" r="2.3"/>
<circle cx="246.9" cy="905.8" r="2.3"/>
<circle cx="248.4" cy="905.9" r="2.3"/>
<circle cx="249.9" cy="906.1" r="2.3"/>
<circle cx="251.4" cy="906.3" r="2.3"/>
<circle cx="252.9" cy="906.4" r="2.3"/>
<circle cx="254.3" cy="906.6" r="2.3"/>
<circle cx="255.8" cy="906.7" r="2.3"/>
<circle cx="257.3" cy="906.9" r="2.3"/>
<circle cx="258.8" cy="907" r="2.3"/>
<circle cx="260.3" cy="907.2" r="2.3"/>
<circle cx="261.8" cy="907.4" r="2.3"/>
<circle cx="263.3" cy="907.5" r="2.3"/>
<circle cx="264.8" cy="907.6" r="2.3"/>
<circle cx="266.3" cy="907.8" r="2.3"/>
<circle cx="267.8" cy="907.9" r="2.3"/>
<circle cx="269.3" cy="908.1" r="2.3"/>
<circle cx="270.8" cy="908.2" r="2.3"/>
<circle cx="272.3" cy="908.4" r="2.3"/>
<circle cx="273.8" cy="908.5" r="2.3"/>
<circle cx="275.3" cy="908.6" r="2.3"/>
<circle cx="276.8" cy="908.8" r="2.3"/>
<circle cx="278.3" cy="908.9" r="2.3"/>
<circle cx="279.7" cy="909" r="2.3"/>
<circle cx="281.2" cy="909.2" r="2.3"/>
<circle cx="282.7" cy="909.3" r="2.3"/>
<circle cx="284.2" cy="909.4" r="2.3"/>
<circle cx="285.7" cy="909.6" r="2.3"/>
<circle cx="287.2" cy="909.7" r="2.3"/>
<circle cx="288.7" cy="909.8" r="2.3"/>
<circle cx="290.2" cy="909.9" r="2.3"/>
<circle cx="291.7" cy="910.1" r="2.3"/>
<circle cx="293.2" cy="910.2" r="2.3"/>
<circle cx="294.7" cy="910.3" r="2.3"/>
<circle cx="296.2" cy="910.4" r="2.3"/>
<circle cx="297.7" cy="910.5" r="2.3"/>
<circle cx="299.2" cy="910.7" r="2.3"/>
<circle cx="300.7" cy="910.8" r="2.3"/>
<circle cx="302.2" cy="910.9" r="2.3"/>
<circle cx="303.7" cy="911" r="2.3"/>
<circle cx="305.1" cy="911.1" r="2.3"/>
<circle cx="306.6" cy="911.2" r="2.3"/>
<circle cx="308.1" cy="911.3" r="2.3"/>
<circle cx="309.6" cy="911.5" r="2.3"/>
<circle cx="311.1" cy="911.6" r="2.3"/>
<circle cx="312.6" cy="911.7" r="2.3"/>
<circle cx="314.1" cy="911.8" r="2.3"/>
<circle cx="315.6" cy="911.9" r="2.3"/>
<circle cx="317.1" cy="912" r="2.3"/>
<circle cx="318.6" cy="912.1" r="2.3"/>
<circle cx="320.1" cy="912.2" r="2.3"/>
<circle cx="321.6" cy="912.3" r="2.3"/>
<circle cx="323.1" cy="912.4" r="2.3"/>
<circle cx="324.6" cy="912.5" r="2.3"/>
<circle cx="326.1" cy="912.6" r="2.3"/>
<circle cx="327.6" cy="912.7" r="2.3"/>
<circle cx="329.1" cy="912.8" r="2.3"/>
<circle cx="330.6" cy="912.9" r="2.3"/>
<circle cx="332" cy="913" r="2.3"/>
<circle cx="333.5" cy="913.1" r="2.3"/>
<circle cx="335" cy="913.2" r="2.3"/>
<circle cx="336.5" cy="913.3" r="2.3"/>
<circle cx="338" cy="913.4" r="2.3"/>
<circle cx="339.5" cy="913.5" r="2.3"/>
<circle cx="341" cy="913.6" r="2.3"/>
<circle cx="342.5" cy="913.7" r="2.3"/>
<circle cx="344" cy="913.8" r="2.3"/>
<circle cx="345.5" cy="913.8" r="2.3"/>
<circle cx="347" cy="913.9" r="2.3"/>
<circle cx="348.5" cy="914" r="2.3"/>
<circle cx="350" cy="914.1" r="2.3"/>
</g>
<g fill="#d4d4d4" stroke="#555" stroke-width="0.45">
<rect x="107.2" y="863.4" width="1.5" height="6.3"/>
<rect x="108.7" y="865.9" width="1.5" height="6.3"/>
<rect x="110.2" y="868.3" width="1.5" height="6.3"/>
<rect x="111.6" y="870.4" width="1.5" height="6.3"/>
<rect x="113.1" y="872.4" width="1.5" height="6.3"/>
<rect x="114.6" y="874.2" width="1.5" height="6.3"/>
<rect x="116.1" y="875.9" width="1.5" height="6.3"/>
<rect x="117.6" y="877.5" width="1.5" height="6.3"/>
<rect x="119.1" y="879" width="1.5" height="6.3"/>
<rect x="120.6" y="880.5" width="1.5" height="6.3"/>
<rect x="122.1" y="881.8" width="1.5" height="6.3"/>
<rect x="123.6" y="883.1" width="1.5" height="6.3"/>
<rect x="125.1" y="884.3" width="1.5" height="6.3"/>
<rect x="126.6" y="885.4" width="1.5" height="6.3"/>
<rect x="128.1" y="886.5" width="1.5" height="6.3"/>
<rect x="129.6" y="887.5" width="1.5" height="6.3"/>
<rect x="131.1" y="888.5" width="1.5" height="6.3"/>
<rect x="132.6" y="889.4" width="1.5" height="6.3"/>
<rect x="134.1" y="890.3" width="1.5" height="6.3"/>
<rect x="135.6" y="891.2" width="1.5" height="6.3"/>
<rect x="137" y="892" width="1.5" height="6.3"/>
<rect x="138.5" y="892.8" width="1.5" height="6.3"/>
<rect x="140" y="893.5" width="1.5" height="6.3"/>
<rect x="141.5" y="894.3" width="1.5" height="6.3"/>
<rect x="143" y="895" width="1.5" height="6.3"/>
<rect x="144.5" y="895.6" width="1.5" height="6.3"/>
<rect x="146" y="896.3" width="1.5" height="6.3"/>
<rect x="147.5" y="896.9" width="1.5" height="6.3"/>
<rect x="149" y="897.5" width="1.5" height="6.3"/>
<rect x="150.5" y="898.1" width="1.5" height="6.3"/>
<rect x="152" y="898.7" width="1.5" height="6.3"/>
<rect x="153.5" y="899.3" width="1.5" height="6.3"/>
<rect x="155" y="899.8" width="1.5" height="6.3"/>
<rect x="156.5" y="900.3" width="1.5" height="6.3"/>
<rect x="158" y="900.8" width="1.5" height="6.3"/>
<rect x="159.5" y="901.3" width="1.5" height="6.3"/>
<rect x="161" y="901.8" width="1.5" height="6.3"/>
<rect x="162.4" y="902.3" width="1.5" height="6.3"/>
<rect x="163.9" y="902.7" width="1.5" height="6.3"/>
<rect x="165.4" y="903.2" width="1.5" height="6.3"/>
<rect x="166.9" y="903.6" width="1.5" height="6.3"/>
<rect x="168.4" y="904" width="1.5" height="6.3"/>
<rect x="169.9" y="904.4" width="1.5" height="6.3"/>
<rect x="171.4" y="904.8" width="1.5" height="6.3"/>
<rect x="172.9" y="905.2" width="1.5" height="6.3"/>
<rect x="174.4" y="905.6" width="1.5" height="6.3"/>
<rect x="175.9" y="906" width="1.5" height="6.3"/>
<rect x="177.4" y="906.4" width="1.5" height="6.3"/>
<rect x="178.9" y="906.7" width="1.5" height="6.3"/>
<rect x="180.4" y="907.1" width="1.5" height="6.3"/>
<rect x="181.9" y="907.4" width="1.5" height="6.3"/>
<rect x="183.4" y="907.7" width="1.5" height="6.3"/>
<rect x="184.9" y="908.1" width="1.5" height="6.3"/>
<rect x="186.4" y="908.4" width="1.5" height="6.3"/>
<rect x="187.9" y="908.7" width="1.5" height="6.3"/>
<rect x="189.3" y="909" width="1.5" height="6.3"/>
<rect x="190.8" y="909.3" width="1.5" height="6.3"/>
<rect x="192.3" y="909.6" width="1.5" height="6.3"/>
<rect x="193.8" y="909.9" width="1.5" height="6.3"/>
<rect x="195.3" y="910.2" width="1.5" height="6.3"/>
<rect x="196.8" y="910.4" width="1.5" height="6.3"/>
<rect x="198.3" y="910.7" width="1.5" height="6.3"/>
<rect x="199.8" y="911" width="1.5" height="6.3"/>
<rect x="201.3" y="911.2" width="1.5" height="6.3"/>
<rect x="202.8" y="911.5" width="1.5" height="6.3"/>
<rect x="204.3" y="911.7" width="1.5" height="6.3"/>
<rect x="205.8" y="912" width="1.5" height="6.3"/>
<rect x="207.3" y="912.2" width="1.5" height="6.3"/>
<rect x="208.8" y="912.5" width="1.5" height="6.3"/>
<rect x="210.3" y="912.7" width="1.5" height="6.3"/>
<rect x="211.8" y="912.9" width="1.5" height="6.3"/>
<rect x="213.3" y="913.2" width="1.5" height="6.3"/>
<rect x="214.7" y="913.4" width="1.5" height="6.3"/>
<rect x="216.2" y="913.6" width="1.5" height="6.3"/>
<rect x="217.7" y="913.8" width="1.5" height="6.3"/>
<rect x="219.2" y="914.1" width="1.5" height="6.3"/>
<rect x="220.7" y="914.3" width="1.5" height="6.3"/>
<rect x="222.2" y="914.5" width="1.5" height="6.3"/>
<rect x="223.7" y="914.7" width="1.5" height="6.3"/>
<rect x="225.2" y="914.9" width="1.5" height="6.3"/>
<rect x="226.7" y="915.1" width="1.5" height="6.3"/>
<rect x="228.2" y="915.3" width="1.5" height="6.3"/>
<rect x="229.7" y="915.5" width="1.5" height="6.3"/>
<rect x="231.2" y="915.7" width="1.5" height="6.3"/>
<rect x="232.7" y="915.8" width="1.5" height="6.3"/>
<rect x="234.2" y="916" width="1.5" height="6.3"/>
<rect x="235.7" y="916.2" width="1.5" height="6.3"/>
<rect x="237.2" y="916.4" width="1.5" height="6.3"/>
<rect x="238.7" y="916.6" width="1.5" height="6.3"/>
<rect x="240.1" y="916.7" width="1.5" height="6.3"/>
<rect x="241.6" y="916.9" width="1.5" height="6.3"/>
<rect x="243.1" y="917.1" width="1.5" height="6.3"/>
<rect x="244.6" y="917.2" width="1.5" height="6.3"/>
<rect x="246.1" y="917.4" width="1.5" height="6.3"/>
<rect x="247.6" y="917.6" width="1.5" height="6.3"/>
<rect x="249.1" y="917.7" width="1.5" height="6.3"/>
<rect x="250.6" y="917.9" width="1.5" height="6.3"/>
<rect x="252.1" y="918.1" width="1.5" height="6.3"/>
<rect x="253.6" y="918.2" width="1.5" height="6.3"/>
<rect x="255.1" y="918.4" width="1.5" height="6.3"/>
<rect x="256.6" y="918.5" width="1.5" height="6.3"/>
<rect x="258.1" y="918.7" width="1.5" height="6.3"/>
<rect x="259.6" y="918.8" width="1.5" height="6.3"/>
<rect x="261.1" y="919" width="1.5" height="6.3"/>
<rect x="262.6" y="919.1" width="1.5" height="6.3"/>
<rect x="264.1" y="919.2" width="1.5" height="6.3"/>
<rect x="265.5" y="919.4" width="1.5" height="6.3"/>
<rect x="267" y="919.5" width="1.5" height="6.3"/>
<rect x="268.5" y="919.7" width="1.5" height="6.3"/>
<rect x="270" y="919.8" width="1.5" height="6.3"/>
<rect x="271.5" y="919.9" width="1.5" height="6.3"/>
<rect x="273" y="920.1" width="1.5" height="6.3"/>
<rect x="274.5" y="920.2" width="1.5" height="6.3"/>
<rect x="276" y="920.3" width="1.5" height="6.3"/>
<rect x="277.5" y="920.5" width="1.5" height="6.3"/>
<rect x="279" y="920.6" width="1.5" height="6.3"/>
<rect x="280.5" y="920.7" width="1.5" height="6.3"/>
<rect x="282" y="920.8" width="1.5" height="6.3"/>
<rect x="283.5" y="921" width="1.5" height="6.3"/>
<rect x="285" y="921.1" width="1.5" height="6.3"/>
<rect x="286.5" y="921.2" width="1.5" height="6.3"/>
<rect x="288" y="921.3" width="1.5" height="6.3"/>
<rect x="289.5" y="921.4" width="1.5" height="6.3"/>
<rect x="291" y="921.5" width="1.5" height="6.3"/>
<rect x="292.4" y="921.7" width="1.5" height="6.3"/>
<rect x="293.9" y="921.8" width="1.5" height="6.3"/>
<rect x="295.4" y="921.9" width="1.5" height="6.3"/>
<rect x="296.9" y="922" width="1.5" height="6.3"/>
<rect x="298.4" y="922.1" width="1.5" height="6.3"/>
<rect x="299.9" y="922.2" width="1.5" height="6.3"/>
<rect x="301.4" y="922.3" width="1.5" height="6.3"/>
<rect x="302.9" y="922.4" width="1.5" height="6.3"/>
<rect x="304.4" y="922.5" width="1.5" height="6.3"/>
<rect x="305.9" y="922.7" width="1.5" height="6.3"/>
<rect x="307.4" y="922.8" width="1.5" height="6.3"/>
<rect x="308.9" y="922.9" width="1.5" height="6.3"/>
<rect x="310.4" y="923" width="1.5" height="6.3"/>
<rect x="311.9" y="923.1" width="1.5" height="6.3"/>
<rect x="313.4" y="923.2" width="1.5" height="6.3"/>
<rect x="314.9" y="923.3" width="1.5" height="6.3"/>
<rect x="316.4" y="923.4" width="1.5" height="6.3"/>
<rect x="317.8" y="923.5" width="1.5" height="6.3"/>
<rect x="319.3" y="923.6" width="1.5" height="6.3"/>
<rect x="320.8" y="923.7" width="1.5" height="6.3"/>
<rect x="322.3" y="923.8" width="1.5" height="6.3"/>
<rect x="323.8" y="923.8" width="1.5" height="6.3"/>
<rect x="325.3" y="923.9" width="1.5" height="6.3"/>
<rect x="326.8" y="924" width="1.5" height="6.3"/>
<rect x="328.3" y="924.1" width="1.5" height="6.3"/>
<rect x="329.8" y="924.2" width="1.5" height="6.3"/>
<rect x="331.3" y="924.3" width="1.5" height="6.3"/>
<rect x="332.8" y="924.4" width="1.5" height="6.3"/>
<rect x="334.3" y="924.5" width="1.5" height="6.3"/>
<rect x="335.8" y="924.6" width="1.5" height="6.3"/>
<rect x="337.3" y="924.7" width="1.5" height="6.3"/>
<rect x="338.8" y="924.8" width="1.5" height="6.3"/>
<rect x="340.3" y="924.8" width="1.5" height="6.3"/>
<rect x="341.8" y="924.9" width="1.5" height="6.3"/>
<rect x="343.2" y="925" width="1.5" height="6.3"/>
</g>
<g fill="#e0901e" stroke="#7a4500" stroke-width="0.5">
<path d="M107.9 861.3l2.1 2.1 -2.1 2.1 -2.1 -2.1z"/>
<path d="M109.4 863.8l2.1 2.1 -2.1 2.1 -2.1 -2.1z"/>
<path d="M110.9 866.2l2.1 2.1 -2.1 2.1 -2.1 -2.1z"/>
<path d="M112.4 868.3l2.1 2.1 -2.1 2.1 -2.1 -2.1z"/>
<path d="M113.9 870.3l2.1 2.1 -2.1 2.1 -2.1 -2.1z"/>
<path d="M115.4 872.1l2.1 2.1 -2.1 2.1 -2.1 -2.1z"/>
<path d="M116.9 873.8l2.1 2.1 -2.1 2.1 -2.1 -2.1z"/>
<path d="M118.4 875.4l2.1 2.1 -2.1 2.1 -2.1 -2.1z"/>
<path d="M119.9 876.9l2.1 2.1 -2.1 2.1 -2.1 -2.1z"/>
<path d="M121.4 878.4l2.1 2.1 -2.1 2.1 -2.1 -2.1z"/>
<path d="M122.9 879.7l2.1 2.1 -2.1 2.1 -2.1 -2.1z"/>
<path d="M124.3 881l2.1 2.1 -2.1 2.1 -2.1 -2.1z"/>
<path d="M125.8 882.2l2.1 2.1 -2.1 2.1 -2.1 -2.1z"/>
<path d="M127.3 883.3l2.1 2.1 -2.1 2.1 -2.1 -2.1z"/>
<path d="M128.8 884.4l2.1 2.1 -2.1 2.1 -2.1 -2.1z"/>
<path d="M130.3 885.4l2.1 2.1 -2.1 2.1 -2.1 -2.1z"/>
<path d="M131.8 886.4l2.1 2.1 -2.1 2.1 -2.1 -2.1z"/>
<path d="M133.3 887.3l2.1 2.1 -2.1 2.1 -2.1 -2.1z"/>
<path d="M134.8 888.2l2.1 2.1 -2.1 2.1 -2.1 -2.1z"/>
<path d="M136.3 889.1l2.1 2.1 -2.1 2.1 -2.1 -2.1z"/>
<path d="M137.8 889.9l2.1 2.1 -2.1 2.1 -2.1 -2.1z"/>
<path d="M139.3 890.7l2.1 2.1 -2.1 2.1 -2.1 -2.1z"/>
<path d="M140.8 891.4l2.1 2.1 -2.1 2.1 -2.1 -2.1z"/>
<path d="M142.3 892.2l2.1 2.1 -2.1 2.1 -2.1 -2.1z"/>
<path d="M143.8 892.9l2.1 2.1 -2.1 2.1 -2.1 -2.1z"/>
<path d="M145.3 893.5l2.1 2.1 -2.1 2.1 -2.1 -2.1z"/>
<path d="M146.8 894.2l2.1 2.1 -2.1 2.1 -2.1 -2.1z"/>
<path d="M148.3 894.8l2.1 2.1 -2.1 2.1 -2.1 -2.1z"/>
<path d="M149.8 895.4l2.1 2.1 -2.1 2.1 -2.1 -2.1z"/>
<path d="M151.2 896l2.1 2.1 -2.1 2.1 -2.1 -2.1z"/>
<path d="M152.7 896.6l2.1 2.1 -2.1 2.1 -2.1 -2.1z"/>
<path d="M154.2 897.2l2.1 2.1 -2.1 2.1 -2.1 -2.1z"/>
<path d="M155.7 897.7l2.1 2.1 -2.1 2.1 -2.1 -2.1z"/>
<path d="M157.2 898.2l2.1 2.1 -2.1 2.1 -2.1 -2.1z"/>
<path d="M158.7 898.7l2.1 2.1 -2.1 2.1 -2.1 -2.1z"/>
<path d="M160.2 899.2l2.1 2.1 -2.1 2.1 -2.1 -2.1z"/>
<path d="M161.7 899.7l2.1 2.1 -2.1 2.1 -2.1 -2.1z"/>
<path d="M163.2 900.2l2.1 2.1 -2.1 2.1 -2.1 -2.1z"/>
<path d="M164.7 900.6l2.1 2.1 -2.1 2.1 -2.1 -2.1z"/>
<path d="M166.2 901.1l2.1 2.1 -2.1 2.1 -2.1 -2.1z"/>
<path d="M167.7 901.5l2.1 2.1 -2.1 2.1 -2.1 -2.1z"/>
<path d="M169.2 901.9l2.1 2.1 -2.1 2.1 -2.1 -2.1z"/>
<path d="M170.7 902.3l2.1 2.1 -2.1 2.1 -2.1 -2.1z"/>
<path d="M172.2 902.7l2.1 2.1 -2.1 2.1 -2.1 -2.1z"/>
<path d="M173.7 903.1l2.1 2.1 -2.1 2.1 -2.1 -2.1z"/>
<path d="M175.2 903.5l2.1 2.1 -2.1 2.1 -2.1 -2.1z"/>
<path d="M176.6 903.9l2.1 2.1 -2.1 2.1 -2.1 -2.1z"/>
<path d="M178.1 904.3l2.1 2.1 -2.1 2.1 -2.1 -2.1z"/>
<path d="M179.6 904.6l2.1 2.1 -2.1 2.1 -2.1 -2.1z"/>
<path d="M181.1 905l2.1 2.1 -2.1 2.1 -2.1 -2.1z"/>
<path d="M182.6 905.3l2.1 2.1 -2.1 2.1 -2.1 -2.1z"/>
<path d="M184.1 905.6l2.1 2.1 -2.1 2.1 -2.1 -2.1z"/>
<path d="M185.6 906l2.1 2.1 -2.1 2.1 -2.1 -2.1z"/>
<path d="M187.1 906.3l2.1 2.1 -2.1 2.1 -2.1 -2.1z"/>
<path d="M188.6 906.6l2.1 2.1 -2.1 2.1 -2.1 -2.1z"/>
<path d="M190.1 906.9l2.1 2.1 -2.1 2.1 -2.1 -2.1z"/>
<path d="M191.6 907.2l2.1 2.1 -2.1 2.1 -2.1 -2.1z"/>
<path d="M193.1 907.5l2.1 2.1 -2.1 2.1 -2.1 -2.1z"/>
<path d="M194.6 907.8l2.1 2.1 -2.1 2.1 -2.1 -2.1z"/>
<path d="M196.1 908.1l2.1 2.1 -2.1 2.1 -2.1 -2.1z"/>
<path d="M197.6 908.3l2.1 2.1 -2.1 2.1 -2.1 -2.1z"/>
<path d="M199.1 908.6l2.1 2.1 -2.1 2.1 -2.1 -2.1z"/>
<path d="M200.6 908.9l2.1 2.1 -2.1 2.1 -2.1 -2.1z"/>
<path d="M202 909.1l2.1 2.1 -2.1 2.1 -2.1 -2.1z"/>
<path d="M203.5 909.4l2.1 2.1 -2.1 2.1 -2.1 -2.1z"/>
<path d="M205 909.6l2.1 2.1 -2.1 2.1 -2.1 -2.1z"/>
<path d="M206.5 909.9l2.1 2.1 -2.1 2.1 -2.1 -2.1z"/>
<path d="M208 910.1l2.1 2.1 -2.1 2.1 -2.1 -2.1z"/>
<path d="M209.5 910.4l2.1 2.1 -2.1 2.1 -2.1 -2.1z"/>
<path d="M211 910.6l2.1 2.1 -2.1 2.1 -2.1 -2.1z"/>
<path d="M212.5 910.8l2.1 2.1 -2.1 2.1 -2.1 -2.1z"/>
<path d="M214 911.1l2.1 2.1 -2.1 2.1 -2.1 -2.1z"/>
<path d="M215.5 911.3l2.1 2.1 -2.1 2.1 -2.1 -2.1z"/>
<path d="M217 911.5l2.1 2.1 -2.1 2.1 -2.1 -2.1z"/>
<path d="M218.5 911.7l2.1 2.1 -2.1 2.1 -2.1 -2.1z"/>
<path d="M220 912l2.1 2.1 -2.1 2.1 -2.1 -2.1z"/>
<path d="M221.5 912.2l2.1 2.1 -2.1 2.1 -2.1 -2.1z"/>
<path d="M223 912.4l2.1 2.1 -2.1 2.1 -2.1 -2.1z"/>
<path d="M224.5 912.6l2.1 2.1 -2.1 2.1 -2.1 -2.1z"/>
<path d="M226 912.8l2.1 2.1 -2.1 2.1 -2.1 -2.1z"/>
<path d="M227.4 913l2.1 2.1 -2.1 2.1 -2.1 -2.1z"/>
<path d="M228.9 913.2l2.1 2.1 -2.1 2.1 -2.1 -2.1z"/>
<path d="M230.4 913.4l2.1 2.1 -2.1 2.1 -2.1 -2.1z"/>
<path d="M231.9 913.6l2.1 2.1 -2.1 2.1 -2.1 -2.1z"/>
<path d="M233.4 913.7l2.1 2.1 -2.1 2.1 -2.1 -2.1z"/>
<path d="M234.9 913.9l2.1 2.1 -2.1 2.1 -2.1 -2.1z"/>
<path d="M236.4 914.1l2.1 2.1 -2.1 2.1 -2.1 -2.1z"/>
<path d="M237.9 914.3l2.1 2.1 -2.1 2.1 -2.1 -2.1z"/>
<path d="M239.4 914.5l2.1 2.1 -2.1 2.1 -2.1 -2.1z"/>
<path d="M240.9 914.6l2.1 2.1 -2.1 2.1 -2.1 -2.1z"/>
<path d="M242.4 914.8l2.1 2.1 -2.1 2.1 -2.1 -2.1z"/>
<path d="M243.9 915l2.1 2.1 -2.1 2.1 -2.1 -2.1z"/>
<path d="M245.4 915.1l2.1 2.1 -2.1 2.1 -2.1 -2.1z"/>
<path d="M246.9 915.3l2.1 2.1 -2.1 2.1 -2.1 -2.1z"/>
<path d="M248.4 915.5l2.1 2.1 -2.1 2.1 -2.1 -2.1z"/>
<path d="M249.9 915.6l2.1 2.1 -2.1 2.1 -2.1 -2.1z"/>
<path d="M251.4 915.8l2.1 2.1 -2.1 2.1 -2.1 -2.1z"/>
<path d="M252.9 916l2.1 2.1 -2.1 2.1 -2.1 -2.1z"/>
<path d="M254.3 916.1l2.1 2.1 -2.1 2.1 -2.1 -2.1z"/>
<path d="M255.8 916.3l2.1 2.1 -2.1 2.1 -2.1 -2.1z"/>
<path d="M257.3 916.4l2.1 2.1 -2.1 2.1 -2.1 -2.1z"/>
<path d="M258.8 916.6l2.1 2.1 -2.1 2.1 -2.1 -2.1z"/>
<path d="M260.3 916.7l2.1 2.1 -2.1 2.1 -2.1 -2.1z"/>
<path d="M261.8 916.9l2.1 2.1 -2.1 2.1 -2.1 -2.1z"/>
<path d="M263.3 917l2.1 2.1 -2.1 2.1 -2.1 -2.1z"/>
<path d="M264.8 917.1l2.1 2.1 -2.1 2.1 -2.1 -2.1z"/>
<path d="M266.3 917.3l2.1 2.1 -2.1 2.1 -2.1 -2.1z"/>
<path d="M267.8 917.4l2.1 2.1 -2.1 2.1 -2.1 -2.1z"/>
<path d="M269.3 917.6l2.1 2.1 -2.1 2.1 -2.1 -2.1z"/>
<path d="M270.8 917.7l2.1 2.1 -2.1 2.1 -2.1 -2.1z"/>
<path d="M272.3 917.8l2.1 2.1 -2.1 2.1 -2.1 -2.1z"/>
<path d="M273.8 918l2.1 2.1 -2.1 2.1 -2.1 -2.1z"/>
<path d="M275.3 918.1l2.1 2.1 -2.1 2.1 -2.1 -2.1z"/>
<path d="M276.8 918.2l2.1 2.1 -2.1 2.1 -2.1 -2.1z"/>
<path d="M278.3 918.4l2.1 2.1 -2.1 2.1 -2.1 -2.1z"/>
<path d="M279.7 918.5l2.1 2.1 -2.1 2.1 -2.1 -2.1z"/>
<path d="M281.2 918.6l2.1 2.1 -2.1 2.1 -2.1 -2.1z"/>
<path d="M282.7 918.7l2.1 2.1 -2.1 2.1 -2.1 -2.1z"/>
<path d="M284.2 918.9l2.1 2.1 -2.1 2.1 -2.1 -2.1z"/>
<path d="M285.7 919l2.1 2.1 -2.1 2.1 -2.1 -2.1z"/>
<path d="M287.2 919.1l2.1 2.1 -2.1 2.1 -2.1 -2.1z"/>
<path d="M288.7 919.2l2.1 2.1 -2.1 2.1 -2.1 -2.1z"/>
<path d="M290.2 919.3l2.1 2.1 -2.1 2.1 -2.1 -2.1z"/>
<path d="M291.7 919.4l2.1 2.1 -2.1 2.1 -2.1 -2.1z"/>
<path d="M293.2 919.6l2.1 2.1 -2.1 2.1 -2.1 -2.1z"/>
<path d="M294.7 919.7l2.1 2.1 -2.1 2.1 -2.1 -2.1z"/>
<path d="M296.2 919.8l2.1 2.1 -2.1 2.1 -2.1 -2.1z"/>
<path d="M297.7 919.9l2.1 2.1 -2.1 2.1 -2.1 -2.1z"/>
<path d="M299.2 920l2.1 2.1 -2.1 2.1 -2.1 -2.1z"/>
<path d="M300.7 920.1l2.1 2.1 -2.1 2.1 -2.1 -2.1z"/>
<path d="M302.2 920.2l2.1 2.1 -2.1 2.1 -2.1 -2.1z"/>
<path d="M303.7 920.3l2.1 2.1 -2.1 2.1 -2.1 -2.1z"/>
<path d="M305.1 920.4l2.1 2.1 -2.1 2.1 -2.1 -2.1z"/>
<path d="M306.6 920.6l2.1 2.1 -2.1 2.1 -2.1 -2.1z"/>
<path d="M308.1 920.7l2.1 2.1 -2.1 2.1 -2.1 -2.1z"/>
<path d="M309.6 920.8l2.1 2.1 -2.1 2.1 -2.1 -2.1z"/>
<path d="M311.1 920.9l2.1 2.1 -2.1 2.1 -2.1 -2.1z"/>
<path d="M312.6 921l2.1 2.1 -2.1 2.1 -2.1 -2.1z"/>
<path d="M314.1 921.1l2.1 2.1 -2.1 2.1 -2.1 -2.1z"/>
<path d="M315.6 921.2l2.1 2.1 -2.1 2.1 -2.1 -2.1z"/>
<path d="M317.1 921.3l2.1 2.1 -2.1 2.1 -2.1 -2.1z"/>
<path d="M318.6 921.4l2.1 2.1 -2.1 2.1 -2.1 -2.1z"/>
<path d="M320.1 921.5l2.1 2.1 -2.1 2.1 -2.1 -2.1z"/>
<path d="M321.6 921.6l2.1 2.1 -2.1 2.1 -2.1 -2.1z"/>
<path d="M323.1 921.7l2.1 2.1 -2.1 2.1 -2.1 -2.1z"/>
<path d="M324.6 921.7l2.1 2.1 -2.1 2.1 -2.1 -2.1z"/>
<path d="M326.1 921.8l2.1 2.1 -2.1 2.1 -2.1 -2.1z"/>
<path d="M327.6 921.9l2.1 2.1 -2.1 2.1 -2.1 -2.1z"/>
<path d="M329.1 922l2.1 2.1 -2.1 2.1 -2.1 -2.1z"/>
<path d="M330.6 922.1l2.1 2.1 -2.1 2.1 -2.1 -2.1z"/>
<path d="M332 922.2l2.1 2.1 -2.1 2.1 -2.1 -2.1z"/>
<path d="M333.5 922.3l2.1 2.1 -2.1 2.1 -2.1 -2.1z"/>
<path d="M335 922.4l2.1 2.1 -2.1 2.1 -2.1 -2.1z"/>
<path d="M336.5 922.5l2.1 2.1 -2.1 2.1 -2.1 -2.1z"/>
<path d="M338 922.6l2.1 2.1 -2.1 2.1 -2.1 -2.1z"/>
<path d="M339.5 922.7l2.1 2.1 -2.1 2.1 -2.1 -2.1z"/>
<path d="M341 922.7l2.1 2.1 -2.1 2.1 -2.1 -2.1z"/>
<path d="M342.5 922.8l2.1 2.1 -2.1 2.1 -2.1 -2.1z"/>
<path d="M344 922.9l2.1 2.1 -2.1 2.1 -2.1 -2.1z"/>
</g>
<g fill="#bbb" stroke="#444" stroke-width="0.45">
<rect x="107.2" y="938.7" width="1.5" height="3.2"/>
<rect x="108.7" y="941.2" width="1.5" height="3.2"/>
<rect x="110.2" y="943.5" width="1.5" height="3.2"/>
<rect x="111.6" y="945.5" width="1.5" height="3.2"/>
<rect x="113.1" y="947.4" width="1.5" height="3.2"/>
<rect x="114.6" y="949.1" width="1.5" height="3.2"/>
<rect x="116.1" y="950.7" width="1.5" height="3.2"/>
<rect x="117.6" y="952.1" width="1.5" height="3.2"/>
<rect x="119.1" y="953.4" width="1.5" height="3.2"/>
<rect x="120.6" y="954.7" width="1.5" height="3.2"/>
<rect x="122.1" y="955.8" width="1.5" height="3.2"/>
<rect x="123.6" y="956.9" width="1.5" height="3.2"/>
<rect x="125.1" y="957.9" width="1.5" height="3.2"/>
<rect x="126.6" y="958.8" width="1.5" height="3.2"/>
<rect x="128.1" y="959.7" width="1.5" height="3.2"/>
<rect x="129.6" y="960.6" width="1.5" height="3.2"/>
<rect x="131.1" y="961.4" width="1.5" height="3.2"/>
<rect x="132.6" y="962.1" width="1.5" height="3.2"/>
<rect x="134.1" y="962.8" width="1.5" height="3.2"/>
<rect x="135.6" y="963.5" width="1.5" height="3.2"/>
<rect x="137" y="964.2" width="1.5" height="3.2"/>
<rect x="138.5" y="964.8" width="1.5" height="3.2"/>
<rect x="140" y="965.4" width="1.5" height="3.2"/>
<rect x="141.5" y="965.9" width="1.5" height="3.2"/>
<rect x="143" y="966.4" width="1.5" height="3.2"/>
<rect x="144.5" y="967" width="1.5" height="3.2"/>
<rect x="146" y="967.4" width="1.5" height="3.2"/>
<rect x="147.5" y="967.9" width="1.5" height="3.2"/>
<rect x="149" y="968.4" width="1.5" height="3.2"/>
<rect x="150.5" y="968.8" width="1.5" height="3.2"/>
<rect x="152" y="969.2" width="1.5" height="3.2"/>
<rect x="153.5" y="969.6" width="1.5" height="3.2"/>
<rect x="155" y="970" width="1.5" height="3.2"/>
<rect x="156.5" y="970.4" width="1.5" height="3.2"/>
<rect x="158" y="970.7" width="1.5" height="3.2"/>
<rect x="159.5" y="971.1" width="1.5" height="3.2"/>
<rect x="161" y="971.4" width="1.5" height="3.2"/>
<rect x="162.4" y="971.8" width="1.5" height="3.2"/>
<rect x="163.9" y="972.1" width="1.5" height="3.2"/>
<rect x="165.4" y="972.4" width="1.5" height="3.2"/>
<rect x="166.9" y="972.7" width="1.5" height="3.2"/>
<rect x="168.4" y="973" width="1.5" height="3.2"/>
<rect x="169.9" y="973.2" width="1.5" height="3.2"/>
<rect x="171.4" y="973.5" width="1.5" height="3.2"/>
<rect x="172.9" y="973.8" width="1.5" height="3.2"/>
<rect x="174.4" y="974" width="1.5" height="3.2"/>
<rect x="175.9" y="974.3" width="1.5" height="3.2"/>
<rect x="177.4" y="974.5" width="1.5" height="3.2"/>
<rect x="178.9" y="974.8" width="1.5" height="3.2"/>
<rect x="180.4" y="975" width="1.5" height="3.2"/>
<rect x="181.9" y="975.2" width="1.5" height="3.2"/>
<rect x="183.4" y="975.4" width="1.5" height="3.2"/>
<rect x="184.9" y="975.6" width="1.5" height="3.2"/>
<rect x="186.4" y="975.8" width="1.5" height="3.2"/>
<rect x="187.9" y="976" width="1.5" height="3.2"/>
<rect x="189.3" y="976.2" width="1.5" height="3.2"/>
<rect x="190.8" y="976.4" width="1.5" height="3.2"/>
<rect x="192.3" y="976.6" width="1.5" height="3.2"/>
<rect x="193.8" y="976.8" width="1.5" height="3.2"/>
<rect x="195.3" y="977" width="1.5" height="3.2"/>
<rect x="196.8" y="977.1" width="1.5" height="3.2"/>
<rect x="198.3" y="977.3" width="1.5" height="3.2"/>
<rect x="199.8" y="977.5" width="1.5" height="3.2"/>
<rect x="201.3" y="977.6" width="1.5" height="3.2"/>
<rect x="202.8" y="977.8" width="1.5" height="3.2"/>
<rect x="204.3" y="978" width="1.5" height="3.2"/>
<rect x="205.8" y="978.1" width="1.5" height="3.2"/>
<rect x="207.3" y="978.3" width="1.5" height="3.2"/>
<rect x="208.8" y="978.4" width="1.5" height="3.2"/>
<rect x="210.3" y="978.6" width="1.5" height="3.2"/>
<rect x="211.8" y="978.7" width="1.5" height="3.2"/>
<rect x="213.3" y="978.8" width="1.5" height="3.2"/>
<rect x="214.7" y="979" width="1.5" height="3.2"/>
<rect x="216.2" y="979.1" width="1.5" height="3.2"/>
<rect x="217.7" y="979.2" width="1.5" height="3.2"/>
<rect x="219.2" y="979.4" width="1.5" height="3.2"/>
<rect x="220.7" y="979.5" width="1.5" height="3.2"/>
<rect x="222.2" y="979.6" width="1.5" height="3.2"/>
<rect x="223.7" y="979.7" width="1.5" height="3.2"/>
<rect x="225.2" y="979.8" width="1.5" height="3.2"/>
<rect x="226.7" y="980" width="1.5" height="3.2"/>
<rect x="228.2" y="980.1" width="1.5" height="3.2"/>
<rect x="229.7" y="980.2" width="1.5" height="3.2"/>
<rect x="231.2" y="980.3" width="1.5" height="3.2"/>
<rect x="232.7" y="980.4" width="1.5" height="3.2"/>
<rect x="234.2" y="980.5" width="1.5" height="3.2"/>
<rect x="235.7" y="980.6" width="1.5" height="3.2"/>
<rect x="237.2" y="980.7" width="1.5" height="3.2"/>
<rect x="238.7" y="980.8" width="1.5" height="3.2"/>
<rect x="240.1" y="980.9" width="1.5" height="3.2"/>
<rect x="241.6" y="981" width="1.5" height="3.2"/>
<rect x="243.1" y="981.1" width="1.5" height="3.2"/>
<rect x="244.6" y="981.2" width="1.5" height="3.2"/>
<rect x="246.1" y="981.3" width="1.5" height="3.2"/>
<rect x="247.6" y="981.4" width="1.5" height="3.2"/>
<rect x="249.1" y="981.5" width="1.5" height="3.2"/>
<rect x="250.6" y="981.6" width="1.5" height="3.2"/>
<rect x="252.1" y="981.7" width="1.5" height="3.2"/>
<rect x="253.6" y="981.7" width="1.5" height="3.2"/>
<rect x="255.1" y="981.8" width="1.5" height="3.2"/>
<rect x="256.6" y="981.9" width="1.5" height="3.2"/>
<rect x="258.1" y="982" width="1.5" height="3.2"/>
<rect x="259.6" y="982.1" width="1.5" height="3.2"/>
<rect x="261.1" y="982.2" width="1.5" height="3.2"/>
<rect x="262.6" y="982.2" width="1.5" height="3.2"/>
<rect x="264.1" y="982.3" width="1.5" height="3.2"/>
<rect x="265.5" y="982.4" width="1.5" height="3.2"/>
<rect x="267" y="982.5" width="1.5" height="3.2"/>
<rect x="268.5" y="982.5" width="1.5" height="3.2"/>
<rect x="270" y="982.6" width="1.5" height="3.2"/>
<rect x="271.5" y="982.7" width="1.5" height="3.2"/>
<rect x="273" y="982.8" width="1.5" height="3.2"/>
<rect x="274.5" y="982.8" width="1.5" height="3.2"/>
<rect x="276" y="982.9" width="1.5" height="3.2"/>
<rect x="277.5" y="983" width="1.5" height="3.2"/>
<rect x="279" y="983" width="1.5" height="3.2"/>
<rect x="280.5" y="983.1" width="1.5" height="3.2"/>
<rect x="282" y="983.2" width="1.5" height="3.2"/>
<rect x="283.5" y="983.2" width="1.5" height="3.2"/>
<rect x="285" y="983.3" width="1.5" height="3.2"/>
<rect x="286.5" y="983.4" width="1.5" height="3.2"/>
<rect x="288" y="983.4" width="1.5" height="3.2"/>
<rect x="289.5" y="983.5" width="1.5" height="3.2"/>
<rect x="291" y="983.6" width="1.5" height="3.2"/>
<rect x="292.4" y="983.6" width="1.5" height="3.2"/>
<rect x="293.9" y="983.7" width="1.5" height="3.2"/>
<rect x="295.4" y="983.7" width="1.5" height="3.2"/>
<rect x="296.9" y="983.8" width="1.5" height="3.2"/>
<rect x="298.4" y="983.8" width="1.5" height="3.2"/>
<rect x="299.9" y="983.9" width="1.5" height="3.2"/>
<rect x="301.4" y="984" width="1.5" height="3.2"/>
</g>
<g fill="#62c89a" stroke="#1f5a40" stroke-width="0.5">
<path d="M107.9 936.8l1.9 1.9 -1.9 1.9 -1.9 -1.9z"/>
<path d="M109.4 939.3l1.9 1.9 -1.9 1.9 -1.9 -1.9z"/>
<path d="M110.9 941.6l1.9 1.9 -1.9 1.9 -1.9 -1.9z"/>
<path d="M112.4 943.6l1.9 1.9 -1.9 1.9 -1.9 -1.9z"/>
<path d="M113.9 945.5l1.9 1.9 -1.9 1.9 -1.9 -1.9z"/>
<path d="M115.4 947.2l1.9 1.9 -1.9 1.9 -1.9 -1.9z"/>
<path d="M116.9 948.8l1.9 1.9 -1.9 1.9 -1.9 -1.9z"/>
<path d="M118.4 950.2l1.9 1.9 -1.9 1.9 -1.9 -1.9z"/>
<path d="M119.9 951.5l1.9 1.9 -1.9 1.9 -1.9 -1.9z"/>
<path d="M121.4 952.8l1.9 1.9 -1.9 1.9 -1.9 -1.9z"/>
<path d="M122.9 953.9l1.9 1.9 -1.9 1.9 -1.9 -1.9z"/>
<path d="M124.3 955l1.9 1.9 -1.9 1.9 -1.9 -1.9z"/>
<path d="M125.8 956l1.9 1.9 -1.9 1.9 -1.9 -1.9z"/>
<path d="M127.3 956.9l1.9 1.9 -1.9 1.9 -1.9 -1.9z"/>
<path d="M128.8 957.8l1.9 1.9 -1.9 1.9 -1.9 -1.9z"/>
<path d="M130.3 958.7l1.9 1.9 -1.9 1.9 -1.9 -1.9z"/>
<path d="M131.8 959.5l1.9 1.9 -1.9 1.9 -1.9 -1.9z"/>
<path d="M133.3 960.2l1.9 1.9 -1.9 1.9 -1.9 -1.9z"/>
<path d="M134.8 960.9l1.9 1.9 -1.9 1.9 -1.9 -1.9z"/>
<path d="M136.3 961.6l1.9 1.9 -1.9 1.9 -1.9 -1.9z"/>
<path d="M137.8 962.3l1.9 1.9 -1.9 1.9 -1.9 -1.9z"/>
<path d="M139.3 962.9l1.9 1.9 -1.9 1.9 -1.9 -1.9z"/>
<path d="M140.8 963.5l1.9 1.9 -1.9 1.9 -1.9 -1.9z"/>
<path d="M142.3 964l1.9 1.9 -1.9 1.9 -1.9 -1.9z"/>
<path d="M143.8 964.5l1.9 1.9 -1.9 1.9 -1.9 -1.9z"/>
<path d="M145.3 965.1l1.9 1.9 -1.9 1.9 -1.9 -1.9z"/>
<path d="M146.8 965.5l1.9 1.9 -1.9 1.9 -1.9 -1.9z"/>
<path d="M148.3 966l1.9 1.9 -1.9 1.9 -1.9 -1.9z"/>
<path d="M149.8 966.5l1.9 1.9 -1.9 1.9 -1.9 -1.9z"/>
<path d="M151.2 966.9l1.9 1.9 -1.9 1.9 -1.9 -1.9z"/>
<path d="M152.7 967.3l1.9 1.9 -1.9 1.9 -1.9 -1.9z"/>
<path d="M154.2 967.7l1.9 1.9 -1.9 1.9 -1.9 -1.9z"/>
<path d="M155.7 968.1l1.9 1.9 -1.9 1.9 -1.9 -1.9z"/>
<path d="M157.2 968.5l1.9 1.9 -1.9 1.9 -1.9 -1.9z"/>
<path d="M158.7 968.8l1.9 1.9 -1.9 1.9 -1.9 -1.9z"/>
<path d="M160.2 969.2l1.9 1.9 -1.9 1.9 -1.9 -1.9z"/>
<path d="M161.7 969.5l1.9 1.9 -1.9 1.9 -1.9 -1.9z"/>
<path d="M163.2 969.9l1.9 1.9 -1.9 1.9 -1.9 -1.9z"/>
<path d="M164.7 970.2l1.9 1.9 -1.9 1.9 -1.9 -1.9z"/>
<path d="M166.2 970.5l1.9 1.9 -1.9 1.9 -1.9 -1.9z"/>
<path d="M167.7 970.8l1.9 1.9 -1.9 1.9 -1.9 -1.9z"/>
<path d="M169.2 971.1l1.9 1.9 -1.9 1.9 -1.9 -1.9z"/>
<path d="M170.7 971.3l1.9 1.9 -1.9 1.9 -1.9 -1.9z"/>
<path d="M172.2 971.6l1.9 1.9 -1.9 1.9 -1.9 -1.9z"/>
<path d="M173.7 971.9l1.9 1.9 -1.9 1.9 -1.9 -1.9z"/>
<path d="M175.2 972.1l1.9 1.9 -1.9 1.9 -1.9 -1.9z"/>
<path d="M176.6 972.4l1.9 1.9 -1.9 1.9 -1.9 -1.9z"/>
<path d="M178.1 972.6l1.9 1.9 -1.9 1.9 -1.9 -1.9z"/>
<path d="M179.6 972.9l1.9 1.9 -1.9 1.9 -1.9 -1.9z"/>
<path d="M181.1 973.1l1.9 1.9 -1.9 1.9 -1.9 -1.9z"/>
<path d="M182.6 973.3l1.9 1.9 -1.9 1.9 -1.9 -1.9z"/>
<path d="M184.1 973.5l1.9 1.9 -1.9 1.9 -1.9 -1.9z"/>
<path d="M185.6 973.7l1.9 1.9 -1.9 1.9 -1.9 -1.9z"/>
<path d="M187.1 973.9l1.9 1.9 -1.9 1.9 -1.9 -1.9z"/>
<path d="M188.6 974.1l1.9 1.9 -1.9 1.9 -1.9 -1.9z"/>
<path d="M190.1 974.3l1.9 1.9 -1.9 1.9 -1.9 -1.9z"/>
<path d="M191.6 974.5l1.9 1.9 -1.9 1.9 -1.9 -1.9z"/>
<path d="M193.1 974.7l1.9 1.9 -1.9 1.9 -1.9 -1.9z"/>
<path d="M194.6 974.9l1.9 1.9 -1.9 1.9 -1.9 -1.9z"/>
<path d="M196.1 975.1l1.9 1.9 -1.9 1.9 -1.9 -1.9z"/>
<path d="M197.6 975.2l1.9 1.9 -1.9 1.9 -1.9 -1.9z"/>
<path d="M199.1 975.4l1.9 1.9 -1.9 1.9 -1.9 -1.9z"/>
<path d="M200.6 975.6l1.9 1.9 -1.9 1.9 -1.9 -1.9z"/>
<path d="M202 975.7l1.9 1.9 -1.9 1.9 -1.9 -1.9z"/>
<path d="M203.5 975.9l1.9 1.9 -1.9 1.9 -1.9 -1.9z"/>
<path d="M205 976.1l1.9 1.9 -1.9 1.9 -1.9 -1.9z"/>
<path d="M206.5 976.2l1.9 1.9 -1.9 1.9 -1.9 -1.9z"/>
<path d="M208 976.4l1.9 1.9 -1.9 1.9 -1.9 -1.9z"/>
<path d="M209.5 976.5l1.9 1.9 -1.9 1.9 -1.9 -1.9z"/>
<path d="M211 976.7l1.9 1.9 -1.9 1.9 -1.9 -1.9z"/>
<path d="M212.5 976.8l1.9 1.9 -1.9 1.9 -1.9 -1.9z"/>
<path d="M214 976.9l1.9 1.9 -1.9 1.9 -1.9 -1.9z"/>
<path d="M215.5 977.1l1.9 1.9 -1.9 1.9 -1.9 -1.9z"/>
<path d="M217 977.2l1.9 1.9 -1.9 1.9 -1.9 -1.9z"/>
<path d="M218.5 977.3l1.9 1.9 -1.9 1.9 -1.9 -1.9z"/>
<path d="M220 977.5l1.9 1.9 -1.9 1.9 -1.9 -1.9z"/>
<path d="M221.5 977.6l1.9 1.9 -1.9 1.9 -1.9 -1.9z"/>
<path d="M223 977.7l1.9 1.9 -1.9 1.9 -1.9 -1.9z"/>
<path d="M224.5 977.8l1.9 1.9 -1.9 1.9 -1.9 -1.9z"/>
<path d="M226 977.9l1.9 1.9 -1.9 1.9 -1.9 -1.9z"/>
<path d="M227.4 978.1l1.9 1.9 -1.9 1.9 -1.9 -1.9z"/>
<path d="M228.9 978.2l1.9 1.9 -1.9 1.9 -1.9 -1.9z"/>
<path d="M230.4 978.3l1.9 1.9 -1.9 1.9 -1.9 -1.9z"/>
<path d="M231.9 978.4l1.9 1.9 -1.9 1.9 -1.9 -1.9z"/>
<path d="M233.4 978.5l1.9 1.9 -1.9 1.9 -1.9 -1.9z"/>
<path d="M234.9 978.6l1.9 1.9 -1.9 1.9 -1.9 -1.9z"/>
<path d="M236.4 978.7l1.9 1.9 -1.9 1.9 -1.9 -1.9z"/>
<path d="M237.9 978.8l1.9 1.9 -1.9 1.9 -1.9 -1.9z"/>
<path d="M239.4 978.9l1.9 1.9 -1.9 1.9 -1.9 -1.9z"/>
<path d="M240.9 979l1.9 1.9 -1.9 1.9 -1.9 -1.9z"/>
<path d="M242.4 979.1l1.9 1.9 -1.9 1.9 -1.9 -1.9z"/>
<path d="M243.9 979.2l1.9 1.9 -1.9 1.9 -1.9 -1.9z"/>
<path d="M245.4 979.3l1.9 1.9 -1.9 1.9 -1.9 -1.9z"/>
<path d="M246.9 979.4l1.9 1.9 -1.9 1.9 -1.9 -1.9z"/>
<path d="M248.4 979.5l1.9 1.9 -1.9 1.9 -1.9 -1.9z"/>
<path d="M249.9 979.6l1.9 1.9 -1.9 1.9 -1.9 -1.9z"/>
<path d="M251.4 979.7l1.9 1.9 -1.9 1.9 -1.9 -1.9z"/>
<path d="M252.9 979.8l1.9 1.9 -1.9 1.9 -1.9 -1.9z"/>
<path d="M254.3 979.8l1.9 1.9 -1.9 1.9 -1.9 -1.9z"/>
<path d="M255.8 979.9l1.9 1.9 -1.9 1.9 -1.9 -1.9z"/>
<path d="M257.3 980l1.9 1.9 -1.9 1.9 -1.9 -1.9z"/>
<path d="M258.8 980.1l1.9 1.9 -1.9 1.9 -1.9 -1.9z"/>
<path d="M260.3 980.2l1.9 1.9 -1.9 1.9 -1.9 -1.9z"/>
<path d="M261.8 980.3l1.9 1.9 -1.9 1.9 -1.9 -1.9z"/>
<path d="M263.3 980.3l1.9 1.9 -1.9 1.9 -1.9 -1.9z"/>
<path d="M264.8 980.4l1.9 1.9 -1.9 1.9 -1.9 -1.9z"/>
<path d="M266.3 980.5l1.9 1.9 -1.9 1.9 -1.9 -1.9z"/>
<path d="M267.8 980.6l1.9 1.9 -1.9 1.9 -1.9 -1.9z"/>
<path d="M269.3 980.6l1.9 1.9 -1.9 1.9 -1.9 -1.9z"/>
<path d="M270.8 980.7l1.9 1.9 -1.9 1.9 -1.9 -1.9z"/>
<path d="M272.3 980.8l1.9 1.9 -1.9 1.9 -1.9 -1.9z"/>
<path d="M273.8 980.9l1.9 1.9 -1.9 1.9 -1.9 -1.9z"/>
<path d="M275.3 980.9l1.9 1.9 -1.9 1.9 -1.9 -1.9z"/>
<path d="M276.8 981l1.9 1.9 -1.9 1.9 -1.9 -1.9z"/>
<path d="M278.3 981.1l1.9 1.9 -1.9 1.9 -1.9 -1.9z"/>
<path d="M279.7 981.1l1.9 1.9 -1.9 1.9 -1.9 -1.9z"/>
<path d="M281.2 981.2l1.9 1.9 -1.9 1.9 -1.9 -1.9z"/>
<path d="M282.7 981.3l1.9 1.9 -1.9 1.9 -1.9 -1.9z"/>
<path d="M284.2 981.3l1.9 1.9 -1.9 1.9 -1.9 -1.9z"/>
<path d="M285.7 981.4l1.9 1.9 -1.9 1.9 -1.9 -1.9z"/>
<path d="M287.2 981.5l1.9 1.9 -1.9 1.9 -1.9 -1.9z"/>
<path d="M288.7 981.5l1.9 1.9 -1.9 1.9 -1.9 -1.9z"/>
<path d="M290.2 981.6l1.9 1.9 -1.9 1.9 -1.9 -1.9z"/>
<path d="M291.7 981.7l1.9 1.9 -1.9 1.9 -1.9 -1.9z"/>
<path d="M293.2 981.7l1.9 1.9 -1.9 1.9 -1.9 -1.9z"/>
<path d="M294.7 981.8l1.9 1.9 -1.9 1.9 -1.9 -1.9z"/>
<path d="M296.2 981.8l1.9 1.9 -1.9 1.9 -1.9 -1.9z"/>
<path d="M297.7 981.9l1.9 1.9 -1.9 1.9 -1.9 -1.9z"/>
<path d="M299.2 981.9l1.9 1.9 -1.9 1.9 -1.9 -1.9z"/>
<path d="M300.7 982l1.9 1.9 -1.9 1.9 -1.9 -1.9z"/>
<path d="M302.2 982.1l1.9 1.9 -1.9 1.9 -1.9 -1.9z"/>
</g>
<g fill="#bbb" stroke="#444" stroke-width="0.45">
<rect x="107.2" y="929.4" width="1.5" height="3"/>
<rect x="108.7" y="931.8" width="1.5" height="3"/>
<rect x="110.2" y="933.9" width="1.5" height="3"/>
<rect x="111.6" y="935.9" width="1.5" height="3"/>
<rect x="113.1" y="937.6" width="1.5" height="3"/>
<rect x="114.6" y="939.3" width="1.5" height="3"/>
<rect x="116.1" y="940.8" width="1.5" height="3"/>
<rect x="117.6" y="942.2" width="1.5" height="3"/>
<rect x="119.1" y="943.5" width="1.5" height="3"/>
<rect x="120.6" y="944.7" width="1.5" height="3"/>
<rect x="122.1" y="945.9" width="1.5" height="3"/>
<rect x="123.6" y="947" width="1.5" height="3"/>
<rect x="125.1" y="948" width="1.5" height="3"/>
<rect x="126.6" y="948.9" width="1.5" height="3"/>
<rect x="128.1" y="949.8" width="1.5" height="3"/>
<rect x="129.6" y="950.7" width="1.5" height="3"/>
<rect x="131.1" y="951.5" width="1.5" height="3"/>
<rect x="132.6" y="952.3" width="1.5" height="3"/>
<rect x="134.1" y="953" width="1.5" height="3"/>
<rect x="135.6" y="953.7" width="1.5" height="3"/>
<rect x="137" y="954.4" width="1.5" height="3"/>
<rect x="138.5" y="955" width="1.5" height="3"/>
<rect x="140" y="955.6" width="1.5" height="3"/>
<rect x="141.5" y="956.2" width="1.5" height="3"/>
<rect x="143" y="956.8" width="1.5" height="3"/>
<rect x="144.5" y="957.3" width="1.5" height="3"/>
<rect x="146" y="957.8" width="1.5" height="3"/>
<rect x="147.5" y="958.3" width="1.5" height="3"/>
<rect x="149" y="958.8" width="1.5" height="3"/>
<rect x="150.5" y="959.3" width="1.5" height="3"/>
<rect x="152" y="959.7" width="1.5" height="3"/>
<rect x="153.5" y="960.1" width="1.5" height="3"/>
<rect x="155" y="960.5" width="1.5" height="3"/>
<rect x="156.5" y="961" width="1.5" height="3"/>
<rect x="158" y="961.3" width="1.5" height="3"/>
<rect x="159.5" y="961.7" width="1.5" height="3"/>
<rect x="161" y="962.1" width="1.5" height="3"/>
<rect x="162.4" y="962.4" width="1.5" height="3"/>
<rect x="163.9" y="962.8" width="1.5" height="3"/>
<rect x="165.4" y="963.1" width="1.5" height="3"/>
<rect x="166.9" y="963.4" width="1.5" height="3"/>
<rect x="168.4" y="963.8" width="1.5" height="3"/>
<rect x="169.9" y="964.1" width="1.5" height="3"/>
<rect x="171.4" y="964.4" width="1.5" height="3"/>
<rect x="172.9" y="964.6" width="1.5" height="3"/>
<rect x="174.4" y="964.9" width="1.5" height="3"/>
<rect x="175.9" y="965.2" width="1.5" height="3"/>
<rect x="177.4" y="965.5" width="1.5" height="3"/>
<rect x="178.9" y="965.7" width="1.5" height="3"/>
<rect x="180.4" y="966" width="1.5" height="3"/>
<rect x="181.9" y="966.2" width="1.5" height="3"/>
<rect x="183.4" y="966.5" width="1.5" height="3"/>
<rect x="184.9" y="966.7" width="1.5" height="3"/>
<rect x="186.4" y="966.9" width="1.5" height="3"/>
<rect x="187.9" y="967.2" width="1.5" height="3"/>
<rect x="189.3" y="967.4" width="1.5" height="3"/>
<rect x="190.8" y="967.6" width="1.5" height="3"/>
<rect x="192.3" y="967.8" width="1.5" height="3"/>
<rect x="193.8" y="968" width="1.5" height="3"/>
<rect x="195.3" y="968.2" width="1.5" height="3"/>
<rect x="196.8" y="968.4" width="1.5" height="3"/>
<rect x="198.3" y="968.6" width="1.5" height="3"/>
<rect x="199.8" y="968.8" width="1.5" height="3"/>
<rect x="201.3" y="969" width="1.5" height="3"/>
<rect x="202.8" y="969.2" width="1.5" height="3"/>
<rect x="204.3" y="969.3" width="1.5" height="3"/>
<rect x="205.8" y="969.5" width="1.5" height="3"/>
<rect x="207.3" y="969.7" width="1.5" height="3"/>
<rect x="208.8" y="969.9" width="1.5" height="3"/>
<rect x="210.3" y="970" width="1.5" height="3"/>
<rect x="211.8" y="970.2" width="1.5" height="3"/>
<rect x="213.3" y="970.3" width="1.5" height="3"/>
<rect x="214.7" y="970.5" width="1.5" height="3"/>
<rect x="216.2" y="970.7" width="1.5" height="3"/>
<rect x="217.7" y="970.8" width="1.5" height="3"/>
<rect x="219.2" y="971" width="1.5" height="3"/>
<rect x="220.7" y="971.1" width="1.5" height="3"/>
<rect x="222.2" y="971.2" width="1.5" height="3"/>
<rect x="223.7" y="971.4" width="1.5" height="3"/>
<rect x="225.2" y="971.5" width="1.5" height="3"/>
<rect x="226.7" y="971.7" width="1.5" height="3"/>
<rect x="228.2" y="971.8" width="1.5" height="3"/>
<rect x="229.7" y="971.9" width="1.5" height="3"/>
<rect x="231.2" y="972.1" width="1.5" height="3"/>
<rect x="232.7" y="972.2" width="1.5" height="3"/>
<rect x="234.2" y="972.3" width="1.5" height="3"/>
<rect x="235.7" y="972.4" width="1.5" height="3"/>
<rect x="237.2" y="972.5" width="1.5" height="3"/>
<rect x="238.7" y="972.7" width="1.5" height="3"/>
<rect x="240.1" y="972.8" width="1.5" height="3"/>
<rect x="241.6" y="972.9" width="1.5" height="3"/>
<rect x="243.1" y="973" width="1.5" height="3"/>
<rect x="244.6" y="973.1" width="1.5" height="3"/>
<rect x="246.1" y="973.2" width="1.5" height="3"/>
<rect x="247.6" y="973.3" width="1.5" height="3"/>
<rect x="249.1" y="973.5" width="1.5" height="3"/>
<rect x="250.6" y="973.6" width="1.5" height="3"/>
<rect x="252.1" y="973.7" width="1.5" height="3"/>
<rect x="253.6" y="973.8" width="1.5" height="3"/>
<rect x="255.1" y="973.9" width="1.5" height="3"/>
<rect x="256.6" y="974" width="1.5" height="3"/>
<rect x="258.1" y="974.1" width="1.5" height="3"/>
<rect x="259.6" y="974.2" width="1.5" height="3"/>
<rect x="261.1" y="974.3" width="1.5" height="3"/>
<rect x="262.6" y="974.4" width="1.5" height="3"/>
<rect x="264.1" y="974.5" width="1.5" height="3"/>
<rect x="265.5" y="974.5" width="1.5" height="3"/>
<rect x="267" y="974.6" width="1.5" height="3"/>
<rect x="268.5" y="974.7" width="1.5" height="3"/>
<rect x="270" y="974.8" width="1.5" height="3"/>
<rect x="271.5" y="974.9" width="1.5" height="3"/>
<rect x="273" y="975" width="1.5" height="3"/>
<rect x="274.5" y="975.1" width="1.5" height="3"/>
<rect x="276" y="975.2" width="1.5" height="3"/>
<rect x="277.5" y="975.2" width="1.5" height="3"/>
<rect x="279" y="975.3" width="1.5" height="3"/>
<rect x="280.5" y="975.4" width="1.5" height="3"/>
<rect x="282" y="975.5" width="1.5" height="3"/>
<rect x="283.5" y="975.6" width="1.5" height="3"/>
<rect x="285" y="975.6" width="1.5" height="3"/>
<rect x="286.5" y="975.7" width="1.5" height="3"/>
<rect x="288" y="975.8" width="1.5" height="3"/>
<rect x="289.5" y="975.9" width="1.5" height="3"/>
<rect x="291" y="975.9" width="1.5" height="3"/>
<rect x="292.4" y="976" width="1.5" height="3"/>
<rect x="293.9" y="976.1" width="1.5" height="3"/>
<rect x="295.4" y="976.2" width="1.5" height="3"/>
<rect x="296.9" y="976.2" width="1.5" height="3"/>
<rect x="298.4" y="976.3" width="1.5" height="3"/>
<rect x="299.9" y="976.4" width="1.5" height="3"/>
<rect x="301.4" y="976.5" width="1.5" height="3"/>
</g>
<g fill="#1c2cd0" stroke="#0a0a55" stroke-width="0.5">
<circle cx="107.9" cy="929.4" r="2"/>
<circle cx="109.4" cy="931.8" r="2"/>
<circle cx="110.9" cy="933.9" r="2"/>
<circle cx="112.4" cy="935.9" r="2"/>
<circle cx="113.9" cy="937.6" r="2"/>
<circle cx="115.4" cy="939.3" r="2"/>
<circle cx="116.9" cy="940.8" r="2"/>
<circle cx="118.4" cy="942.2" r="2"/>
<circle cx="119.9" cy="943.5" r="2"/>
<circle cx="121.4" cy="944.7" r="2"/>
<circle cx="122.9" cy="945.9" r="2"/>
<circle cx="124.3" cy="947" r="2"/>
<circle cx="125.8" cy="948" r="2"/>
<circle cx="127.3" cy="948.9" r="2"/>
<circle cx="128.8" cy="949.8" r="2"/>
<circle cx="130.3" cy="950.7" r="2"/>
<circle cx="131.8" cy="951.5" r="2"/>
<circle cx="133.3" cy="952.3" r="2"/>
<circle cx="134.8" cy="953" r="2"/>
<circle cx="136.3" cy="953.7" r="2"/>
<circle cx="137.8" cy="954.4" r="2"/>
<circle cx="139.3" cy="955" r="2"/>
<circle cx="140.8" cy="955.6" r="2"/>
<circle cx="142.3" cy="956.2" r="2"/>
<circle cx="143.8" cy="956.8" r="2"/>
<circle cx="145.3" cy="957.3" r="2"/>
<circle cx="146.8" cy="957.8" r="2"/>
<circle cx="148.3" cy="958.3" r="2"/>
<circle cx="149.8" cy="958.8" r="2"/>
<circle cx="151.2" cy="959.3" r="2"/>
<circle cx="152.7" cy="959.7" r="2"/>
<circle cx="154.2" cy="960.1" r="2"/>
<circle cx="155.7" cy="960.5" r="2"/>
<circle cx="157.2" cy="961" r="2"/>
<circle cx="158.7" cy="961.3" r="2"/>
<circle cx="160.2" cy="961.7" r="2"/>
<circle cx="161.7" cy="962.1" r="2"/>
<circle cx="163.2" cy="962.4" r="2"/>
<circle cx="164.7" cy="962.8" r="2"/>
<circle cx="166.2" cy="963.1" r="2"/>
<circle cx="167.7" cy="963.4" r="2"/>
<circle cx="169.2" cy="963.8" r="2"/>
<circle cx="170.7" cy="964.1" r="2"/>
<circle cx="172.2" cy="964.4" r="2"/>
<circle cx="173.7" cy="964.6" r="2"/>
<circle cx="175.2" cy="964.9" r="2"/>
<circle cx="176.6" cy="965.2" r="2"/>
<circle cx="178.1" cy="965.5" r="2"/>
<circle cx="179.6" cy="965.7" r="2"/>
<circle cx="181.1" cy="966" r="2"/>
<circle cx="182.6" cy="966.2" r="2"/>
<circle cx="184.1" cy="966.5" r="2"/>
<circle cx="185.6" cy="966.7" r="2"/>
<circle cx="187.1" cy="966.9" r="2"/>
<circle cx="188.6" cy="967.2" r="2"/>
<circle cx="190.1" cy="967.4" r="2"/>
<circle cx="191.6" cy="967.6" r="2"/>
<circle cx="193.1" cy="967.8" r="2"/>
<circle cx="194.6" cy="968" r="2"/>
<circle cx="196.1" cy="968.2" r="2"/>
<circle cx="197.6" cy="968.4" r="2"/>
<circle cx="199.1" cy="968.6" r="2"/>
<circle cx="200.6" cy="968.8" r="2"/>
<circle cx="202" cy="969" r="2"/>
<circle cx="203.5" cy="969.2" r="2"/>
<circle cx="205" cy="969.3" r="2"/>
<circle cx="206.5" cy="969.5" r="2"/>
<circle cx="208" cy="969.7" r="2"/>
<circle cx="209.5" cy="969.9" r="2"/>
<circle cx="211" cy="970" r="2"/>
<circle cx="212.5" cy="970.2" r="2"/>
<circle cx="214" cy="970.3" r="2"/>
<circle cx="215.5" cy="970.5" r="2"/>
<circle cx="217" cy="970.7" r="2"/>
<circle cx="218.5" cy="970.8" r="2"/>
<circle cx="220" cy="971" r="2"/>
<circle cx="221.5" cy="971.1" r="2"/>
<circle cx="223" cy="971.2" r="2"/>
<circle cx="224.5" cy="971.4" r="2"/>
<circle cx="226" cy="971.5" r="2"/>
<circle cx="227.4" cy="971.7" r="2"/>
<circle cx="228.9" cy="971.8" r="2"/>
<circle cx="230.4" cy="971.9" r="2"/>
<circle cx="231.9" cy="972.1" r="2"/>
<circle cx="233.4" cy="972.2" r="2"/>
<circle cx="234.9" cy="972.3" r="2"/>
<circle cx="236.4" cy="972.4" r="2"/>
<circle cx="237.9" cy="972.5" r="2"/>
<circle cx="239.4" cy="972.7" r="2"/>
<circle cx="240.9" cy="972.8" r="2"/>
<circle cx="242.4" cy="972.9" r="2"/>
<circle cx="243.9" cy="973" r="2"/>
<circle cx="245.4" cy="973.1" r="2"/>
<circle cx="246.9" cy="973.2" r="2"/>
<circle cx="248.4" cy="973.3" r="2"/>
<circle cx="249.9" cy="973.5" r="2"/>
<circle cx="251.4" cy="973.6" r="2"/>
<circle cx="252.9" cy="973.7" r="2"/>
<circle cx="254.3" cy="973.8" r="2"/>
<circle cx="255.8" cy="973.9" r="2"/>
<circle cx="257.3" cy="974" r="2"/>
<circle cx="258.8" cy="974.1" r="2"/>
<circle cx="260.3" cy="974.2" r="2"/>
<circle cx="261.8" cy="974.3" r="2"/>
<circle cx="263.3" cy="974.4" r="2"/>
<circle cx="264.8" cy="974.5" r="2"/>
<circle cx="266.3" cy="974.5" r="2"/>
<circle cx="267.8" cy="974.6" r="2"/>
<circle cx="269.3" cy="974.7" r="2"/>
<circle cx="270.8" cy="974.8" r="2"/>
<circle cx="272.3" cy="974.9" r="2"/>
<circle cx="273.8" cy="975" r="2"/>
<circle cx="275.3" cy="975.1" r="2"/>
<circle cx="276.8" cy="975.2" r="2"/>
<circle cx="278.3" cy="975.2" r="2"/>
<circle cx="279.7" cy="975.3" r="2"/>
<circle cx="281.2" cy="975.4" r="2"/>
<circle cx="282.7" cy="975.5" r="2"/>
<circle cx="284.2" cy="975.6" r="2"/>
<circle cx="285.7" cy="975.6" r="2"/>
<circle cx="287.2" cy="975.7" r="2"/>
<circle cx="288.7" cy="975.8" r="2"/>
<circle cx="290.2" cy="975.9" r="2"/>
<circle cx="291.7" cy="975.9" r="2"/>
<circle cx="293.2" cy="976" r="2"/>
<circle cx="294.7" cy="976.1" r="2"/>
<circle cx="296.2" cy="976.2" r="2"/>
<circle cx="297.7" cy="976.2" r="2"/>
<circle cx="299.2" cy="976.3" r="2"/>
<circle cx="300.7" cy="976.4" r="2"/>
<circle cx="302.2" cy="976.5" r="2"/>
</g>
<g fill="#bbb" stroke="#444" stroke-width="0.45">
<rect x="107.2" y="924.4" width="1.5" height="3"/>
<rect x="108.7" y="926.6" width="1.5" height="3"/>
<rect x="110.2" y="928.6" width="1.5" height="3"/>
<rect x="111.6" y="930.4" width="1.5" height="3"/>
<rect x="113.1" y="932.1" width="1.5" height="3"/>
<rect x="114.6" y="933.6" width="1.5" height="3"/>
<rect x="116.1" y="935" width="1.5" height="3"/>
<rect x="117.6" y="936.3" width="1.5" height="3"/>
<rect x="119.1" y="937.6" width="1.5" height="3"/>
<rect x="120.6" y="938.7" width="1.5" height="3"/>
<rect x="122.1" y="939.7" width="1.5" height="3"/>
<rect x="123.6" y="940.7" width="1.5" height="3"/>
<rect x="125.1" y="941.7" width="1.5" height="3"/>
<rect x="126.6" y="942.5" width="1.5" height="3"/>
<rect x="128.1" y="943.4" width="1.5" height="3"/>
<rect x="129.6" y="944.1" width="1.5" height="3"/>
<rect x="131.1" y="944.9" width="1.5" height="3"/>
<rect x="132.6" y="945.6" width="1.5" height="3"/>
<rect x="134.1" y="946.3" width="1.5" height="3"/>
<rect x="135.6" y="946.9" width="1.5" height="3"/>
<rect x="137" y="947.5" width="1.5" height="3"/>
<rect x="138.5" y="948.1" width="1.5" height="3"/>
<rect x="140" y="948.6" width="1.5" height="3"/>
<rect x="141.5" y="949.1" width="1.5" height="3"/>
<rect x="143" y="949.7" width="1.5" height="3"/>
<rect x="144.5" y="950.1" width="1.5" height="3"/>
<rect x="146" y="950.6" width="1.5" height="3"/>
<rect x="147.5" y="951.1" width="1.5" height="3"/>
<rect x="149" y="951.5" width="1.5" height="3"/>
<rect x="150.5" y="951.9" width="1.5" height="3"/>
<rect x="152" y="952.3" width="1.5" height="3"/>
<rect x="153.5" y="952.7" width="1.5" height="3"/>
<rect x="155" y="953.1" width="1.5" height="3"/>
<rect x="156.5" y="953.4" width="1.5" height="3"/>
<rect x="158" y="953.8" width="1.5" height="3"/>
<rect x="159.5" y="954.1" width="1.5" height="3"/>
<rect x="161" y="954.4" width="1.5" height="3"/>
<rect x="162.4" y="954.7" width="1.5" height="3"/>
<rect x="163.9" y="955" width="1.5" height="3"/>
<rect x="165.4" y="955.3" width="1.5" height="3"/>
<rect x="166.9" y="955.6" width="1.5" height="3"/>
<rect x="168.4" y="955.9" width="1.5" height="3"/>
<rect x="169.9" y="956.2" width="1.5" height="3"/>
<rect x="171.4" y="956.4" width="1.5" height="3"/>
<rect x="172.9" y="956.7" width="1.5" height="3"/>
<rect x="174.4" y="956.9" width="1.5" height="3"/>
<rect x="175.9" y="957.2" width="1.5" height="3"/>
<rect x="177.4" y="957.4" width="1.5" height="3"/>
<rect x="178.9" y="957.7" width="1.5" height="3"/>
<rect x="180.4" y="957.9" width="1.5" height="3"/>
<rect x="181.9" y="958.1" width="1.5" height="3"/>
<rect x="183.4" y="958.3" width="1.5" height="3"/>
<rect x="184.9" y="958.5" width="1.5" height="3"/>
<rect x="186.4" y="958.7" width="1.5" height="3"/>
<rect x="187.9" y="958.9" width="1.5" height="3"/>
<rect x="189.3" y="959.1" width="1.5" height="3"/>
<rect x="190.8" y="959.3" width="1.5" height="3"/>
<rect x="192.3" y="959.5" width="1.5" height="3"/>
<rect x="193.8" y="959.7" width="1.5" height="3"/>
<rect x="195.3" y="959.8" width="1.5" height="3"/>
<rect x="196.8" y="960" width="1.5" height="3"/>
<rect x="198.3" y="960.2" width="1.5" height="3"/>
<rect x="199.8" y="960.4" width="1.5" height="3"/>
<rect x="201.3" y="960.5" width="1.5" height="3"/>
<rect x="202.8" y="960.7" width="1.5" height="3"/>
<rect x="204.3" y="960.8" width="1.5" height="3"/>
<rect x="205.8" y="961" width="1.5" height="3"/>
<rect x="207.3" y="961.1" width="1.5" height="3"/>
<rect x="208.8" y="961.3" width="1.5" height="3"/>
<rect x="210.3" y="961.4" width="1.5" height="3"/>
<rect x="211.8" y="961.6" width="1.5" height="3"/>
<rect x="213.3" y="961.7" width="1.5" height="3"/>
<rect x="214.7" y="961.8" width="1.5" height="3"/>
<rect x="216.2" y="962" width="1.5" height="3"/>
<rect x="217.7" y="962.1" width="1.5" height="3"/>
<rect x="219.2" y="962.2" width="1.5" height="3"/>
<rect x="220.7" y="962.4" width="1.5" height="3"/>
<rect x="222.2" y="962.5" width="1.5" height="3"/>
<rect x="223.7" y="962.6" width="1.5" height="3"/>
<rect x="225.2" y="962.7" width="1.5" height="3"/>
<rect x="226.7" y="962.8" width="1.5" height="3"/>
<rect x="228.2" y="962.9" width="1.5" height="3"/>
<rect x="229.7" y="963.1" width="1.5" height="3"/>
<rect x="231.2" y="963.2" width="1.5" height="3"/>
<rect x="232.7" y="963.3" width="1.5" height="3"/>
<rect x="234.2" y="963.4" width="1.5" height="3"/>
<rect x="235.7" y="963.5" width="1.5" height="3"/>
<rect x="237.2" y="963.6" width="1.5" height="3"/>
<rect x="238.7" y="963.7" width="1.5" height="3"/>
<rect x="240.1" y="963.8" width="1.5" height="3"/>
<rect x="241.6" y="963.9" width="1.5" height="3"/>
<rect x="243.1" y="964" width="1.5" height="3"/>
<rect x="244.6" y="964.1" width="1.5" height="3"/>
<rect x="246.1" y="964.2" width="1.5" height="3"/>
<rect x="247.6" y="964.3" width="1.5" height="3"/>
<rect x="249.1" y="964.4" width="1.5" height="3"/>
<rect x="250.6" y="964.5" width="1.5" height="3"/>
<rect x="252.1" y="964.6" width="1.5" height="3"/>
</g>
<g fill="#1a8a22" stroke="#0a3a0a" stroke-width="0.5">
<path d="M107.9 925.3l2.1 3.7 -4.2 0z"/>
<path d="M109.4 927.5l2.1 3.7 -4.2 0z"/>
<path d="M110.9 929.5l2.1 3.7 -4.2 0z"/>
<path d="M112.4 931.3l2.1 3.7 -4.2 0z"/>
<path d="M113.9 933l2.1 3.7 -4.2 0z"/>
<path d="M115.4 934.5l2.1 3.7 -4.2 0z"/>
<path d="M116.9 935.9l2.1 3.7 -4.2 0z"/>
<path d="M118.4 937.2l2.1 3.7 -4.2 0z"/>
<path d="M119.9 938.5l2.1 3.7 -4.2 0z"/>
<path d="M121.4 939.6l2.1 3.7 -4.2 0z"/>
<path d="M122.9 940.6l2.1 3.7 -4.2 0z"/>
<path d="M124.3 941.6l2.1 3.7 -4.2 0z"/>
<path d="M125.8 942.6l2.1 3.7 -4.2 0z"/>
<path d="M127.3 943.4l2.1 3.7 -4.2 0z"/>
<path d="M128.8 944.3l2.1 3.7 -4.2 0z"/>
<path d="M130.3 945l2.1 3.7 -4.2 0z"/>
<path d="M131.8 945.8l2.1 3.7 -4.2 0z"/>
<path d="M133.3 946.5l2.1 3.7 -4.2 0z"/>
<path d="M134.8 947.2l2.1 3.7 -4.2 0z"/>
<path d="M136.3 947.8l2.1 3.7 -4.2 0z"/>
<path d="M137.8 948.4l2.1 3.7 -4.2 0z"/>
<path d="M139.3 949l2.1 3.7 -4.2 0z"/>
<path d="M140.8 949.5l2.1 3.7 -4.2 0z"/>
<path d="M142.3 950l2.1 3.7 -4.2 0z"/>
<path d="M143.8 950.6l2.1 3.7 -4.2 0z"/>
<path d="M145.3 951l2.1 3.7 -4.2 0z"/>
<path d="M146.8 951.5l2.1 3.7 -4.2 0z"/>
<path d="M148.3 952l2.1 3.7 -4.2 0z"/>
<path d="M149.8 952.4l2.1 3.7 -4.2 0z"/>
<path d="M151.2 952.8l2.1 3.7 -4.2 0z"/>
<path d="M152.7 953.2l2.1 3.7 -4.2 0z"/>
<path d="M154.2 953.6l2.1 3.7 -4.2 0z"/>
<path d="M155.7 954l2.1 3.7 -4.2 0z"/>
<path d="M157.2 954.3l2.1 3.7 -4.2 0z"/>
<path d="M158.7 954.7l2.1 3.7 -4.2 0z"/>
<path d="M160.2 955l2.1 3.7 -4.2 0z"/>
<path d="M161.7 955.3l2.1 3.7 -4.2 0z"/>
<path d="M163.2 955.6l2.1 3.7 -4.2 0z"/>
<path d="M164.7 955.9l2.1 3.7 -4.2 0z"/>
<path d="M166.2 956.2l2.1 3.7 -4.2 0z"/>
<path d="M167.7 956.5l2.1 3.7 -4.2 0z"/>
<path d="M169.2 956.8l2.1 3.7 -4.2 0z"/>
<path d="M170.7 957.1l2.1 3.7 -4.2 0z"/>
<path d="M172.2 957.3l2.1 3.7 -4.2 0z"/>
<path d="M173.7 957.6l2.1 3.7 -4.2 0z"/>
<path d="M175.2 957.8l2.1 3.7 -4.2 0z"/>
<path d="M176.6 958.1l2.1 3.7 -4.2 0z"/>
<path d="M178.1 958.3l2.1 3.7 -4.2 0z"/>
<path d="M179.6 958.6l2.1 3.7 -4.2 0z"/>
<path d="M181.1 958.8l2.1 3.7 -4.2 0z"/>
<path d="M182.6 959l2.1 3.7 -4.2 0z"/>
<path d="M184.1 959.2l2.1 3.7 -4.2 0z"/>
<path d="M185.6 959.4l2.1 3.7 -4.2 0z"/>
<path d="M187.1 959.6l2.1 3.7 -4.2 0z"/>
<path d="M188.6 959.8l2.1 3.7 -4.2 0z"/>
<path d="M190.1 960l2.1 3.7 -4.2 0z"/>
<path d="M191.6 960.2l2.1 3.7 -4.2 0z"/>
<path d="M193.1 960.4l2.1 3.7 -4.2 0z"/>
<path d="M194.6 960.6l2.1 3.7 -4.2 0z"/>
<path d="M196.1 960.7l2.1 3.7 -4.2 0z"/>
<path d="M197.6 960.9l2.1 3.7 -4.2 0z"/>
<path d="M199.1 961.1l2.1 3.7 -4.2 0z"/>
<path d="M200.6 961.3l2.1 3.7 -4.2 0z"/>
<path d="M202 961.4l2.1 3.7 -4.2 0z"/>
<path d="M203.5 961.6l2.1 3.7 -4.2 0z"/>
<path d="M205 961.7l2.1 3.7 -4.2 0z"/>
<path d="M206.5 961.9l2.1 3.7 -4.2 0z"/>
<path d="M208 962l2.1 3.7 -4.2 0z"/>
<path d="M209.5 962.2l2.1 3.7 -4.2 0z"/>
<path d="M211 962.3l2.1 3.7 -4.2 0z"/>
<path d="M212.5 962.5l2.1 3.7 -4.2 0z"/>
<path d="M214 962.6l2.1 3.7 -4.2 0z"/>
<path d="M215.5 962.7l2.1 3.7 -4.2 0z"/>
<path d="M217 962.9l2.1 3.7 -4.2 0z"/>
<path d="M218.5 963l2.1 3.7 -4.2 0z"/>
<path d="M220 963.1l2.1 3.7 -4.2 0z"/>
<path d="M221.5 963.3l2.1 3.7 -4.2 0z"/>
<path d="M223 963.4l2.1 3.7 -4.2 0z"/>
<path d="M224.5 963.5l2.1 3.7 -4.2 0z"/>
<path d="M226 963.6l2.1 3.7 -4.2 0z"/>
<path d="M227.4 963.7l2.1 3.7 -4.2 0z"/>
<path d="M228.9 963.8l2.1 3.7 -4.2 0z"/>
<path d="M230.4 964l2.1 3.7 -4.2 0z"/>
<path d="M231.9 964.1l2.1 3.7 -4.2 0z"/>
<path d="M233.4 964.2l2.1 3.7 -4.2 0z"/>
<path d="M234.9 964.3l2.1 3.7 -4.2 0z"/>
<path d="M236.4 964.4l2.1 3.7 -4.2 0z"/>
<path d="M237.9 964.5l2.1 3.7 -4.2 0z"/>
<path d="M239.4 964.6l2.1 3.7 -4.2 0z"/>
<path d="M240.9 964.7l2.1 3.7 -4.2 0z"/>
<path d="M242.4 964.8l2.1 3.7 -4.2 0z"/>
<path d="M243.9 964.9l2.1 3.7 -4.2 0z"/>
<path d="M245.4 965l2.1 3.7 -4.2 0z"/>
<path d="M246.9 965.1l2.1 3.7 -4.2 0z"/>
<path d="M248.4 965.2l2.1 3.7 -4.2 0z"/>
<path d="M249.9 965.3l2.1 3.7 -4.2 0z"/>
<path d="M251.4 965.4l2.1 3.7 -4.2 0z"/>
<path d="M252.9 965.5l2.1 3.7 -4.2 0z"/>
</g>
<g fill="#bbb" stroke="#444" stroke-width="0.45">
<rect x="107.2" y="920.3" width="1.5" height="3.2"/>
<rect x="108.7" y="922.6" width="1.5" height="3.2"/>
<rect x="110.2" y="924.7" width="1.5" height="3.2"/>
<rect x="111.6" y="926.5" width="1.5" height="3.2"/>
<rect x="113.1" y="928.2" width="1.5" height="3.2"/>
<rect x="114.6" y="929.8" width="1.5" height="3.2"/>
<rect x="116.1" y="931.2" width="1.5" height="3.2"/>
<rect x="117.6" y="932.5" width="1.5" height="3.2"/>
<rect x="119.1" y="933.6" width="1.5" height="3.2"/>
<rect x="120.6" y="934.8" width="1.5" height="3.2"/>
<rect x="122.1" y="935.8" width="1.5" height="3.2"/>
<rect x="123.6" y="936.7" width="1.5" height="3.2"/>
<rect x="125.1" y="937.6" width="1.5" height="3.2"/>
<rect x="126.6" y="938.5" width="1.5" height="3.2"/>
<rect x="128.1" y="939.2" width="1.5" height="3.2"/>
<rect x="129.6" y="940" width="1.5" height="3.2"/>
<rect x="131.1" y="940.7" width="1.5" height="3.2"/>
<rect x="132.6" y="941.3" width="1.5" height="3.2"/>
<rect x="134.1" y="941.9" width="1.5" height="3.2"/>
<rect x="135.6" y="942.5" width="1.5" height="3.2"/>
<rect x="137" y="943.1" width="1.5" height="3.2"/>
<rect x="138.5" y="943.6" width="1.5" height="3.2"/>
<rect x="140" y="944.1" width="1.5" height="3.2"/>
<rect x="141.5" y="944.6" width="1.5" height="3.2"/>
<rect x="143" y="945" width="1.5" height="3.2"/>
<rect x="144.5" y="945.5" width="1.5" height="3.2"/>
<rect x="146" y="945.9" width="1.5" height="3.2"/>
<rect x="147.5" y="946.3" width="1.5" height="3.2"/>
<rect x="149" y="946.7" width="1.5" height="3.2"/>
<rect x="150.5" y="947" width="1.5" height="3.2"/>
<rect x="152" y="947.4" width="1.5" height="3.2"/>
<rect x="153.5" y="947.7" width="1.5" height="3.2"/>
<rect x="155" y="948.1" width="1.5" height="3.2"/>
<rect x="156.5" y="948.4" width="1.5" height="3.2"/>
<rect x="158" y="948.7" width="1.5" height="3.2"/>
<rect x="159.5" y="949" width="1.5" height="3.2"/>
<rect x="161" y="949.2" width="1.5" height="3.2"/>
<rect x="162.4" y="949.5" width="1.5" height="3.2"/>
<rect x="163.9" y="949.8" width="1.5" height="3.2"/>
<rect x="165.4" y="950" width="1.5" height="3.2"/>
<rect x="166.9" y="950.3" width="1.5" height="3.2"/>
<rect x="168.4" y="950.5" width="1.5" height="3.2"/>
<rect x="169.9" y="950.7" width="1.5" height="3.2"/>
<rect x="171.4" y="951" width="1.5" height="3.2"/>
<rect x="172.9" y="951.2" width="1.5" height="3.2"/>
<rect x="174.4" y="951.4" width="1.5" height="3.2"/>
<rect x="175.9" y="951.6" width="1.5" height="3.2"/>
<rect x="177.4" y="951.8" width="1.5" height="3.2"/>
<rect x="178.9" y="952" width="1.5" height="3.2"/>
<rect x="180.4" y="952.2" width="1.5" height="3.2"/>
<rect x="181.9" y="952.4" width="1.5" height="3.2"/>
<rect x="183.4" y="952.5" width="1.5" height="3.2"/>
<rect x="184.9" y="952.7" width="1.5" height="3.2"/>
<rect x="186.4" y="952.9" width="1.5" height="3.2"/>
<rect x="187.9" y="953" width="1.5" height="3.2"/>
<rect x="189.3" y="953.2" width="1.5" height="3.2"/>
<rect x="190.8" y="953.3" width="1.5" height="3.2"/>
</g>
<g fill="#5a2cc8" stroke="#22105a" stroke-width="0.5">
<path d="M107.9 921.4l2.1 3.7 -4.2 0z"/>
<path d="M109.4 923.7l2.1 3.7 -4.2 0z"/>
<path d="M110.9 925.8l2.1 3.7 -4.2 0z"/>
<path d="M112.4 927.6l2.1 3.7 -4.2 0z"/>
<path d="M113.9 929.3l2.1 3.7 -4.2 0z"/>
<path d="M115.4 930.9l2.1 3.7 -4.2 0z"/>
<path d="M116.9 932.3l2.1 3.7 -4.2 0z"/>
<path d="M118.4 933.6l2.1 3.7 -4.2 0z"/>
<path d="M119.9 934.7l2.1 3.7 -4.2 0z"/>
<path d="M121.4 935.9l2.1 3.7 -4.2 0z"/>
<path d="M122.9 936.9l2.1 3.7 -4.2 0z"/>
<path d="M124.3 937.8l2.1 3.7 -4.2 0z"/>
<path d="M125.8 938.7l2.1 3.7 -4.2 0z"/>
<path d="M127.3 939.6l2.1 3.7 -4.2 0z"/>
<path d="M128.8 940.3l2.1 3.7 -4.2 0z"/>
<path d="M130.3 941.1l2.1 3.7 -4.2 0z"/>
<path d="M131.8 941.8l2.1 3.7 -4.2 0z"/>
<path d="M133.3 942.4l2.1 3.7 -4.2 0z"/>
<path d="M134.8 943l2.1 3.7 -4.2 0z"/>
<path d="M136.3 943.6l2.1 3.7 -4.2 0z"/>
<path d="M137.8 944.2l2.1 3.7 -4.2 0z"/>
<path d="M139.3 944.7l2.1 3.7 -4.2 0z"/>
<path d="M140.8 945.2l2.1 3.7 -4.2 0z"/>
<path d="M142.3 945.7l2.1 3.7 -4.2 0z"/>
<path d="M143.8 946.1l2.1 3.7 -4.2 0z"/>
<path d="M145.3 946.6l2.1 3.7 -4.2 0z"/>
<path d="M146.8 947l2.1 3.7 -4.2 0z"/>
<path d="M148.3 947.4l2.1 3.7 -4.2 0z"/>
<path d="M149.8 947.8l2.1 3.7 -4.2 0z"/>
<path d="M151.2 948.1l2.1 3.7 -4.2 0z"/>
<path d="M152.7 948.5l2.1 3.7 -4.2 0z"/>
<path d="M154.2 948.8l2.1 3.7 -4.2 0z"/>
<path d="M155.7 949.2l2.1 3.7 -4.2 0z"/>
<path d="M157.2 949.5l2.1 3.7 -4.2 0z"/>
<path d="M158.7 949.8l2.1 3.7 -4.2 0z"/>
<path d="M160.2 950.1l2.1 3.7 -4.2 0z"/>
<path d="M161.7 950.3l2.1 3.7 -4.2 0z"/>
<path d="M163.2 950.6l2.1 3.7 -4.2 0z"/>
<path d="M164.7 950.9l2.1 3.7 -4.2 0z"/>
<path d="M166.2 951.1l2.1 3.7 -4.2 0z"/>
<path d="M167.7 951.4l2.1 3.7 -4.2 0z"/>
<path d="M169.2 951.6l2.1 3.7 -4.2 0z"/>
<path d="M170.7 951.8l2.1 3.7 -4.2 0z"/>
<path d="M172.2 952.1l2.1 3.7 -4.2 0z"/>
<path d="M173.7 952.3l2.1 3.7 -4.2 0z"/>
<path d="M175.2 952.5l2.1 3.7 -4.2 0z"/>
<path d="M176.6 952.7l2.1 3.7 -4.2 0z"/>
<path d="M178.1 952.9l2.1 3.7 -4.2 0z"/>
<path d="M179.6 953.1l2.1 3.7 -4.2 0z"/>
<path d="M181.1 953.3l2.1 3.7 -4.2 0z"/>
<path d="M182.6 953.5l2.1 3.7 -4.2 0z"/>
<path d="M184.1 953.6l2.1 3.7 -4.2 0z"/>
<path d="M185.6 953.8l2.1 3.7 -4.2 0z"/>
<path d="M187.1 954l2.1 3.7 -4.2 0z"/>
<path d="M188.6 954.1l2.1 3.7 -4.2 0z"/>
<path d="M190.1 954.3l2.1 3.7 -4.2 0z"/>
<path d="M191.6 954.4l2.1 3.7 -4.2 0z"/>
</g>
<rect x="222.8" y="813.5" width="139" height="62.8" fill="#fff" stroke="#555" stroke-width="0.8"/>
<text x="241.4" y="821.9" font-size="6.6" textLength="59.4" lengthAdjust="spacingAndGlyphs" fill="#333">Bacterial sequences</text>
<text x="241.4" y="832.1" font-size="6.6" textLength="77.2" lengthAdjust="spacingAndGlyphs" fill="#333">Partial genome sequences</text>
<text x="241.4" y="842" font-size="6.6" textLength="103.3" lengthAdjust="spacingAndGlyphs" fill="#333">Bacterial sequences &gt;100 residues</text>
<text x="241.4" y="852" font-size="6.6" textLength="106.3" lengthAdjust="spacingAndGlyphs" fill="#333">Partial genome sequences &gt; 300 bp</text>
<text x="241.4" y="861.9" font-size="6.6" textLength="107.5" lengthAdjust="spacingAndGlyphs" fill="#333">Bacterial sequences - strains filtered</text>
<text x="241.4" y="871.9" font-size="6.6" textLength="110" lengthAdjust="spacingAndGlyphs" fill="#333">Bacterial sequences - species filtered</text>
<circle cx="230.4" cy="819.5" r="2.5" fill="#1c2cd0" stroke="#0a0a55" stroke-width="0.5"/>
<circle cx="230.4" cy="829.7" r="2.5" fill="#c81212" stroke="#5a0000" stroke-width="0.5"/>
<path d="M230.4 837l2.6 2.6 -2.6 2.6 -2.6 -2.6z" fill="#8fe0c0" stroke="#2a8a6a" stroke-width="0.6"/>
<path d="M230.4 847l2.6 2.6 -2.6 2.6 -2.6 -2.6z" fill="#e8952a" stroke="#8a5010" stroke-width="0.6"/>
<path d="M230.4 857.1l2.7 4.7 -5.4 0z" fill="#1a8a2a" stroke="#0a3a0a" stroke-width="0.5"/>
<path d="M230.4 867.1l2.7 4.7 -5.4 0z" fill="#5a3ac8" stroke="#22105a" stroke-width="0.5"/>
<g fill="#d4d4d4" stroke="#555" stroke-width="0.45">
<rect x="484.4" y="868.7" width="1.5" height="5"/>
<rect x="485.9" y="869.9" width="1.5" height="5"/>
<rect x="487.4" y="871" width="1.5" height="5"/>
<rect x="488.8" y="872.1" width="1.5" height="5"/>
<rect x="490.3" y="873" width="1.5" height="5"/>
<rect x="491.8" y="873.9" width="1.5" height="5"/>
<rect x="493.3" y="874.8" width="1.5" height="5"/>
<rect x="494.8" y="875.6" width="1.5" height="5"/>
<rect x="496.3" y="876.3" width="1.5" height="5"/>
<rect x="497.7" y="877" width="1.5" height="5"/>
<rect x="499.2" y="877.7" width="1.5" height="5"/>
<rect x="500.7" y="878.3" width="1.5" height="5"/>
<rect x="502.2" y="878.9" width="1.5" height="5"/>
<rect x="503.7" y="879.5" width="1.5" height="5"/>
<rect x="505.2" y="880.1" width="1.5" height="5"/>
<rect x="506.6" y="880.6" width="1.5" height="5"/>
<rect x="508.1" y="881.1" width="1.5" height="5"/>
<rect x="509.6" y="881.6" width="1.5" height="5"/>
<rect x="511.1" y="882.1" width="1.5" height="5"/>
<rect x="512.6" y="882.6" width="1.5" height="5"/>
<rect x="514.1" y="883" width="1.5" height="5"/>
<rect x="515.5" y="883.4" width="1.5" height="5"/>
<rect x="517" y="883.9" width="1.5" height="5"/>
<rect x="518.5" y="884.2" width="1.5" height="5"/>
<rect x="520" y="884.6" width="1.5" height="5"/>
<rect x="521.5" y="885" width="1.5" height="5"/>
<rect x="523" y="885.4" width="1.5" height="5"/>
<rect x="524.4" y="885.7" width="1.5" height="5"/>
<rect x="525.9" y="886.1" width="1.5" height="5"/>
<rect x="527.4" y="886.4" width="1.5" height="5"/>
<rect x="528.9" y="886.7" width="1.5" height="5"/>
<rect x="530.4" y="887" width="1.5" height="5"/>
<rect x="531.9" y="887.3" width="1.5" height="5"/>
<rect x="533.3" y="887.6" width="1.5" height="5"/>
<rect x="534.8" y="887.9" width="1.5" height="5"/>
<rect x="536.3" y="888.2" width="1.5" height="5"/>
<rect x="537.8" y="888.5" width="1.5" height="5"/>
<rect x="539.3" y="888.8" width="1.5" height="5"/>
<rect x="540.8" y="889" width="1.5" height="5"/>
<rect x="542.2" y="889.3" width="1.5" height="5"/>
<rect x="543.7" y="889.5" width="1.5" height="5"/>
<rect x="545.2" y="889.8" width="1.5" height="5"/>
<rect x="546.7" y="890" width="1.5" height="5"/>
<rect x="548.2" y="890.2" width="1.5" height="5"/>
<rect x="549.7" y="890.5" width="1.5" height="5"/>
<rect x="551.1" y="890.7" width="1.5" height="5"/>
<rect x="552.6" y="890.9" width="1.5" height="5"/>
<rect x="554.1" y="891.1" width="1.5" height="5"/>
<rect x="555.6" y="891.4" width="1.5" height="5"/>
<rect x="557.1" y="891.6" width="1.5" height="5"/>
<rect x="558.6" y="891.8" width="1.5" height="5"/>
<rect x="560" y="892" width="1.5" height="5"/>
<rect x="561.5" y="892.2" width="1.5" height="5"/>
<rect x="563" y="892.4" width="1.5" height="5"/>
<rect x="564.5" y="892.5" width="1.5" height="5"/>
<rect x="566" y="892.7" width="1.5" height="5"/>
<rect x="567.5" y="892.9" width="1.5" height="5"/>
<rect x="568.9" y="893.1" width="1.5" height="5"/>
<rect x="570.4" y="893.3" width="1.5" height="5"/>
<rect x="571.9" y="893.4" width="1.5" height="5"/>
<rect x="573.4" y="893.6" width="1.5" height="5"/>
<rect x="574.9" y="893.8" width="1.5" height="5"/>
<rect x="576.4" y="893.9" width="1.5" height="5"/>
<rect x="577.8" y="894.1" width="1.5" height="5"/>
<rect x="579.3" y="894.3" width="1.5" height="5"/>
<rect x="580.8" y="894.4" width="1.5" height="5"/>
<rect x="582.3" y="894.6" width="1.5" height="5"/>
<rect x="583.8" y="894.7" width="1.5" height="5"/>
<rect x="585.3" y="894.9" width="1.5" height="5"/>
<rect x="586.7" y="895" width="1.5" height="5"/>
<rect x="588.2" y="895.2" width="1.5" height="5"/>
<rect x="589.7" y="895.3" width="1.5" height="5"/>
<rect x="591.2" y="895.5" width="1.5" height="5"/>
<rect x="592.7" y="895.6" width="1.5" height="5"/>
<rect x="594.2" y="895.7" width="1.5" height="5"/>
<rect x="595.6" y="895.9" width="1.5" height="5"/>
<rect x="597.1" y="896" width="1.5" height="5"/>
<rect x="598.6" y="896.1" width="1.5" height="5"/>
<rect x="600.1" y="896.3" width="1.5" height="5"/>
<rect x="601.6" y="896.4" width="1.5" height="5"/>
<rect x="603" y="896.5" width="1.5" height="5"/>
<rect x="604.5" y="896.7" width="1.5" height="5"/>
<rect x="606" y="896.8" width="1.5" height="5"/>
<rect x="607.5" y="896.9" width="1.5" height="5"/>
<rect x="609" y="897" width="1.5" height="5"/>
<rect x="610.5" y="897.1" width="1.5" height="5"/>
<rect x="611.9" y="897.3" width="1.5" height="5"/>
<rect x="613.4" y="897.4" width="1.5" height="5"/>
<rect x="614.9" y="897.5" width="1.5" height="5"/>
<rect x="616.4" y="897.6" width="1.5" height="5"/>
<rect x="617.9" y="897.7" width="1.5" height="5"/>
<rect x="619.4" y="897.8" width="1.5" height="5"/>
<rect x="620.8" y="897.9" width="1.5" height="5"/>
<rect x="622.3" y="898" width="1.5" height="5"/>
<rect x="623.8" y="898.1" width="1.5" height="5"/>
<rect x="625.3" y="898.3" width="1.5" height="5"/>
<rect x="626.8" y="898.4" width="1.5" height="5"/>
<rect x="628.3" y="898.5" width="1.5" height="5"/>
<rect x="629.7" y="898.6" width="1.5" height="5"/>
<rect x="631.2" y="898.7" width="1.5" height="5"/>
<rect x="632.7" y="898.8" width="1.5" height="5"/>
<rect x="634.2" y="898.9" width="1.5" height="5"/>
<rect x="635.7" y="899" width="1.5" height="5"/>
<rect x="637.2" y="899.1" width="1.5" height="5"/>
<rect x="638.6" y="899.2" width="1.5" height="5"/>
<rect x="640.1" y="899.3" width="1.5" height="5"/>
<rect x="641.6" y="899.3" width="1.5" height="5"/>
<rect x="643.1" y="899.4" width="1.5" height="5"/>
<rect x="644.6" y="899.5" width="1.5" height="5"/>
<rect x="646.1" y="899.6" width="1.5" height="5"/>
<rect x="647.5" y="899.7" width="1.5" height="5"/>
<rect x="649" y="899.8" width="1.5" height="5"/>
<rect x="650.5" y="899.9" width="1.5" height="5"/>
<rect x="652" y="900" width="1.5" height="5"/>
<rect x="653.5" y="900.1" width="1.5" height="5"/>
<rect x="655" y="900.2" width="1.5" height="5"/>
<rect x="656.4" y="900.2" width="1.5" height="5"/>
<rect x="657.9" y="900.3" width="1.5" height="5"/>
<rect x="659.4" y="900.4" width="1.5" height="5"/>
<rect x="660.9" y="900.5" width="1.5" height="5"/>
<rect x="662.4" y="900.6" width="1.5" height="5"/>
<rect x="663.9" y="900.7" width="1.5" height="5"/>
<rect x="665.3" y="900.7" width="1.5" height="5"/>
<rect x="666.8" y="900.8" width="1.5" height="5"/>
<rect x="668.3" y="900.9" width="1.5" height="5"/>
<rect x="669.8" y="901" width="1.5" height="5"/>
<rect x="671.3" y="901" width="1.5" height="5"/>
<rect x="672.8" y="901.1" width="1.5" height="5"/>
<rect x="674.2" y="901.2" width="1.5" height="5"/>
<rect x="675.7" y="901.3" width="1.5" height="5"/>
<rect x="677.2" y="901.4" width="1.5" height="5"/>
<rect x="678.7" y="901.4" width="1.5" height="5"/>
<rect x="680.2" y="901.5" width="1.5" height="5"/>
<rect x="681.7" y="901.6" width="1.5" height="5"/>
<rect x="683.1" y="901.6" width="1.5" height="5"/>
<rect x="684.6" y="901.7" width="1.5" height="5"/>
<rect x="686.1" y="901.8" width="1.5" height="5"/>
<rect x="687.6" y="901.9" width="1.5" height="5"/>
<rect x="689.1" y="901.9" width="1.5" height="5"/>
<rect x="690.6" y="902" width="1.5" height="5"/>
<rect x="692" y="902.1" width="1.5" height="5"/>
<rect x="693.5" y="902.1" width="1.5" height="5"/>
<rect x="695" y="902.2" width="1.5" height="5"/>
<rect x="696.5" y="902.3" width="1.5" height="5"/>
<rect x="698" y="902.3" width="1.5" height="5"/>
<rect x="699.5" y="902.4" width="1.5" height="5"/>
<rect x="700.9" y="902.5" width="1.5" height="5"/>
<rect x="702.4" y="902.5" width="1.5" height="5"/>
<rect x="703.9" y="902.6" width="1.5" height="5"/>
<rect x="705.4" y="902.7" width="1.5" height="5"/>
<rect x="706.9" y="902.7" width="1.5" height="5"/>
<rect x="708.4" y="902.8" width="1.5" height="5"/>
<rect x="709.8" y="902.9" width="1.5" height="5"/>
<rect x="711.3" y="902.9" width="1.5" height="5"/>
<rect x="712.8" y="903" width="1.5" height="5"/>
<rect x="714.3" y="903" width="1.5" height="5"/>
<rect x="715.8" y="903.1" width="1.5" height="5"/>
<rect x="717.3" y="903.2" width="1.5" height="5"/>
<rect x="718.7" y="903.2" width="1.5" height="5"/>
<rect x="720.2" y="903.3" width="1.5" height="5"/>
<rect x="721.7" y="903.3" width="1.5" height="5"/>
<rect x="723.2" y="903.4" width="1.5" height="5"/>
</g>
<g fill="#c81212" stroke="#5a0000" stroke-width="0.5">
<circle cx="485.1" cy="873.7" r="2.3"/>
<circle cx="486.6" cy="874.9" r="2.3"/>
<circle cx="488.1" cy="876" r="2.3"/>
<circle cx="489.6" cy="877.1" r="2.3"/>
<circle cx="491.1" cy="878" r="2.3"/>
<circle cx="492.6" cy="878.9" r="2.3"/>
<circle cx="494" cy="879.8" r="2.3"/>
<circle cx="495.5" cy="880.6" r="2.3"/>
<circle cx="497" cy="881.3" r="2.3"/>
<circle cx="498.5" cy="882" r="2.3"/>
<circle cx="500" cy="882.7" r="2.3"/>
<circle cx="501.5" cy="883.3" r="2.3"/>
<circle cx="502.9" cy="883.9" r="2.3"/>
<circle cx="504.4" cy="884.5" r="2.3"/>
<circle cx="505.9" cy="885.1" r="2.3"/>
<circle cx="507.4" cy="885.6" r="2.3"/>
<circle cx="508.9" cy="886.1" r="2.3"/>
<circle cx="510.4" cy="886.6" r="2.3"/>
<circle cx="511.8" cy="887.1" r="2.3"/>
<circle cx="513.3" cy="887.6" r="2.3"/>
<circle cx="514.8" cy="888" r="2.3"/>
<circle cx="516.3" cy="888.4" r="2.3"/>
<circle cx="517.8" cy="888.9" r="2.3"/>
<circle cx="519.3" cy="889.2" r="2.3"/>
<circle cx="520.7" cy="889.6" r="2.3"/>
<circle cx="522.2" cy="890" r="2.3"/>
<circle cx="523.7" cy="890.4" r="2.3"/>
<circle cx="525.2" cy="890.7" r="2.3"/>
<circle cx="526.7" cy="891.1" r="2.3"/>
<circle cx="528.2" cy="891.4" r="2.3"/>
<circle cx="529.6" cy="891.7" r="2.3"/>
<circle cx="531.1" cy="892" r="2.3"/>
<circle cx="532.6" cy="892.3" r="2.3"/>
<circle cx="534.1" cy="892.6" r="2.3"/>
<circle cx="535.6" cy="892.9" r="2.3"/>
<circle cx="537.1" cy="893.2" r="2.3"/>
<circle cx="538.5" cy="893.5" r="2.3"/>
<circle cx="540" cy="893.8" r="2.3"/>
<circle cx="541.5" cy="894" r="2.3"/>
<circle cx="543" cy="894.3" r="2.3"/>
<circle cx="544.5" cy="894.5" r="2.3"/>
<circle cx="546" cy="894.8" r="2.3"/>
<circle cx="547.4" cy="895" r="2.3"/>
<circle cx="548.9" cy="895.2" r="2.3"/>
<circle cx="550.4" cy="895.5" r="2.3"/>
<circle cx="551.9" cy="895.7" r="2.3"/>
<circle cx="553.4" cy="895.9" r="2.3"/>
<circle cx="554.9" cy="896.1" r="2.3"/>
<circle cx="556.3" cy="896.4" r="2.3"/>
<circle cx="557.8" cy="896.6" r="2.3"/>
<circle cx="559.3" cy="896.8" r="2.3"/>
<circle cx="560.8" cy="897" r="2.3"/>
<circle cx="562.3" cy="897.2" r="2.3"/>
<circle cx="563.8" cy="897.4" r="2.3"/>
<circle cx="565.2" cy="897.5" r="2.3"/>
<circle cx="566.7" cy="897.7" r="2.3"/>
<circle cx="568.2" cy="897.9" r="2.3"/>
<circle cx="569.7" cy="898.1" r="2.3"/>
<circle cx="571.2" cy="898.3" r="2.3"/>
<circle cx="572.7" cy="898.4" r="2.3"/>
<circle cx="574.1" cy="898.6" r="2.3"/>
<circle cx="575.6" cy="898.8" r="2.3"/>
<circle cx="577.1" cy="898.9" r="2.3"/>
<circle cx="578.6" cy="899.1" r="2.3"/>
<circle cx="580.1" cy="899.3" r="2.3"/>
<circle cx="581.6" cy="899.4" r="2.3"/>
<circle cx="583" cy="899.6" r="2.3"/>
<circle cx="584.5" cy="899.7" r="2.3"/>
<circle cx="586" cy="899.9" r="2.3"/>
<circle cx="587.5" cy="900" r="2.3"/>
<circle cx="589" cy="900.2" r="2.3"/>
<circle cx="590.5" cy="900.3" r="2.3"/>
<circle cx="591.9" cy="900.5" r="2.3"/>
<circle cx="593.4" cy="900.6" r="2.3"/>
<circle cx="594.9" cy="900.7" r="2.3"/>
<circle cx="596.4" cy="900.9" r="2.3"/>
<circle cx="597.9" cy="901" r="2.3"/>
<circle cx="599.4" cy="901.1" r="2.3"/>
<circle cx="600.8" cy="901.3" r="2.3"/>
<circle cx="602.3" cy="901.4" r="2.3"/>
<circle cx="603.8" cy="901.5" r="2.3"/>
<circle cx="605.3" cy="901.7" r="2.3"/>
<circle cx="606.8" cy="901.8" r="2.3"/>
<circle cx="608.2" cy="901.9" r="2.3"/>
<circle cx="609.7" cy="902" r="2.3"/>
<circle cx="611.2" cy="902.1" r="2.3"/>
<circle cx="612.7" cy="902.3" r="2.3"/>
<circle cx="614.2" cy="902.4" r="2.3"/>
<circle cx="615.7" cy="902.5" r="2.3"/>
<circle cx="617.1" cy="902.6" r="2.3"/>
<circle cx="618.6" cy="902.7" r="2.3"/>
<circle cx="620.1" cy="902.8" r="2.3"/>
<circle cx="621.6" cy="902.9" r="2.3"/>
<circle cx="623.1" cy="903" r="2.3"/>
<circle cx="624.6" cy="903.1" r="2.3"/>
<circle cx="626" cy="903.3" r="2.3"/>
<circle cx="627.5" cy="903.4" r="2.3"/>
<circle cx="629" cy="903.5" r="2.3"/>
<circle cx="630.5" cy="903.6" r="2.3"/>
<circle cx="632" cy="903.7" r="2.3"/>
<circle cx="633.5" cy="903.8" r="2.3"/>
<circle cx="634.9" cy="903.9" r="2.3"/>
<circle cx="636.4" cy="904" r="2.3"/>
<circle cx="637.9" cy="904.1" r="2.3"/>
<circle cx="639.4" cy="904.2" r="2.3"/>
<circle cx="640.9" cy="904.3" r="2.3"/>
<circle cx="642.4" cy="904.3" r="2.3"/>
<circle cx="643.8" cy="904.4" r="2.3"/>
<circle cx="645.3" cy="904.5" r="2.3"/>
<circle cx="646.8" cy="904.6" r="2.3"/>
<circle cx="648.3" cy="904.7" r="2.3"/>
<circle cx="649.8" cy="904.8" r="2.3"/>
<circle cx="651.3" cy="904.9" r="2.3"/>
<circle cx="652.7" cy="905" r="2.3"/>
<circle cx="654.2" cy="905.1" r="2.3"/>
<circle cx="655.7" cy="905.2" r="2.3"/>
<circle cx="657.2" cy="905.2" r="2.3"/>
<circle cx="658.7" cy="905.3" r="2.3"/>
<circle cx="660.2" cy="905.4" r="2.3"/>
<circle cx="661.6" cy="905.5" r="2.3"/>
<circle cx="663.1" cy="905.6" r="2.3"/>
<circle cx="664.6" cy="905.7" r="2.3"/>
<circle cx="666.1" cy="905.7" r="2.3"/>
<circle cx="667.6" cy="905.8" r="2.3"/>
<circle cx="669.1" cy="905.9" r="2.3"/>
<circle cx="670.5" cy="906" r="2.3"/>
<circle cx="672" cy="906" r="2.3"/>
<circle cx="673.5" cy="906.1" r="2.3"/>
<circle cx="675" cy="906.2" r="2.3"/>
<circle cx="676.5" cy="906.3" r="2.3"/>
<circle cx="678" cy="906.4" r="2.3"/>
<circle cx="679.4" cy="906.4" r="2.3"/>
<circle cx="680.9" cy="906.5" r="2.3"/>
<circle cx="682.4" cy="906.6" r="2.3"/>
<circle cx="683.9" cy="906.6" r="2.3"/>
<circle cx="685.4" cy="906.7" r="2.3"/>
<circle cx="686.9" cy="906.8" r="2.3"/>
<circle cx="688.3" cy="906.9" r="2.3"/>
<circle cx="689.8" cy="906.9" r="2.3"/>
<circle cx="691.3" cy="907" r="2.3"/>
<circle cx="692.8" cy="907.1" r="2.3"/>
<circle cx="694.3" cy="907.1" r="2.3"/>
<circle cx="695.8" cy="907.2" r="2.3"/>
<circle cx="697.2" cy="907.3" r="2.3"/>
<circle cx="698.7" cy="907.3" r="2.3"/>
<circle cx="700.2" cy="907.4" r="2.3"/>
<circle cx="701.7" cy="907.5" r="2.3"/>
<circle cx="703.2" cy="907.5" r="2.3"/>
<circle cx="704.7" cy="907.6" r="2.3"/>
<circle cx="706.1" cy="907.7" r="2.3"/>
<circle cx="707.6" cy="907.7" r="2.3"/>
<circle cx="709.1" cy="907.8" r="2.3"/>
<circle cx="710.6" cy="907.9" r="2.3"/>
<circle cx="712.1" cy="907.9" r="2.3"/>
<circle cx="713.6" cy="908" r="2.3"/>
<circle cx="715" cy="908" r="2.3"/>
<circle cx="716.5" cy="908.1" r="2.3"/>
<circle cx="718" cy="908.2" r="2.3"/>
<circle cx="719.5" cy="908.2" r="2.3"/>
<circle cx="721" cy="908.3" r="2.3"/>
<circle cx="722.5" cy="908.3" r="2.3"/>
<circle cx="723.9" cy="908.4" r="2.3"/>
</g>
<g fill="#bbb" stroke="#444" stroke-width="0.45">
<rect x="484.4" y="928.5" width="1.5" height="3.4"/>
<rect x="485.9" y="930.2" width="1.5" height="3.4"/>
<rect x="487.4" y="931.8" width="1.5" height="3.4"/>
<rect x="488.8" y="933.2" width="1.5" height="3.4"/>
<rect x="490.3" y="934.6" width="1.5" height="3.4"/>
<rect x="491.8" y="935.8" width="1.5" height="3.4"/>
<rect x="493.3" y="937" width="1.5" height="3.4"/>
<rect x="494.8" y="938.1" width="1.5" height="3.4"/>
<rect x="496.3" y="939.1" width="1.5" height="3.4"/>
<rect x="497.7" y="940" width="1.5" height="3.4"/>
<rect x="499.2" y="941" width="1.5" height="3.4"/>
<rect x="500.7" y="941.8" width="1.5" height="3.4"/>
<rect x="502.2" y="942.6" width="1.5" height="3.4"/>
<rect x="503.7" y="943.4" width="1.5" height="3.4"/>
<rect x="505.2" y="944.1" width="1.5" height="3.4"/>
<rect x="506.6" y="944.8" width="1.5" height="3.4"/>
<rect x="508.1" y="945.5" width="1.5" height="3.4"/>
<rect x="509.6" y="946.1" width="1.5" height="3.4"/>
<rect x="511.1" y="946.7" width="1.5" height="3.4"/>
<rect x="512.6" y="947.3" width="1.5" height="3.4"/>
<rect x="514.1" y="947.9" width="1.5" height="3.4"/>
<rect x="515.5" y="948.4" width="1.5" height="3.4"/>
<rect x="517" y="948.9" width="1.5" height="3.4"/>
<rect x="518.5" y="949.4" width="1.5" height="3.4"/>
<rect x="520" y="949.9" width="1.5" height="3.4"/>
<rect x="521.5" y="950.3" width="1.5" height="3.4"/>
<rect x="523" y="950.8" width="1.5" height="3.4"/>
<rect x="524.4" y="951.2" width="1.5" height="3.4"/>
<rect x="525.9" y="951.6" width="1.5" height="3.4"/>
<rect x="527.4" y="952" width="1.5" height="3.4"/>
<rect x="528.9" y="952.4" width="1.5" height="3.4"/>
<rect x="530.4" y="952.8" width="1.5" height="3.4"/>
<rect x="531.9" y="953.2" width="1.5" height="3.4"/>
<rect x="533.3" y="953.5" width="1.5" height="3.4"/>
<rect x="534.8" y="953.9" width="1.5" height="3.4"/>
<rect x="536.3" y="954.2" width="1.5" height="3.4"/>
<rect x="537.8" y="954.5" width="1.5" height="3.4"/>
<rect x="539.3" y="954.8" width="1.5" height="3.4"/>
<rect x="540.8" y="955.1" width="1.5" height="3.4"/>
<rect x="542.2" y="955.4" width="1.5" height="3.4"/>
<rect x="543.7" y="955.7" width="1.5" height="3.4"/>
<rect x="545.2" y="956" width="1.5" height="3.4"/>
<rect x="546.7" y="956.3" width="1.5" height="3.4"/>
<rect x="548.2" y="956.6" width="1.5" height="3.4"/>
<rect x="549.7" y="956.8" width="1.5" height="3.4"/>
<rect x="551.1" y="957.1" width="1.5" height="3.4"/>
<rect x="552.6" y="957.4" width="1.5" height="3.4"/>
<rect x="554.1" y="957.6" width="1.5" height="3.4"/>
<rect x="555.6" y="957.8" width="1.5" height="3.4"/>
<rect x="557.1" y="958.1" width="1.5" height="3.4"/>
<rect x="558.6" y="958.3" width="1.5" height="3.4"/>
<rect x="560" y="958.5" width="1.5" height="3.4"/>
<rect x="561.5" y="958.8" width="1.5" height="3.4"/>
<rect x="563" y="959" width="1.5" height="3.4"/>
<rect x="564.5" y="959.2" width="1.5" height="3.4"/>
<rect x="566" y="959.4" width="1.5" height="3.4"/>
<rect x="567.5" y="959.6" width="1.5" height="3.4"/>
<rect x="568.9" y="959.8" width="1.5" height="3.4"/>
<rect x="570.4" y="960" width="1.5" height="3.4"/>
<rect x="571.9" y="960.2" width="1.5" height="3.4"/>
<rect x="573.4" y="960.4" width="1.5" height="3.4"/>
<rect x="574.9" y="960.6" width="1.5" height="3.4"/>
<rect x="576.4" y="960.7" width="1.5" height="3.4"/>
<rect x="577.8" y="960.9" width="1.5" height="3.4"/>
<rect x="579.3" y="961.1" width="1.5" height="3.4"/>
<rect x="580.8" y="961.3" width="1.5" height="3.4"/>
<rect x="582.3" y="961.4" width="1.5" height="3.4"/>
<rect x="583.8" y="961.6" width="1.5" height="3.4"/>
<rect x="585.3" y="961.8" width="1.5" height="3.4"/>
<rect x="586.7" y="961.9" width="1.5" height="3.4"/>
<rect x="588.2" y="962.1" width="1.5" height="3.4"/>
<rect x="589.7" y="962.2" width="1.5" height="3.4"/>
<rect x="591.2" y="962.4" width="1.5" height="3.4"/>
<rect x="592.7" y="962.5" width="1.5" height="3.4"/>
<rect x="594.2" y="962.7" width="1.5" height="3.4"/>
<rect x="595.6" y="962.8" width="1.5" height="3.4"/>
<rect x="597.1" y="963" width="1.5" height="3.4"/>
<rect x="598.6" y="963.1" width="1.5" height="3.4"/>
<rect x="600.1" y="963.2" width="1.5" height="3.4"/>
<rect x="601.6" y="963.4" width="1.5" height="3.4"/>
<rect x="603" y="963.5" width="1.5" height="3.4"/>
<rect x="604.5" y="963.6" width="1.5" height="3.4"/>
<rect x="606" y="963.8" width="1.5" height="3.4"/>
<rect x="607.5" y="963.9" width="1.5" height="3.4"/>
<rect x="609" y="964" width="1.5" height="3.4"/>
<rect x="610.5" y="964.2" width="1.5" height="3.4"/>
<rect x="611.9" y="964.3" width="1.5" height="3.4"/>
<rect x="613.4" y="964.4" width="1.5" height="3.4"/>
<rect x="614.9" y="964.5" width="1.5" height="3.4"/>
<rect x="616.4" y="964.6" width="1.5" height="3.4"/>
<rect x="617.9" y="964.8" width="1.5" height="3.4"/>
<rect x="619.4" y="964.9" width="1.5" height="3.4"/>
<rect x="620.8" y="965" width="1.5" height="3.4"/>
<rect x="622.3" y="965.1" width="1.5" height="3.4"/>
<rect x="623.8" y="965.2" width="1.5" height="3.4"/>
<rect x="625.3" y="965.3" width="1.5" height="3.4"/>
<rect x="626.8" y="965.4" width="1.5" height="3.4"/>
<rect x="628.3" y="965.5" width="1.5" height="3.4"/>
<rect x="629.7" y="965.6" width="1.5" height="3.4"/>
<rect x="631.2" y="965.7" width="1.5" height="3.4"/>
<rect x="632.7" y="965.8" width="1.5" height="3.4"/>
<rect x="634.2" y="965.9" width="1.5" height="3.4"/>
<rect x="635.7" y="966" width="1.5" height="3.4"/>
<rect x="637.2" y="966.1" width="1.5" height="3.4"/>
<rect x="638.6" y="966.2" width="1.5" height="3.4"/>
<rect x="640.1" y="966.3" width="1.5" height="3.4"/>
<rect x="641.6" y="966.4" width="1.5" height="3.4"/>
<rect x="643.1" y="966.5" width="1.5" height="3.4"/>
<rect x="644.6" y="966.6" width="1.5" height="3.4"/>
<rect x="646.1" y="966.7" width="1.5" height="3.4"/>
<rect x="647.5" y="966.8" width="1.5" height="3.4"/>
<rect x="649" y="966.9" width="1.5" height="3.4"/>
<rect x="650.5" y="967" width="1.5" height="3.4"/>
<rect x="652" y="967.1" width="1.5" height="3.4"/>
<rect x="653.5" y="967.2" width="1.5" height="3.4"/>
<rect x="655" y="967.3" width="1.5" height="3.4"/>
<rect x="656.4" y="967.3" width="1.5" height="3.4"/>
<rect x="657.9" y="967.4" width="1.5" height="3.4"/>
<rect x="659.4" y="967.5" width="1.5" height="3.4"/>
<rect x="660.9" y="967.6" width="1.5" height="3.4"/>
<rect x="662.4" y="967.7" width="1.5" height="3.4"/>
<rect x="663.9" y="967.7" width="1.5" height="3.4"/>
<rect x="665.3" y="967.8" width="1.5" height="3.4"/>
<rect x="666.8" y="967.9" width="1.5" height="3.4"/>
<rect x="668.3" y="968" width="1.5" height="3.4"/>
<rect x="669.8" y="968.1" width="1.5" height="3.4"/>
<rect x="671.3" y="968.1" width="1.5" height="3.4"/>
<rect x="672.8" y="968.2" width="1.5" height="3.4"/>
<rect x="674.2" y="968.3" width="1.5" height="3.4"/>
<rect x="675.7" y="968.4" width="1.5" height="3.4"/>
<rect x="677.2" y="968.4" width="1.5" height="3.4"/>
</g>
<g fill="#1c2cd0" stroke="#0a0a55" stroke-width="0.5">
<circle cx="485.1" cy="928.5" r="2.1"/>
<circle cx="486.6" cy="930.2" r="2.1"/>
<circle cx="488.1" cy="931.8" r="2.1"/>
<circle cx="489.6" cy="933.2" r="2.1"/>
<circle cx="491.1" cy="934.6" r="2.1"/>
<circle cx="492.6" cy="935.8" r="2.1"/>
<circle cx="494" cy="937" r="2.1"/>
<circle cx="495.5" cy="938.1" r="2.1"/>
<circle cx="497" cy="939.1" r="2.1"/>
<circle cx="498.5" cy="940" r="2.1"/>
<circle cx="500" cy="941" r="2.1"/>
<circle cx="501.5" cy="941.8" r="2.1"/>
<circle cx="502.9" cy="942.6" r="2.1"/>
<circle cx="504.4" cy="943.4" r="2.1"/>
<circle cx="505.9" cy="944.1" r="2.1"/>
<circle cx="507.4" cy="944.8" r="2.1"/>
<circle cx="508.9" cy="945.5" r="2.1"/>
<circle cx="510.4" cy="946.1" r="2.1"/>
<circle cx="511.8" cy="946.7" r="2.1"/>
<circle cx="513.3" cy="947.3" r="2.1"/>
<circle cx="514.8" cy="947.9" r="2.1"/>
<circle cx="516.3" cy="948.4" r="2.1"/>
<circle cx="517.8" cy="948.9" r="2.1"/>
<circle cx="519.3" cy="949.4" r="2.1"/>
<circle cx="520.7" cy="949.9" r="2.1"/>
<circle cx="522.2" cy="950.3" r="2.1"/>
<circle cx="523.7" cy="950.8" r="2.1"/>
<circle cx="525.2" cy="951.2" r="2.1"/>
<circle cx="526.7" cy="951.6" r="2.1"/>
<circle cx="528.2" cy="952" r="2.1"/>
<circle cx="529.6" cy="952.4" r="2.1"/>
<circle cx="531.1" cy="952.8" r="2.1"/>
<circle cx="532.6" cy="953.2" r="2.1"/>
<circle cx="534.1" cy="953.5" r="2.1"/>
<circle cx="535.6" cy="953.9" r="2.1"/>
<circle cx="537.1" cy="954.2" r="2.1"/>
<circle cx="538.5" cy="954.5" r="2.1"/>
<circle cx="540" cy="954.8" r="2.1"/>
<circle cx="541.5" cy="955.1" r="2.1"/>
<circle cx="543" cy="955.4" r="2.1"/>
<circle cx="544.5" cy="955.7" r="2.1"/>
<circle cx="546" cy="956" r="2.1"/>
<circle cx="547.4" cy="956.3" r="2.1"/>
<circle cx="548.9" cy="956.6" r="2.1"/>
<circle cx="550.4" cy="956.8" r="2.1"/>
<circle cx="551.9" cy="957.1" r="2.1"/>
<circle cx="553.4" cy="957.4" r="2.1"/>
<circle cx="554.9" cy="957.6" r="2.1"/>
<circle cx="556.3" cy="957.8" r="2.1"/>
<circle cx="557.8" cy="958.1" r="2.1"/>
<circle cx="559.3" cy="958.3" r="2.1"/>
<circle cx="560.8" cy="958.5" r="2.1"/>
<circle cx="562.3" cy="958.8" r="2.1"/>
<circle cx="563.8" cy="959" r="2.1"/>
<circle cx="565.2" cy="959.2" r="2.1"/>
<circle cx="566.7" cy="959.4" r="2.1"/>
<circle cx="568.2" cy="959.6" r="2.1"/>
<circle cx="569.7" cy="959.8" r="2.1"/>
<circle cx="571.2" cy="960" r="2.1"/>
<circle cx="572.7" cy="960.2" r="2.1"/>
<circle cx="574.1" cy="960.4" r="2.1"/>
<circle cx="575.6" cy="960.6" r="2.1"/>
<circle cx="577.1" cy="960.7" r="2.1"/>
<circle cx="578.6" cy="960.9" r="2.1"/>
<circle cx="580.1" cy="961.1" r="2.1"/>
<circle cx="581.6" cy="961.3" r="2.1"/>
<circle cx="583" cy="961.4" r="2.1"/>
<circle cx="584.5" cy="961.6" r="2.1"/>
<circle cx="586" cy="961.8" r="2.1"/>
<circle cx="587.5" cy="961.9" r="2.1"/>
<circle cx="589" cy="962.1" r="2.1"/>
<circle cx="590.5" cy="962.2" r="2.1"/>
<circle cx="591.9" cy="962.4" r="2.1"/>
<circle cx="593.4" cy="962.5" r="2.1"/>
<circle cx="594.9" cy="962.7" r="2.1"/>
<circle cx="596.4" cy="962.8" r="2.1"/>
<circle cx="597.9" cy="963" r="2.1"/>
<circle cx="599.4" cy="963.1" r="2.1"/>
<circle cx="600.8" cy="963.2" r="2.1"/>
<circle cx="602.3" cy="963.4" r="2.1"/>
<circle cx="603.8" cy="963.5" r="2.1"/>
<circle cx="605.3" cy="963.6" r="2.1"/>
<circle cx="606.8" cy="963.8" r="2.1"/>
<circle cx="608.2" cy="963.9" r="2.1"/>
<circle cx="609.7" cy="964" r="2.1"/>
<circle cx="611.2" cy="964.2" r="2.1"/>
<circle cx="612.7" cy="964.3" r="2.1"/>
<circle cx="614.2" cy="964.4" r="2.1"/>
<circle cx="615.7" cy="964.5" r="2.1"/>
<circle cx="617.1" cy="964.6" r="2.1"/>
<circle cx="618.6" cy="964.8" r="2.1"/>
<circle cx="620.1" cy="964.9" r="2.1"/>
<circle cx="621.6" cy="965" r="2.1"/>
<circle cx="623.1" cy="965.1" r="2.1"/>
<circle cx="624.6" cy="965.2" r="2.1"/>
<circle cx="626" cy="965.3" r="2.1"/>
<circle cx="627.5" cy="965.4" r="2.1"/>
<circle cx="629" cy="965.5" r="2.1"/>
<circle cx="630.5" cy="965.6" r="2.1"/>
<circle cx="632" cy="965.7" r="2.1"/>
<circle cx="633.5" cy="965.8" r="2.1"/>
<circle cx="634.9" cy="965.9" r="2.1"/>
<circle cx="636.4" cy="966" r="2.1"/>
<circle cx="637.9" cy="966.1" r="2.1"/>
<circle cx="639.4" cy="966.2" r="2.1"/>
<circle cx="640.9" cy="966.3" r="2.1"/>
<circle cx="642.4" cy="966.4" r="2.1"/>
<circle cx="643.8" cy="966.5" r="2.1"/>
<circle cx="645.3" cy="966.6" r="2.1"/>
<circle cx="646.8" cy="966.7" r="2.1"/>
<circle cx="648.3" cy="966.8" r="2.1"/>
<circle cx="649.8" cy="966.9" r="2.1"/>
<circle cx="651.3" cy="967" r="2.1"/>
<circle cx="652.7" cy="967.1" r="2.1"/>
<circle cx="654.2" cy="967.2" r="2.1"/>
<circle cx="655.7" cy="967.3" r="2.1"/>
<circle cx="657.2" cy="967.3" r="2.1"/>
<circle cx="658.7" cy="967.4" r="2.1"/>
<circle cx="660.2" cy="967.5" r="2.1"/>
<circle cx="661.6" cy="967.6" r="2.1"/>
<circle cx="663.1" cy="967.7" r="2.1"/>
<circle cx="664.6" cy="967.7" r="2.1"/>
<circle cx="666.1" cy="967.8" r="2.1"/>
<circle cx="667.6" cy="967.9" r="2.1"/>
<circle cx="669.1" cy="968" r="2.1"/>
<circle cx="670.5" cy="968.1" r="2.1"/>
<circle cx="672" cy="968.1" r="2.1"/>
<circle cx="673.5" cy="968.2" r="2.1"/>
<circle cx="675" cy="968.3" r="2.1"/>
<circle cx="676.5" cy="968.4" r="2.1"/>
<circle cx="678" cy="968.4" r="2.1"/>
</g>
<g fill="#bbb" stroke="#444" stroke-width="0.45">
<rect x="484.4" y="923.5" width="1.5" height="3"/>
<rect x="485.9" y="924.9" width="1.5" height="3"/>
<rect x="487.4" y="926.3" width="1.5" height="3"/>
<rect x="488.8" y="927.5" width="1.5" height="3"/>
<rect x="490.3" y="928.7" width="1.5" height="3"/>
<rect x="491.8" y="929.7" width="1.5" height="3"/>
<rect x="493.3" y="930.7" width="1.5" height="3"/>
<rect x="494.8" y="931.6" width="1.5" height="3"/>
<rect x="496.3" y="932.5" width="1.5" height="3"/>
<rect x="497.7" y="933.2" width="1.5" height="3"/>
<rect x="499.2" y="934" width="1.5" height="3"/>
<rect x="500.7" y="934.7" width="1.5" height="3"/>
<rect x="502.2" y="935.4" width="1.5" height="3"/>
<rect x="503.7" y="936" width="1.5" height="3"/>
<rect x="505.2" y="936.6" width="1.5" height="3"/>
<rect x="506.6" y="937.1" width="1.5" height="3"/>
<rect x="508.1" y="937.7" width="1.5" height="3"/>
<rect x="509.6" y="938.2" width="1.5" height="3"/>
<rect x="511.1" y="938.7" width="1.5" height="3"/>
<rect x="512.6" y="939.1" width="1.5" height="3"/>
<rect x="514.1" y="939.6" width="1.5" height="3"/>
<rect x="515.5" y="940" width="1.5" height="3"/>
<rect x="517" y="940.4" width="1.5" height="3"/>
<rect x="518.5" y="940.8" width="1.5" height="3"/>
<rect x="520" y="941.2" width="1.5" height="3"/>
<rect x="521.5" y="941.5" width="1.5" height="3"/>
<rect x="523" y="941.9" width="1.5" height="3"/>
<rect x="524.4" y="942.2" width="1.5" height="3"/>
<rect x="525.9" y="942.6" width="1.5" height="3"/>
<rect x="527.4" y="942.9" width="1.5" height="3"/>
<rect x="528.9" y="943.2" width="1.5" height="3"/>
<rect x="530.4" y="943.5" width="1.5" height="3"/>
<rect x="531.9" y="943.7" width="1.5" height="3"/>
<rect x="533.3" y="944" width="1.5" height="3"/>
<rect x="534.8" y="944.3" width="1.5" height="3"/>
<rect x="536.3" y="944.5" width="1.5" height="3"/>
<rect x="537.8" y="944.8" width="1.5" height="3"/>
<rect x="539.3" y="945" width="1.5" height="3"/>
<rect x="540.8" y="945.3" width="1.5" height="3"/>
<rect x="542.2" y="945.5" width="1.5" height="3"/>
<rect x="543.7" y="945.7" width="1.5" height="3"/>
<rect x="545.2" y="945.9" width="1.5" height="3"/>
<rect x="546.7" y="946.2" width="1.5" height="3"/>
<rect x="548.2" y="946.4" width="1.5" height="3"/>
<rect x="549.7" y="946.6" width="1.5" height="3"/>
<rect x="551.1" y="946.8" width="1.5" height="3"/>
<rect x="552.6" y="946.9" width="1.5" height="3"/>
<rect x="554.1" y="947.1" width="1.5" height="3"/>
<rect x="555.6" y="947.3" width="1.5" height="3"/>
<rect x="557.1" y="947.5" width="1.5" height="3"/>
<rect x="558.6" y="947.7" width="1.5" height="3"/>
<rect x="560" y="947.8" width="1.5" height="3"/>
<rect x="561.5" y="948" width="1.5" height="3"/>
<rect x="563" y="948.2" width="1.5" height="3"/>
<rect x="564.5" y="948.3" width="1.5" height="3"/>
<rect x="566" y="948.5" width="1.5" height="3"/>
<rect x="567.5" y="948.6" width="1.5" height="3"/>
<rect x="568.9" y="948.8" width="1.5" height="3"/>
<rect x="570.4" y="948.9" width="1.5" height="3"/>
<rect x="571.9" y="949.1" width="1.5" height="3"/>
<rect x="573.4" y="949.2" width="1.5" height="3"/>
<rect x="574.9" y="949.3" width="1.5" height="3"/>
<rect x="576.4" y="949.5" width="1.5" height="3"/>
<rect x="577.8" y="949.6" width="1.5" height="3"/>
<rect x="579.3" y="949.7" width="1.5" height="3"/>
<rect x="580.8" y="949.9" width="1.5" height="3"/>
<rect x="582.3" y="950" width="1.5" height="3"/>
<rect x="583.8" y="950.1" width="1.5" height="3"/>
<rect x="585.3" y="950.2" width="1.5" height="3"/>
<rect x="586.7" y="950.3" width="1.5" height="3"/>
<rect x="588.2" y="950.5" width="1.5" height="3"/>
<rect x="589.7" y="950.6" width="1.5" height="3"/>
<rect x="591.2" y="950.7" width="1.5" height="3"/>
<rect x="592.7" y="950.8" width="1.5" height="3"/>
<rect x="594.2" y="950.9" width="1.5" height="3"/>
<rect x="595.6" y="951" width="1.5" height="3"/>
<rect x="597.1" y="951.1" width="1.5" height="3"/>
<rect x="598.6" y="951.2" width="1.5" height="3"/>
<rect x="600.1" y="951.3" width="1.5" height="3"/>
<rect x="601.6" y="951.4" width="1.5" height="3"/>
<rect x="603" y="951.5" width="1.5" height="3"/>
<rect x="604.5" y="951.6" width="1.5" height="3"/>
<rect x="606" y="951.7" width="1.5" height="3"/>
<rect x="607.5" y="951.8" width="1.5" height="3"/>
<rect x="609" y="951.9" width="1.5" height="3"/>
<rect x="610.5" y="952" width="1.5" height="3"/>
<rect x="611.9" y="952.1" width="1.5" height="3"/>
<rect x="613.4" y="952.1" width="1.5" height="3"/>
<rect x="614.9" y="952.2" width="1.5" height="3"/>
<rect x="616.4" y="952.3" width="1.5" height="3"/>
<rect x="617.9" y="952.4" width="1.5" height="3"/>
<rect x="619.4" y="952.5" width="1.5" height="3"/>
<rect x="620.8" y="952.6" width="1.5" height="3"/>
<rect x="622.3" y="952.6" width="1.5" height="3"/>
<rect x="623.8" y="952.7" width="1.5" height="3"/>
<rect x="625.3" y="952.8" width="1.5" height="3"/>
<rect x="626.8" y="952.9" width="1.5" height="3"/>
</g>
<g fill="#1a8a22" stroke="#0a3a0a" stroke-width="0.5">
<path d="M485.1 924.4l2.1 3.7 -4.2 0z"/>
<path d="M486.6 925.8l2.1 3.7 -4.2 0z"/>
<path d="M488.1 927.2l2.1 3.7 -4.2 0z"/>
<path d="M489.6 928.4l2.1 3.7 -4.2 0z"/>
<path d="M491.1 929.6l2.1 3.7 -4.2 0z"/>
<path d="M492.6 930.6l2.1 3.7 -4.2 0z"/>
<path d="M494 931.6l2.1 3.7 -4.2 0z"/>
<path d="M495.5 932.5l2.1 3.7 -4.2 0z"/>
<path d="M497 933.4l2.1 3.7 -4.2 0z"/>
<path d="M498.5 934.1l2.1 3.7 -4.2 0z"/>
<path d="M500 934.9l2.1 3.7 -4.2 0z"/>
<path d="M501.5 935.6l2.1 3.7 -4.2 0z"/>
<path d="M502.9 936.3l2.1 3.7 -4.2 0z"/>
<path d="M504.4 936.9l2.1 3.7 -4.2 0z"/>
<path d="M505.9 937.5l2.1 3.7 -4.2 0z"/>
<path d="M507.4 938l2.1 3.7 -4.2 0z"/>
<path d="M508.9 938.6l2.1 3.7 -4.2 0z"/>
<path d="M510.4 939.1l2.1 3.7 -4.2 0z"/>
<path d="M511.8 939.6l2.1 3.7 -4.2 0z"/>
<path d="M513.3 940l2.1 3.7 -4.2 0z"/>
<path d="M514.8 940.5l2.1 3.7 -4.2 0z"/>
<path d="M516.3 940.9l2.1 3.7 -4.2 0z"/>
<path d="M517.8 941.3l2.1 3.7 -4.2 0z"/>
<path d="M519.3 941.7l2.1 3.7 -4.2 0z"/>
<path d="M520.7 942.1l2.1 3.7 -4.2 0z"/>
<path d="M522.2 942.4l2.1 3.7 -4.2 0z"/>
<path d="M523.7 942.8l2.1 3.7 -4.2 0z"/>
<path d="M525.2 943.1l2.1 3.7 -4.2 0z"/>
<path d="M526.7 943.5l2.1 3.7 -4.2 0z"/>
<path d="M528.2 943.8l2.1 3.7 -4.2 0z"/>
<path d="M529.6 944.1l2.1 3.7 -4.2 0z"/>
<path d="M531.1 944.4l2.1 3.7 -4.2 0z"/>
<path d="M532.6 944.6l2.1 3.7 -4.2 0z"/>
<path d="M534.1 944.9l2.1 3.7 -4.2 0z"/>
<path d="M535.6 945.2l2.1 3.7 -4.2 0z"/>
<path d="M537.1 945.4l2.1 3.7 -4.2 0z"/>
<path d="M538.5 945.7l2.1 3.7 -4.2 0z"/>
<path d="M540 945.9l2.1 3.7 -4.2 0z"/>
<path d="M541.5 946.2l2.1 3.7 -4.2 0z"/>
<path d="M543 946.4l2.1 3.7 -4.2 0z"/>
<path d="M544.5 946.6l2.1 3.7 -4.2 0z"/>
<path d="M546 946.8l2.1 3.7 -4.2 0z"/>
<path d="M547.4 947.1l2.1 3.7 -4.2 0z"/>
<path d="M548.9 947.3l2.1 3.7 -4.2 0z"/>
<path d="M550.4 947.5l2.1 3.7 -4.2 0z"/>
<path d="M551.9 947.7l2.1 3.7 -4.2 0z"/>
<path d="M553.4 947.8l2.1 3.7 -4.2 0z"/>
<path d="M554.9 948l2.1 3.7 -4.2 0z"/>
<path d="M556.3 948.2l2.1 3.7 -4.2 0z"/>
<path d="M557.8 948.4l2.1 3.7 -4.2 0z"/>
<path d="M559.3 948.6l2.1 3.7 -4.2 0z"/>
<path d="M560.8 948.7l2.1 3.7 -4.2 0z"/>
<path d="M562.3 948.9l2.1 3.7 -4.2 0z"/>
<path d="M563.8 949.1l2.1 3.7 -4.2 0z"/>
<path d="M565.2 949.2l2.1 3.7 -4.2 0z"/>
<path d="M566.7 949.4l2.1 3.7 -4.2 0z"/>
<path d="M568.2 949.5l2.1 3.7 -4.2 0z"/>
<path d="M569.7 949.7l2.1 3.7 -4.2 0z"/>
<path d="M571.2 949.8l2.1 3.7 -4.2 0z"/>
<path d="M572.7 950l2.1 3.7 -4.2 0z"/>
<path d="M574.1 950.1l2.1 3.7 -4.2 0z"/>
<path d="M575.6 950.2l2.1 3.7 -4.2 0z"/>
<path d="M577.1 950.4l2.1 3.7 -4.2 0z"/>
<path d="M578.6 950.5l2.1 3.7 -4.2 0z"/>
<path d="M580.1 950.6l2.1 3.7 -4.2 0z"/>
<path d="M581.6 950.8l2.1 3.7 -4.2 0z"/>
<path d="M583 950.9l2.1 3.7 -4.2 0z"/>
<path d="M584.5 951l2.1 3.7 -4.2 0z"/>
<path d="M586 951.1l2.1 3.7 -4.2 0z"/>
<path d="M587.5 951.2l2.1 3.7 -4.2 0z"/>
<path d="M589 951.4l2.1 3.7 -4.2 0z"/>
<path d="M590.5 951.5l2.1 3.7 -4.2 0z"/>
<path d="M591.9 951.6l2.1 3.7 -4.2 0z"/>
<path d="M593.4 951.7l2.1 3.7 -4.2 0z"/>
<path d="M594.9 951.8l2.1 3.7 -4.2 0z"/>
<path d="M596.4 951.9l2.1 3.7 -4.2 0z"/>
<path d="M597.9 952l2.1 3.7 -4.2 0z"/>
<path d="M599.4 952.1l2.1 3.7 -4.2 0z"/>
<path d="M600.8 952.2l2.1 3.7 -4.2 0z"/>
<path d="M602.3 952.3l2.1 3.7 -4.2 0z"/>
<path d="M603.8 952.4l2.1 3.7 -4.2 0z"/>
<path d="M605.3 952.5l2.1 3.7 -4.2 0z"/>
<path d="M606.8 952.6l2.1 3.7 -4.2 0z"/>
<path d="M608.2 952.7l2.1 3.7 -4.2 0z"/>
<path d="M609.7 952.8l2.1 3.7 -4.2 0z"/>
<path d="M611.2 952.9l2.1 3.7 -4.2 0z"/>
<path d="M612.7 953l2.1 3.7 -4.2 0z"/>
<path d="M614.2 953l2.1 3.7 -4.2 0z"/>
<path d="M615.7 953.1l2.1 3.7 -4.2 0z"/>
<path d="M617.1 953.2l2.1 3.7 -4.2 0z"/>
<path d="M618.6 953.3l2.1 3.7 -4.2 0z"/>
<path d="M620.1 953.4l2.1 3.7 -4.2 0z"/>
<path d="M621.6 953.5l2.1 3.7 -4.2 0z"/>
<path d="M623.1 953.5l2.1 3.7 -4.2 0z"/>
<path d="M624.6 953.6l2.1 3.7 -4.2 0z"/>
<path d="M626 953.7l2.1 3.7 -4.2 0z"/>
<path d="M627.5 953.8l2.1 3.7 -4.2 0z"/>
</g>
<g fill="#bbb" stroke="#444" stroke-width="0.45">
<rect x="484.4" y="919.1" width="1.5" height="3.2"/>
<rect x="485.9" y="920.8" width="1.5" height="3.2"/>
<rect x="487.4" y="922.2" width="1.5" height="3.2"/>
<rect x="488.8" y="923.6" width="1.5" height="3.2"/>
<rect x="490.3" y="924.7" width="1.5" height="3.2"/>
<rect x="491.8" y="925.8" width="1.5" height="3.2"/>
<rect x="493.3" y="926.8" width="1.5" height="3.2"/>
<rect x="494.8" y="927.7" width="1.5" height="3.2"/>
<rect x="496.3" y="928.5" width="1.5" height="3.2"/>
<rect x="497.7" y="929.3" width="1.5" height="3.2"/>
<rect x="499.2" y="930" width="1.5" height="3.2"/>
<rect x="500.7" y="930.6" width="1.5" height="3.2"/>
<rect x="502.2" y="931.2" width="1.5" height="3.2"/>
<rect x="503.7" y="931.8" width="1.5" height="3.2"/>
<rect x="505.2" y="932.3" width="1.5" height="3.2"/>
<rect x="506.6" y="932.8" width="1.5" height="3.2"/>
<rect x="508.1" y="933.2" width="1.5" height="3.2"/>
<rect x="509.6" y="933.7" width="1.5" height="3.2"/>
<rect x="511.1" y="934.1" width="1.5" height="3.2"/>
<rect x="512.6" y="934.5" width="1.5" height="3.2"/>
<rect x="514.1" y="934.8" width="1.5" height="3.2"/>
<rect x="515.5" y="935.2" width="1.5" height="3.2"/>
<rect x="517" y="935.5" width="1.5" height="3.2"/>
<rect x="518.5" y="935.8" width="1.5" height="3.2"/>
<rect x="520" y="936.1" width="1.5" height="3.2"/>
<rect x="521.5" y="936.4" width="1.5" height="3.2"/>
<rect x="523" y="936.6" width="1.5" height="3.2"/>
<rect x="524.4" y="936.9" width="1.5" height="3.2"/>
<rect x="525.9" y="937.1" width="1.5" height="3.2"/>
<rect x="527.4" y="937.4" width="1.5" height="3.2"/>
<rect x="528.9" y="937.6" width="1.5" height="3.2"/>
<rect x="530.4" y="937.8" width="1.5" height="3.2"/>
<rect x="531.9" y="938" width="1.5" height="3.2"/>
<rect x="533.3" y="938.2" width="1.5" height="3.2"/>
<rect x="534.8" y="938.4" width="1.5" height="3.2"/>
<rect x="536.3" y="938.6" width="1.5" height="3.2"/>
<rect x="537.8" y="938.8" width="1.5" height="3.2"/>
<rect x="539.3" y="938.9" width="1.5" height="3.2"/>
<rect x="540.8" y="939.1" width="1.5" height="3.2"/>
<rect x="542.2" y="939.2" width="1.5" height="3.2"/>
<rect x="543.7" y="939.4" width="1.5" height="3.2"/>
<rect x="545.2" y="939.5" width="1.5" height="3.2"/>
<rect x="546.7" y="939.7" width="1.5" height="3.2"/>
<rect x="548.2" y="939.8" width="1.5" height="3.2"/>
<rect x="549.7" y="940" width="1.5" height="3.2"/>
<rect x="551.1" y="940.1" width="1.5" height="3.2"/>
<rect x="552.6" y="940.2" width="1.5" height="3.2"/>
<rect x="554.1" y="940.3" width="1.5" height="3.2"/>
<rect x="555.6" y="940.4" width="1.5" height="3.2"/>
<rect x="557.1" y="940.6" width="1.5" height="3.2"/>
<rect x="558.6" y="940.7" width="1.5" height="3.2"/>
<rect x="560" y="940.8" width="1.5" height="3.2"/>
<rect x="561.5" y="940.9" width="1.5" height="3.2"/>
<rect x="563" y="941" width="1.5" height="3.2"/>
<rect x="564.5" y="941.1" width="1.5" height="3.2"/>
<rect x="566" y="941.2" width="1.5" height="3.2"/>
</g>
<g fill="#5a2cc8" stroke="#22105a" stroke-width="0.5">
<path d="M485.1 920.2l2.1 3.7 -4.2 0z"/>
<path d="M486.6 921.9l2.1 3.7 -4.2 0z"/>
<path d="M488.1 923.3l2.1 3.7 -4.2 0z"/>
<path d="M489.6 924.7l2.1 3.7 -4.2 0z"/>
<path d="M491.1 925.8l2.1 3.7 -4.2 0z"/>
<path d="M492.6 926.9l2.1 3.7 -4.2 0z"/>
<path d="M494 927.9l2.1 3.7 -4.2 0z"/>
<path d="M495.5 928.8l2.1 3.7 -4.2 0z"/>
<path d="M497 929.6l2.1 3.7 -4.2 0z"/>
<path d="M498.5 930.4l2.1 3.7 -4.2 0z"/>
<path d="M500 931.1l2.1 3.7 -4.2 0z"/>
<path d="M501.5 931.7l2.1 3.7 -4.2 0z"/>
<path d="M502.9 932.3l2.1 3.7 -4.2 0z"/>
<path d="M504.4 932.9l2.1 3.7 -4.2 0z"/>
<path d="M505.9 933.4l2.1 3.7 -4.2 0z"/>
<path d="M507.4 933.9l2.1 3.7 -4.2 0z"/>
<path d="M508.9 934.3l2.1 3.7 -4.2 0z"/>
<path d="M510.4 934.8l2.1 3.7 -4.2 0z"/>
<path d="M511.8 935.2l2.1 3.7 -4.2 0z"/>
<path d="M513.3 935.6l2.1 3.7 -4.2 0z"/>
<path d="M514.8 935.9l2.1 3.7 -4.2 0z"/>
<path d="M516.3 936.3l2.1 3.7 -4.2 0z"/>
<path d="M517.8 936.6l2.1 3.7 -4.2 0z"/>
<path d="M519.3 936.9l2.1 3.7 -4.2 0z"/>
<path d="M520.7 937.2l2.1 3.7 -4.2 0z"/>
<path d="M522.2 937.5l2.1 3.7 -4.2 0z"/>
<path d="M523.7 937.7l2.1 3.7 -4.2 0z"/>
<path d="M525.2 938l2.1 3.7 -4.2 0z"/>
<path d="M526.7 938.2l2.1 3.7 -4.2 0z"/>
<path d="M528.2 938.5l2.1 3.7 -4.2 0z"/>
<path d="M529.6 938.7l2.1 3.7 -4.2 0z"/>
<path d="M531.1 938.9l2.1 3.7 -4.2 0z"/>
<path d="M532.6 939.1l2.1 3.7 -4.2 0z"/>
<path d="M534.1 939.3l2.1 3.7 -4.2 0z"/>
<path d="M535.6 939.5l2.1 3.7 -4.2 0z"/>
<path d="M537.1 939.7l2.1 3.7 -4.2 0z"/>
<path d="M538.5 939.9l2.1 3.7 -4.2 0z"/>
<path d="M540 940l2.1 3.7 -4.2 0z"/>
<path d="M541.5 940.2l2.1 3.7 -4.2 0z"/>
<path d="M543 940.3l2.1 3.7 -4.2 0z"/>
<path d="M544.5 940.5l2.1 3.7 -4.2 0z"/>
<path d="M546 940.6l2.1 3.7 -4.2 0z"/>
<path d="M547.4 940.8l2.1 3.7 -4.2 0z"/>
<path d="M548.9 940.9l2.1 3.7 -4.2 0z"/>
<path d="M550.4 941.1l2.1 3.7 -4.2 0z"/>
<path d="M551.9 941.2l2.1 3.7 -4.2 0z"/>
<path d="M553.4 941.3l2.1 3.7 -4.2 0z"/>
<path d="M554.9 941.4l2.1 3.7 -4.2 0z"/>
<path d="M556.3 941.5l2.1 3.7 -4.2 0z"/>
<path d="M557.8 941.7l2.1 3.7 -4.2 0z"/>
<path d="M559.3 941.8l2.1 3.7 -4.2 0z"/>
<path d="M560.8 941.9l2.1 3.7 -4.2 0z"/>
<path d="M562.3 942l2.1 3.7 -4.2 0z"/>
<path d="M563.8 942.1l2.1 3.7 -4.2 0z"/>
<path d="M565.2 942.2l2.1 3.7 -4.2 0z"/>
<path d="M566.7 942.3l2.1 3.7 -4.2 0z"/>
</g>
<rect x="589.6" y="814.2" width="149" height="42.6" fill="#fff" stroke="#555" stroke-width="0.8"/>
<text x="608.7" y="822.5" font-size="6.6" textLength="66" lengthAdjust="spacingAndGlyphs" fill="#333">Bacterial gene families</text>
<text x="608.7" y="832.7" font-size="6.6" textLength="84.6" lengthAdjust="spacingAndGlyphs" fill="#333">Partial genome gene families</text>
<text x="608.7" y="842.6" font-size="6.6" textLength="113" lengthAdjust="spacingAndGlyphs" fill="#333">Bacterial gene families - strains filtered</text>
<text x="608.7" y="852.8" font-size="6.6" textLength="116.4" lengthAdjust="spacingAndGlyphs" fill="#333">Bacterial gene families - species filtered</text>
<circle cx="597.7" cy="820.1" r="2.5" fill="#1c2cd0" stroke="#0a0a55" stroke-width="0.5"/>
<circle cx="597.7" cy="830.3" r="2.5" fill="#c81212" stroke="#5a0000" stroke-width="0.5"/>
<path d="M597.7 837.7l2.7 4.7 -5.4 0z" fill="#1a8a2a" stroke="#0a3a0a" stroke-width="0.5"/>
<path d="M597.7 847.9l2.7 4.7 -5.4 0z" fill="#5a3ac8" stroke="#22105a" stroke-width="0.5"/>
</svg>
</body></html>
